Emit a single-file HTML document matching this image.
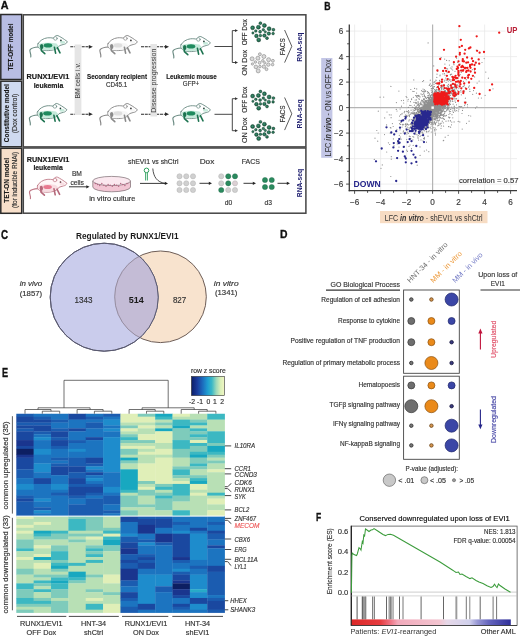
<!DOCTYPE html>
<html><head><meta charset="utf-8"><style>
html,body{margin:0;padding:0;background:#fff;}
body{width:520px;height:637px;overflow:hidden;}
svg{display:block;font-family:"Liberation Sans", sans-serif;filter:blur(0.35px);}
</style></head><body>
<svg width="520" height="637" viewBox="0 0 520 637">
<rect width="520" height="637" fill="#fff"/>
<text x="0.8" y="9.4" font-size="11.4" font-weight="bold" fill="#111" textLength="7.8" lengthAdjust="spacingAndGlyphs" stroke="#111" stroke-width="0.35">A</text>
<rect x="0.8" y="14.5" width="20.9" height="65" fill="#b8bde3" stroke="#2a2a2a" stroke-width="1.5"/>
<rect x="0.8" y="81.2" width="20.9" height="65.6" fill="#cfdaf0" stroke="#2a2a2a" stroke-width="1.5"/>
<rect x="0.8" y="148.3" width="20.9" height="65" fill="#f8e0cb" stroke="#2a2a2a" stroke-width="1.5"/>
<rect x="23.3" y="14.8" width="282.6" height="132.1" fill="#fff" stroke="#444" stroke-width="1.5"/>
<rect x="23.3" y="148" width="282.6" height="65.2" fill="#fff" stroke="#444" stroke-width="1.5"/>
<text x="13.4" y="47.1" font-size="7" font-weight="bold" fill="#1a1a1a" text-anchor="middle" textLength="47" lengthAdjust="spacingAndGlyphs" transform="rotate(-90 13.4 47.1)" stroke="#1a1a1a" stroke-width="0.12">TET-OFF model</text>
<text x="9.2" y="113.2" font-size="7" font-weight="bold" fill="#1a1a1a" text-anchor="middle" textLength="58" lengthAdjust="spacingAndGlyphs" transform="rotate(-90 9.2 113.2)" stroke="#1a1a1a" stroke-width="0.12">Constitutive model</text>
<text x="16.8" y="113.5" font-size="7" fill="#333" text-anchor="middle" textLength="39.5" lengthAdjust="spacingAndGlyphs" transform="rotate(-90 16.8 113.5)" stroke="#333" stroke-width="0.16">(Dox control)</text>
<text x="9.2" y="180.4" font-size="7" font-weight="bold" fill="#1a1a1a" text-anchor="middle" textLength="44.8" lengthAdjust="spacingAndGlyphs" transform="rotate(-90 9.2 180.4)" stroke="#1a1a1a" stroke-width="0.12">TET-ON model</text>
<text x="16.8" y="179.9" font-size="7" fill="#333" text-anchor="middle" textLength="56" lengthAdjust="spacingAndGlyphs" transform="rotate(-90 16.8 179.9)" stroke="#333" stroke-width="0.16">(for inducible RNAi)</text>
<g transform="translate(25 30)" stroke-linecap="round" stroke-linejoin="round">
<path d="M13.6,17 C10,17.2 6.4,18 5,19.8 C4.2,21.6 6.4,23.8 5.8,27" fill="none" stroke="#6a8a82" stroke-width="1.15"/>
<path d="M13,13.8 C14.5,10.8 18.5,8.2 22.5,7.8 C25,7.6 27,7.8 28.5,8.2 C30,6.2 31.3,5 32.9,5.6 C35.2,6.7 38.5,8.6 42.4,11.7 C41.6,13.4 40.2,14.1 38.9,14.3 L34.6,15.6 C32.5,18.3 30.5,19.6 28.5,19.9 C25,20.6 21.6,20.8 19,20.4 C16.5,20.1 14.2,18.8 13.2,17.2 C12.6,16.1 12.6,14.9 13,13.8 Z" fill="#ffffff" stroke="#6a8a82" stroke-width="0.9"/>
<path d="M13.8,14.2 C18,12.4 26,12.3 31.5,13.6 L33.6,16 C31.5,18.6 28.6,19.8 25,20.1 C21,20.5 17,20.2 15,18.9 C13.8,17.9 13.5,15.6 13.8,14.2 Z" fill="#c6eadb"/>
<ellipse cx="37.6" cy="12.4" rx="2.6" ry="1.4" fill="#c6eadb"/>
<circle cx="30.4" cy="8.4" r="1.8" fill="#ffffff" stroke="#6a8a82" stroke-width="0.7"/>
<ellipse cx="23" cy="15.4" rx="4.3" ry="2.1" fill="#1f8a5e"/>
<ellipse cx="16.8" cy="16.6" rx="1.6" ry="2.5" fill="#1d7350"/>
<circle cx="35.9" cy="10.4" r="0.85" fill="#1f3f35"/>
<path d="M16.1,15.4 L16.4,20.6 L19.8,23.6 M29.4,17.2 L30.6,23.2 M32.4,17.6 L35,22.8" fill="none" stroke="#1d7350" stroke-width="1.6"/>
</g>
<g transform="translate(95 30)" stroke-linecap="round" stroke-linejoin="round">
<path d="M13.6,17 C10,17.2 6.4,18 5,19.8 C4.2,21.6 6.4,23.8 5.8,27" fill="none" stroke="#858585" stroke-width="1.15"/>
<path d="M13,13.8 C14.5,10.8 18.5,8.2 22.5,7.8 C25,7.6 27,7.8 28.5,8.2 C30,6.2 31.3,5 32.9,5.6 C35.2,6.7 38.5,8.6 42.4,11.7 C41.6,13.4 40.2,14.1 38.9,14.3 L34.6,15.6 C32.5,18.3 30.5,19.6 28.5,19.9 C25,20.6 21.6,20.8 19,20.4 C16.5,20.1 14.2,18.8 13.2,17.2 C12.6,16.1 12.6,14.9 13,13.8 Z" fill="#ffffff" stroke="#858585" stroke-width="0.9"/>
<path d="M13.8,14.2 C18,12.4 26,12.3 31.5,13.6 L33.6,16 C31.5,18.6 28.6,19.8 25,20.1 C21,20.5 17,20.2 15,18.9 C13.8,17.9 13.5,15.6 13.8,14.2 Z" fill="#f6f6f6"/>
<ellipse cx="37.6" cy="12.4" rx="2.6" ry="1.4" fill="#f6f6f6"/>
<circle cx="30.4" cy="8.4" r="1.8" fill="#ffffff" stroke="#858585" stroke-width="0.7"/>
<ellipse cx="23" cy="15.4" rx="4.3" ry="2.1" fill="#dedede"/>
<ellipse cx="16.8" cy="16.6" rx="1.6" ry="2.5" fill="#8a8a8a"/>
<circle cx="35.9" cy="10.4" r="0.85" fill="#333"/>
<path d="M16.1,15.4 L16.4,20.6 L19.8,23.6 M29.4,17.2 L30.6,23.2 M32.4,17.6 L35,22.8" fill="none" stroke="#8a8a8a" stroke-width="1.6"/>
</g>
<g transform="translate(24.5 98)" stroke-linecap="round" stroke-linejoin="round">
<path d="M13.6,17 C10,17.2 6.4,18 5,19.8 C4.2,21.6 6.4,23.8 5.8,27" fill="none" stroke="#6a8a82" stroke-width="1.15"/>
<path d="M13,13.8 C14.5,10.8 18.5,8.2 22.5,7.8 C25,7.6 27,7.8 28.5,8.2 C30,6.2 31.3,5 32.9,5.6 C35.2,6.7 38.5,8.6 42.4,11.7 C41.6,13.4 40.2,14.1 38.9,14.3 L34.6,15.6 C32.5,18.3 30.5,19.6 28.5,19.9 C25,20.6 21.6,20.8 19,20.4 C16.5,20.1 14.2,18.8 13.2,17.2 C12.6,16.1 12.6,14.9 13,13.8 Z" fill="#ffffff" stroke="#6a8a82" stroke-width="0.9"/>
<path d="M13.8,14.2 C18,12.4 26,12.3 31.5,13.6 L33.6,16 C31.5,18.6 28.6,19.8 25,20.1 C21,20.5 17,20.2 15,18.9 C13.8,17.9 13.5,15.6 13.8,14.2 Z" fill="#c6eadb"/>
<ellipse cx="37.6" cy="12.4" rx="2.6" ry="1.4" fill="#c6eadb"/>
<circle cx="30.4" cy="8.4" r="1.8" fill="#ffffff" stroke="#6a8a82" stroke-width="0.7"/>
<ellipse cx="23" cy="15.4" rx="4.3" ry="2.1" fill="#1f8a5e"/>
<ellipse cx="16.8" cy="16.6" rx="1.6" ry="2.5" fill="#1d7350"/>
<circle cx="35.9" cy="10.4" r="0.85" fill="#1f3f35"/>
<path d="M16.1,15.4 L16.4,20.6 L19.8,23.6 M29.4,17.2 L30.6,23.2 M32.4,17.6 L35,22.8" fill="none" stroke="#1d7350" stroke-width="1.6"/>
</g>
<g transform="translate(95 98)" stroke-linecap="round" stroke-linejoin="round">
<path d="M13.6,17 C10,17.2 6.4,18 5,19.8 C4.2,21.6 6.4,23.8 5.8,27" fill="none" stroke="#858585" stroke-width="1.15"/>
<path d="M13,13.8 C14.5,10.8 18.5,8.2 22.5,7.8 C25,7.6 27,7.8 28.5,8.2 C30,6.2 31.3,5 32.9,5.6 C35.2,6.7 38.5,8.6 42.4,11.7 C41.6,13.4 40.2,14.1 38.9,14.3 L34.6,15.6 C32.5,18.3 30.5,19.6 28.5,19.9 C25,20.6 21.6,20.8 19,20.4 C16.5,20.1 14.2,18.8 13.2,17.2 C12.6,16.1 12.6,14.9 13,13.8 Z" fill="#ffffff" stroke="#858585" stroke-width="0.9"/>
<path d="M13.8,14.2 C18,12.4 26,12.3 31.5,13.6 L33.6,16 C31.5,18.6 28.6,19.8 25,20.1 C21,20.5 17,20.2 15,18.9 C13.8,17.9 13.5,15.6 13.8,14.2 Z" fill="#f6f6f6"/>
<ellipse cx="37.6" cy="12.4" rx="2.6" ry="1.4" fill="#f6f6f6"/>
<circle cx="30.4" cy="8.4" r="1.8" fill="#ffffff" stroke="#858585" stroke-width="0.7"/>
<ellipse cx="23" cy="15.4" rx="4.3" ry="2.1" fill="#dedede"/>
<ellipse cx="16.8" cy="16.6" rx="1.6" ry="2.5" fill="#8a8a8a"/>
<circle cx="35.9" cy="10.4" r="0.85" fill="#333"/>
<path d="M16.1,15.4 L16.4,20.6 L19.8,23.6 M29.4,17.2 L30.6,23.2 M32.4,17.6 L35,22.8" fill="none" stroke="#8a8a8a" stroke-width="1.6"/>
</g>
<g transform="translate(168 31)" stroke-linecap="round" stroke-linejoin="round">
<path d="M13.6,17 C10,17.2 6.4,18 5,19.8 C4.2,21.6 6.4,23.8 5.8,27" fill="none" stroke="#6a8a82" stroke-width="1.15"/>
<path d="M13,13.8 C14.5,10.8 18.5,8.2 22.5,7.8 C25,7.6 27,7.8 28.5,8.2 C30,6.2 31.3,5 32.9,5.6 C35.2,6.7 38.5,8.6 42.4,11.7 C41.6,13.4 40.2,14.1 38.9,14.3 L34.6,15.6 C32.5,18.3 30.5,19.6 28.5,19.9 C25,20.6 21.6,20.8 19,20.4 C16.5,20.1 14.2,18.8 13.2,17.2 C12.6,16.1 12.6,14.9 13,13.8 Z" fill="#ffffff" stroke="#6a8a82" stroke-width="0.9"/>
<path d="M13.8,14.2 C18,12.4 26,12.3 31.5,13.6 L33.6,16 C31.5,18.6 28.6,19.8 25,20.1 C21,20.5 17,20.2 15,18.9 C13.8,17.9 13.5,15.6 13.8,14.2 Z" fill="#c6eadb"/>
<ellipse cx="37.6" cy="12.4" rx="2.6" ry="1.4" fill="#c6eadb"/>
<circle cx="30.4" cy="8.4" r="1.8" fill="#ffffff" stroke="#6a8a82" stroke-width="0.7"/>
<ellipse cx="23" cy="15.4" rx="4.3" ry="2.1" fill="#1f8a5e"/>
<ellipse cx="16.8" cy="16.6" rx="1.6" ry="2.5" fill="#1d7350"/>
<circle cx="35.9" cy="10.4" r="0.85" fill="#1f3f35"/>
<path d="M16.1,15.4 L16.4,20.6 L19.8,23.6 M29.4,17.2 L30.6,23.2 M32.4,17.6 L35,22.8" fill="none" stroke="#1d7350" stroke-width="1.6"/>
</g>
<g transform="translate(168 98)" stroke-linecap="round" stroke-linejoin="round">
<path d="M13.6,17 C10,17.2 6.4,18 5,19.8 C4.2,21.6 6.4,23.8 5.8,27" fill="none" stroke="#6a8a82" stroke-width="1.15"/>
<path d="M13,13.8 C14.5,10.8 18.5,8.2 22.5,7.8 C25,7.6 27,7.8 28.5,8.2 C30,6.2 31.3,5 32.9,5.6 C35.2,6.7 38.5,8.6 42.4,11.7 C41.6,13.4 40.2,14.1 38.9,14.3 L34.6,15.6 C32.5,18.3 30.5,19.6 28.5,19.9 C25,20.6 21.6,20.8 19,20.4 C16.5,20.1 14.2,18.8 13.2,17.2 C12.6,16.1 12.6,14.9 13,13.8 Z" fill="#ffffff" stroke="#6a8a82" stroke-width="0.9"/>
<path d="M13.8,14.2 C18,12.4 26,12.3 31.5,13.6 L33.6,16 C31.5,18.6 28.6,19.8 25,20.1 C21,20.5 17,20.2 15,18.9 C13.8,17.9 13.5,15.6 13.8,14.2 Z" fill="#c6eadb"/>
<ellipse cx="37.6" cy="12.4" rx="2.6" ry="1.4" fill="#c6eadb"/>
<circle cx="30.4" cy="8.4" r="1.8" fill="#ffffff" stroke="#6a8a82" stroke-width="0.7"/>
<ellipse cx="23" cy="15.4" rx="4.3" ry="2.1" fill="#1f8a5e"/>
<ellipse cx="16.8" cy="16.6" rx="1.6" ry="2.5" fill="#1d7350"/>
<circle cx="35.9" cy="10.4" r="0.85" fill="#1f3f35"/>
<path d="M16.1,15.4 L16.4,20.6 L19.8,23.6 M29.4,17.2 L30.6,23.2 M32.4,17.6 L35,22.8" fill="none" stroke="#1d7350" stroke-width="1.6"/>
</g>
<g transform="translate(24.6 171.6)" stroke-linecap="round" stroke-linejoin="round">
<path d="M13.6,17 C10,17.2 6.4,18 5,19.8 C4.2,21.6 6.4,23.8 5.8,27" fill="none" stroke="#c07a88" stroke-width="1.15"/>
<path d="M13,13.8 C14.5,10.8 18.5,8.2 22.5,7.8 C25,7.6 27,7.8 28.5,8.2 C30,6.2 31.3,5 32.9,5.6 C35.2,6.7 38.5,8.6 42.4,11.7 C41.6,13.4 40.2,14.1 38.9,14.3 L34.6,15.6 C32.5,18.3 30.5,19.6 28.5,19.9 C25,20.6 21.6,20.8 19,20.4 C16.5,20.1 14.2,18.8 13.2,17.2 C12.6,16.1 12.6,14.9 13,13.8 Z" fill="#fff6f7" stroke="#c07a88" stroke-width="0.9"/>
<path d="M13.8,14.2 C18,12.4 26,12.3 31.5,13.6 L33.6,16 C31.5,18.6 28.6,19.8 25,20.1 C21,20.5 17,20.2 15,18.9 C13.8,17.9 13.5,15.6 13.8,14.2 Z" fill="#f8dde2"/>
<ellipse cx="37.6" cy="12.4" rx="2.6" ry="1.4" fill="#f8dde2"/>
<circle cx="30.4" cy="8.4" r="1.8" fill="#fff6f7" stroke="#c07a88" stroke-width="0.7"/>
<ellipse cx="23" cy="15.4" rx="4.3" ry="2.1" fill="#e8798f"/>
<ellipse cx="16.8" cy="16.6" rx="1.6" ry="2.5" fill="#b5687a"/>
<circle cx="35.9" cy="10.4" r="0.85" fill="#5a2a33"/>
<path d="M16.1,15.4 L16.4,20.6 L19.8,23.6 M29.4,17.2 L30.6,23.2 M32.4,17.6 L35,22.8" fill="none" stroke="#b5687a" stroke-width="1.6"/>
</g>
<line x1="70.3" y1="46.8" x2="89.3" y2="46.8" stroke="#2a2a2a" stroke-width="1.1" stroke-dasharray="3 0.8"/>
<path d="M92.8,46.8 L88.8,44.9 L88.8,48.699999999999996 Z" fill="#2a2a2a"/>
<line x1="70.3" y1="114.2" x2="89.3" y2="114.2" stroke="#2a2a2a" stroke-width="1.1" stroke-dasharray="3 0.8"/>
<path d="M92.8,114.2 L88.8,112.3 L88.8,116.10000000000001 Z" fill="#2a2a2a"/>
<line x1="141" y1="46.8" x2="165.5" y2="46.8" stroke="#2a2a2a" stroke-width="1.1" stroke-dasharray="3 0.8"/>
<path d="M169,46.8 L165,44.9 L165,48.699999999999996 Z" fill="#2a2a2a"/>
<line x1="141" y1="114.2" x2="165.5" y2="114.2" stroke="#2a2a2a" stroke-width="1.1" stroke-dasharray="3 0.8"/>
<path d="M169,114.2 L165,112.3 L165,116.10000000000001 Z" fill="#2a2a2a"/>
<rect x="74.6" y="44.5" width="6.8" height="70.5" fill="#e5e5e5"/>
<rect x="150.4" y="44" width="6.6" height="72.5" fill="#e5e5e5"/>
<text x="79.9" y="80.6" font-size="7.3" fill="#3a3a3a" text-anchor="middle" textLength="35.9" lengthAdjust="spacingAndGlyphs" transform="rotate(-90 79.9 80.6)" stroke="none">BM cells i.v.</text>
<text x="156.1" y="80.7" font-size="7.3" fill="#3a3a3a" text-anchor="middle" textLength="64" lengthAdjust="spacingAndGlyphs" transform="rotate(-90 156.1 80.7)" stroke="none">Disease progression</text>
<text x="26.6" y="79.4" font-size="8.1" font-weight="bold" fill="#1a1a1a" textLength="42.6" lengthAdjust="spacingAndGlyphs" stroke="#1a1a1a" stroke-width="0.2">RUNX1/EVI1</text>
<text x="33.7" y="87.9" font-size="8" font-weight="bold" fill="#1a1a1a" textLength="29.6" lengthAdjust="spacingAndGlyphs" stroke="#1a1a1a" stroke-width="0.2">leukemia</text>
<text x="87" y="79.3" font-size="7.8" font-weight="bold" fill="#1a1a1a" textLength="60" lengthAdjust="spacingAndGlyphs" stroke="#1a1a1a" stroke-width="0.15">Secondary recipient</text>
<text x="106" y="87.3" font-size="7.2" fill="#333" textLength="21.3" lengthAdjust="spacingAndGlyphs" stroke="#333" stroke-width="0.16">CD45.1</text>
<text x="166.2" y="79.3" font-size="7.8" font-weight="bold" fill="#1a1a1a" textLength="50.5" lengthAdjust="spacingAndGlyphs" stroke="#1a1a1a" stroke-width="0.15">Leukemic mouse</text>
<text x="182.8" y="86.4" font-size="6.9" fill="#333" textLength="16.4" lengthAdjust="spacingAndGlyphs" stroke="#333" stroke-width="0.16">GFP+</text>
<line x1="214.5" y1="46.5" x2="232.3" y2="46.5" stroke="#333" stroke-width="0.9"/>
<line x1="232.3" y1="30.6" x2="232.3" y2="62.5" stroke="#333" stroke-width="0.9"/>
<line x1="232.3" y1="30.6" x2="235.5" y2="30.6" stroke="#333" stroke-width="0.9"/>
<path d="M238,30.6 L235,29.200000000000003 L235,32.0 Z" fill="#333"/>
<line x1="232.3" y1="62.5" x2="235.5" y2="62.5" stroke="#333" stroke-width="0.9"/>
<path d="M238,62.5 L235,61.1 L235,63.9 Z" fill="#333"/>
<line x1="214.5" y1="114.3" x2="232.3" y2="114.3" stroke="#333" stroke-width="0.9"/>
<line x1="232.3" y1="98.7" x2="232.3" y2="130.7" stroke="#333" stroke-width="0.9"/>
<line x1="232.3" y1="98.7" x2="235.5" y2="98.7" stroke="#333" stroke-width="0.9"/>
<path d="M238,98.7 L235,97.3 L235,100.10000000000001 Z" fill="#333"/>
<line x1="232.3" y1="130.7" x2="235.5" y2="130.7" stroke="#333" stroke-width="0.9"/>
<path d="M238,130.7 L235,129.29999999999998 L235,132.1 Z" fill="#333"/>
<radialGradient id="cg" cx="0.45" cy="0.45" r="0.6"><stop offset="0" stop-color="#3e9474"/><stop offset="0.55" stop-color="#236b4f"/><stop offset="1" stop-color="#173f30"/></radialGradient>
<circle cx="260.4" cy="23.2" r="1.45" fill="url(#cg)" stroke="#1a4d38" stroke-width="0.45"/>
<circle cx="252.6" cy="27.8" r="2.0" fill="url(#cg)" stroke="#1a4d38" stroke-width="0.45"/>
<circle cx="258.4" cy="27.2" r="2.0" fill="url(#cg)" stroke="#1a4d38" stroke-width="0.45"/>
<circle cx="264.4" cy="25.5" r="2.0" fill="url(#cg)" stroke="#1a4d38" stroke-width="0.45"/>
<circle cx="269.1" cy="28.7" r="2.0" fill="url(#cg)" stroke="#1a4d38" stroke-width="0.45"/>
<circle cx="273.4" cy="29.8" r="1.45" fill="url(#cg)" stroke="#1a4d38" stroke-width="0.45"/>
<circle cx="255.8" cy="31.0" r="1.3" fill="url(#cg)" stroke="#1a4d38" stroke-width="0.45"/>
<circle cx="260.1" cy="31.8" r="1.45" fill="url(#cg)" stroke="#1a4d38" stroke-width="0.45"/>
<circle cx="263.3" cy="29.8" r="1.3" fill="url(#cg)" stroke="#1a4d38" stroke-width="0.45"/>
<circle cx="252.9" cy="33.0" r="1.15" fill="url(#cg)" stroke="#1a4d38" stroke-width="0.45"/>
<circle cx="268.8" cy="33.6" r="1.75" fill="url(#cg)" stroke="#1a4d38" stroke-width="0.45"/>
<circle cx="273.1" cy="33.6" r="1.3" fill="url(#cg)" stroke="#1a4d38" stroke-width="0.45"/>
<circle cx="256.4" cy="35.9" r="1.85" fill="url(#cg)" stroke="#1a4d38" stroke-width="0.45"/>
<circle cx="260.4" cy="35.6" r="1.3" fill="url(#cg)" stroke="#1a4d38" stroke-width="0.45"/>
<circle cx="264.4" cy="35.6" r="1.75" fill="url(#cg)" stroke="#1a4d38" stroke-width="0.45"/>
<circle cx="267.0" cy="38.2" r="1.45" fill="url(#cg)" stroke="#1a4d38" stroke-width="0.45"/>
<circle cx="258.7" cy="39.9" r="2.0" fill="url(#cg)" stroke="#1a4d38" stroke-width="0.45"/>
<circle cx="265.3" cy="31.8" r="1.15" fill="url(#cg)" stroke="#1a4d38" stroke-width="0.45"/>
<circle cx="259.9" cy="54.2" r="1.45" fill="#dadada" stroke="#858585" stroke-width="0.6"/>
<circle cx="252.1" cy="58.8" r="2.0" fill="#dadada" stroke="#858585" stroke-width="0.6"/>
<circle cx="257.9" cy="58.2" r="2.0" fill="#dadada" stroke="#858585" stroke-width="0.6"/>
<circle cx="263.9" cy="56.5" r="2.0" fill="#dadada" stroke="#858585" stroke-width="0.6"/>
<circle cx="268.6" cy="59.7" r="2.0" fill="#dadada" stroke="#858585" stroke-width="0.6"/>
<circle cx="272.9" cy="60.8" r="1.45" fill="#dadada" stroke="#858585" stroke-width="0.6"/>
<circle cx="255.3" cy="62.0" r="1.3" fill="#dadada" stroke="#858585" stroke-width="0.6"/>
<circle cx="259.6" cy="62.8" r="1.45" fill="#dadada" stroke="#858585" stroke-width="0.6"/>
<circle cx="262.8" cy="60.8" r="1.3" fill="#dadada" stroke="#858585" stroke-width="0.6"/>
<circle cx="252.4" cy="64.0" r="1.15" fill="#dadada" stroke="#858585" stroke-width="0.6"/>
<circle cx="268.3" cy="64.6" r="1.75" fill="#dadada" stroke="#858585" stroke-width="0.6"/>
<circle cx="272.6" cy="64.6" r="1.3" fill="#dadada" stroke="#858585" stroke-width="0.6"/>
<circle cx="255.9" cy="66.9" r="1.85" fill="#dadada" stroke="#858585" stroke-width="0.6"/>
<circle cx="259.9" cy="66.6" r="1.3" fill="#dadada" stroke="#858585" stroke-width="0.6"/>
<circle cx="263.9" cy="66.6" r="1.75" fill="#dadada" stroke="#858585" stroke-width="0.6"/>
<circle cx="266.5" cy="69.2" r="1.45" fill="#dadada" stroke="#858585" stroke-width="0.6"/>
<circle cx="258.2" cy="70.9" r="2.0" fill="#dadada" stroke="#858585" stroke-width="0.6"/>
<circle cx="264.8" cy="62.8" r="1.15" fill="#dadada" stroke="#858585" stroke-width="0.6"/>
<circle cx="260.4" cy="91.5" r="1.45" fill="url(#cg)" stroke="#1a4d38" stroke-width="0.45"/>
<circle cx="252.6" cy="96.1" r="2.0" fill="url(#cg)" stroke="#1a4d38" stroke-width="0.45"/>
<circle cx="258.4" cy="95.5" r="2.0" fill="url(#cg)" stroke="#1a4d38" stroke-width="0.45"/>
<circle cx="264.4" cy="93.8" r="2.0" fill="url(#cg)" stroke="#1a4d38" stroke-width="0.45"/>
<circle cx="269.1" cy="97.0" r="2.0" fill="url(#cg)" stroke="#1a4d38" stroke-width="0.45"/>
<circle cx="273.4" cy="98.1" r="1.45" fill="url(#cg)" stroke="#1a4d38" stroke-width="0.45"/>
<circle cx="255.8" cy="99.3" r="1.3" fill="url(#cg)" stroke="#1a4d38" stroke-width="0.45"/>
<circle cx="260.1" cy="100.1" r="1.45" fill="url(#cg)" stroke="#1a4d38" stroke-width="0.45"/>
<circle cx="263.3" cy="98.1" r="1.3" fill="url(#cg)" stroke="#1a4d38" stroke-width="0.45"/>
<circle cx="252.9" cy="101.3" r="1.15" fill="url(#cg)" stroke="#1a4d38" stroke-width="0.45"/>
<circle cx="268.8" cy="101.9" r="1.75" fill="url(#cg)" stroke="#1a4d38" stroke-width="0.45"/>
<circle cx="273.1" cy="101.9" r="1.3" fill="url(#cg)" stroke="#1a4d38" stroke-width="0.45"/>
<circle cx="256.4" cy="104.2" r="1.85" fill="url(#cg)" stroke="#1a4d38" stroke-width="0.45"/>
<circle cx="260.4" cy="103.9" r="1.3" fill="url(#cg)" stroke="#1a4d38" stroke-width="0.45"/>
<circle cx="264.4" cy="103.9" r="1.75" fill="url(#cg)" stroke="#1a4d38" stroke-width="0.45"/>
<circle cx="267.0" cy="106.5" r="1.45" fill="url(#cg)" stroke="#1a4d38" stroke-width="0.45"/>
<circle cx="258.7" cy="108.2" r="2.0" fill="url(#cg)" stroke="#1a4d38" stroke-width="0.45"/>
<circle cx="265.3" cy="100.1" r="1.15" fill="url(#cg)" stroke="#1a4d38" stroke-width="0.45"/>
<circle cx="260.4" cy="121.9" r="1.45" fill="url(#cg)" stroke="#1a4d38" stroke-width="0.45"/>
<circle cx="252.6" cy="126.5" r="2.0" fill="url(#cg)" stroke="#1a4d38" stroke-width="0.45"/>
<circle cx="258.4" cy="125.9" r="2.0" fill="url(#cg)" stroke="#1a4d38" stroke-width="0.45"/>
<circle cx="264.4" cy="124.2" r="2.0" fill="url(#cg)" stroke="#1a4d38" stroke-width="0.45"/>
<circle cx="269.1" cy="127.4" r="2.0" fill="url(#cg)" stroke="#1a4d38" stroke-width="0.45"/>
<circle cx="273.4" cy="128.5" r="1.45" fill="url(#cg)" stroke="#1a4d38" stroke-width="0.45"/>
<circle cx="255.8" cy="129.7" r="1.3" fill="url(#cg)" stroke="#1a4d38" stroke-width="0.45"/>
<circle cx="260.1" cy="130.5" r="1.45" fill="url(#cg)" stroke="#1a4d38" stroke-width="0.45"/>
<circle cx="263.3" cy="128.5" r="1.3" fill="url(#cg)" stroke="#1a4d38" stroke-width="0.45"/>
<circle cx="252.9" cy="131.7" r="1.15" fill="url(#cg)" stroke="#1a4d38" stroke-width="0.45"/>
<circle cx="268.8" cy="132.3" r="1.75" fill="url(#cg)" stroke="#1a4d38" stroke-width="0.45"/>
<circle cx="273.1" cy="132.3" r="1.3" fill="url(#cg)" stroke="#1a4d38" stroke-width="0.45"/>
<circle cx="256.4" cy="134.6" r="1.85" fill="url(#cg)" stroke="#1a4d38" stroke-width="0.45"/>
<circle cx="260.4" cy="134.3" r="1.3" fill="url(#cg)" stroke="#1a4d38" stroke-width="0.45"/>
<circle cx="264.4" cy="134.3" r="1.75" fill="url(#cg)" stroke="#1a4d38" stroke-width="0.45"/>
<circle cx="267.0" cy="136.9" r="1.45" fill="url(#cg)" stroke="#1a4d38" stroke-width="0.45"/>
<circle cx="258.7" cy="138.6" r="2.0" fill="url(#cg)" stroke="#1a4d38" stroke-width="0.45"/>
<circle cx="265.3" cy="130.5" r="1.15" fill="url(#cg)" stroke="#1a4d38" stroke-width="0.45"/>
<text x="247.2" y="32.3" font-size="7" fill="#333" text-anchor="middle" textLength="26" lengthAdjust="spacingAndGlyphs" transform="rotate(-90 247.2 32.3)" stroke="#333" stroke-width="0.16">OFF Dox</text>
<text x="247.2" y="62.7" font-size="7" fill="#333" text-anchor="middle" textLength="25.4" lengthAdjust="spacingAndGlyphs" transform="rotate(-90 247.2 62.7)" stroke="#333" stroke-width="0.16">ON Dox</text>
<text x="284.6" y="46.7" font-size="7" fill="#333" text-anchor="middle" textLength="17" lengthAdjust="spacingAndGlyphs" transform="rotate(-90 284.6 46.7)" stroke="#333" stroke-width="0.16">FACS</text>
<path d="M284.6,30 L291.8,46.3 L284.6,62.6" fill="none" stroke="#333" stroke-width="0.8"/>
<text x="301.8" y="47.1" font-size="7.2" font-weight="bold" fill="#1c1c6e" text-anchor="middle" textLength="29.2" lengthAdjust="spacingAndGlyphs" transform="rotate(-90 301.8 47.1)">RNA-seq</text>
<text x="247.2" y="99.7" font-size="7" fill="#333" text-anchor="middle" textLength="26" lengthAdjust="spacingAndGlyphs" transform="rotate(-90 247.2 99.7)" stroke="#333" stroke-width="0.16">OFF Dox</text>
<text x="247.2" y="130.4" font-size="7" fill="#333" text-anchor="middle" textLength="25.4" lengthAdjust="spacingAndGlyphs" transform="rotate(-90 247.2 130.4)" stroke="#333" stroke-width="0.16">ON Dox</text>
<text x="284.6" y="113.9" font-size="7" fill="#333" text-anchor="middle" textLength="17" lengthAdjust="spacingAndGlyphs" transform="rotate(-90 284.6 113.9)" stroke="#333" stroke-width="0.16">FACS</text>
<path d="M284.6,97.5 L291.8,113.8 L284.6,130.1" fill="none" stroke="#333" stroke-width="0.8"/>
<text x="301.8" y="113.9" font-size="7.2" font-weight="bold" fill="#1c1c6e" text-anchor="middle" textLength="29.2" lengthAdjust="spacingAndGlyphs" transform="rotate(-90 301.8 113.9)">RNA-seq</text>
<text x="26.8" y="161.8" font-size="8.1" font-weight="bold" fill="#1a1a1a" textLength="42.4" lengthAdjust="spacingAndGlyphs" stroke="#1a1a1a" stroke-width="0.2">RUNX1/EVI1</text>
<text x="33.4" y="170.3" font-size="8" font-weight="bold" fill="#1a1a1a" textLength="29.3" lengthAdjust="spacingAndGlyphs" stroke="#1a1a1a" stroke-width="0.2">leukemia</text>
<text x="71.9" y="176.4" font-size="7.2" fill="#333" textLength="10" lengthAdjust="spacingAndGlyphs" stroke="#333" stroke-width="0.16">BM</text>
<text x="70.5" y="184.5" font-size="7.2" fill="#333" textLength="13.5" lengthAdjust="spacingAndGlyphs" stroke="#333" stroke-width="0.16">cells</text>
<line x1="69" y1="186.8" x2="86.8" y2="186.8" stroke="#222" stroke-width="0.9"/>
<path d="M89.5,186.8 L86.3,185.20000000000002 L86.3,188.4 Z" fill="#222"/>
<path d="M92.8,181 L92.8,187 A18.85,4.8 0 0 0 130.5,187 L130.5,181 Z" fill="#f2c6d4" stroke="#7a6a70" stroke-width="0.7"/>
<ellipse cx="111.65" cy="181" rx="18.85" ry="4.6" fill="#fbe8ef" stroke="#7a6a70" stroke-width="0.7"/>
<circle cx="95.5" cy="183.6" r="0.75" fill="#b86884"/>
<circle cx="97.6" cy="184.5" r="0.75" fill="#b86884"/>
<circle cx="99.7" cy="185.4" r="0.75" fill="#b86884"/>
<circle cx="101.8" cy="183.6" r="0.75" fill="#b86884"/>
<circle cx="103.9" cy="185.3" r="0.75" fill="#b86884"/>
<circle cx="106.0" cy="186.2" r="0.75" fill="#b86884"/>
<circle cx="108.1" cy="184.4" r="0.75" fill="#b86884"/>
<circle cx="110.2" cy="185.3" r="0.75" fill="#b86884"/>
<circle cx="112.3" cy="186.2" r="0.75" fill="#b86884"/>
<circle cx="114.4" cy="184.4" r="0.75" fill="#b86884"/>
<circle cx="116.5" cy="185.3" r="0.75" fill="#b86884"/>
<circle cx="118.6" cy="186.2" r="0.75" fill="#b86884"/>
<circle cx="120.7" cy="183.6" r="0.75" fill="#b86884"/>
<circle cx="122.8" cy="184.5" r="0.75" fill="#b86884"/>
<circle cx="124.9" cy="185.4" r="0.75" fill="#b86884"/>
<circle cx="127.0" cy="183.6" r="0.75" fill="#b86884"/>
<text x="89.2" y="200.6" font-size="7.2" fill="#333" textLength="46.2" lengthAdjust="spacingAndGlyphs" stroke="#333" stroke-width="0.16">in vitro culture</text>
<text x="128" y="163.9" font-size="7.2" fill="#333" textLength="50.5" lengthAdjust="spacingAndGlyphs" stroke="#333" stroke-width="0.16">shEVI1 vs shCtrl</text>
<path d="M145.6,180.5 L145.6,172.6 M147.4,180.5 L147.4,172.6" stroke="#2ca05c" stroke-width="0.9"/>
<circle cx="146.5" cy="170.4" r="2.3" fill="none" stroke="#2ca05c" stroke-width="1"/>
<path d="M152.8,168.5 C153.5,177 157,182 165,183.4" fill="none" stroke="#222" stroke-width="0.8"/>
<line x1="140" y1="183.4" x2="165.3" y2="183.4" stroke="#222" stroke-width="0.9"/>
<path d="M168,183.4 L164.8,181.8 L164.8,185.0 Z" fill="#222"/>
<text x="199.7" y="163.9" font-size="7.2" fill="#333" textLength="14.6" lengthAdjust="spacingAndGlyphs" stroke="#333" stroke-width="0.16">Dox</text>
<text x="241.7" y="163.9" font-size="7.2" fill="#333" textLength="18.3" lengthAdjust="spacingAndGlyphs" stroke="#333" stroke-width="0.16">FACS</text>
<line x1="199.5" y1="183.3" x2="209.3" y2="183.3" stroke="#222" stroke-width="0.9"/>
<path d="M212,183.3 L208.8,181.70000000000002 L208.8,184.9 Z" fill="#222"/>
<line x1="243.5" y1="183.3" x2="253.3" y2="183.3" stroke="#222" stroke-width="0.9"/>
<path d="M256,183.3 L252.8,181.70000000000002 L252.8,184.9 Z" fill="#222"/>
<line x1="277.5" y1="183.3" x2="287.3" y2="183.3" stroke="#222" stroke-width="0.9"/>
<path d="M290,183.3 L286.8,181.70000000000002 L286.8,184.9 Z" fill="#222"/>
<circle cx="179.5" cy="176.3" r="2.6" fill="#d0d0d0" stroke="#aaa" stroke-width="0.4"/>
<circle cx="186.25" cy="176.3" r="2.6" fill="#d0d0d0" stroke="#aaa" stroke-width="0.4"/>
<circle cx="193" cy="176.3" r="2.6" fill="#d0d0d0" stroke="#aaa" stroke-width="0.4"/>
<circle cx="179.5" cy="183.3" r="2.6" fill="#d0d0d0" stroke="#aaa" stroke-width="0.4"/>
<circle cx="186.25" cy="183.3" r="2.6" fill="#d0d0d0" stroke="#aaa" stroke-width="0.4"/>
<circle cx="193" cy="183.3" r="2.6" fill="#d0d0d0" stroke="#aaa" stroke-width="0.4"/>
<circle cx="179.5" cy="190" r="2.6" fill="#d0d0d0" stroke="#aaa" stroke-width="0.4"/>
<circle cx="186.25" cy="190" r="2.6" fill="#d0d0d0" stroke="#aaa" stroke-width="0.4"/>
<circle cx="193" cy="190" r="2.6" fill="#d0d0d0" stroke="#aaa" stroke-width="0.4"/>
<circle cx="221.25" cy="176.3" r="2.6" fill="#d0d0d0" stroke="#aaa" stroke-width="0.4"/>
<circle cx="228.25" cy="176.3" r="2.6" fill="#2a8a5e" stroke="#1d6444" stroke-width="0.4"/>
<circle cx="235" cy="176.3" r="2.6" fill="#2a8a5e" stroke="#1d6444" stroke-width="0.4"/>
<circle cx="221.25" cy="183.3" r="2.6" fill="#d0d0d0" stroke="#aaa" stroke-width="0.4"/>
<circle cx="228.25" cy="183.3" r="2.6" fill="#2a8a5e" stroke="#1d6444" stroke-width="0.4"/>
<circle cx="235" cy="183.3" r="2.6" fill="#dcd0d4" stroke="#aaa" stroke-width="0.4"/>
<circle cx="221.25" cy="190" r="2.6" fill="#2a8a5e" stroke="#1d6444" stroke-width="0.4"/>
<circle cx="228.25" cy="190" r="2.6" fill="#d0d0d0" stroke="#aaa" stroke-width="0.4"/>
<circle cx="235" cy="190" r="2.6" fill="#d0d0d0" stroke="#aaa" stroke-width="0.4"/>
<circle cx="265" cy="180" r="2.6" fill="#2a8a5e" stroke="#1d6444" stroke-width="0.4"/>
<circle cx="271.75" cy="180" r="2.6" fill="#2a8a5e" stroke="#1d6444" stroke-width="0.4"/>
<circle cx="265" cy="187" r="2.6" fill="#2a8a5e" stroke="#1d6444" stroke-width="0.4"/>
<circle cx="271.75" cy="187" r="2.6" fill="#2a8a5e" stroke="#1d6444" stroke-width="0.4"/>
<text x="228.5" y="205" font-size="7.2" fill="#333" text-anchor="middle" textLength="7.5" lengthAdjust="spacingAndGlyphs" stroke="#333" stroke-width="0.16">d0</text>
<text x="268.2" y="205" font-size="7.2" fill="#333" text-anchor="middle" textLength="7.5" lengthAdjust="spacingAndGlyphs" stroke="#333" stroke-width="0.16">d3</text>
<text x="301.8" y="183" font-size="7.2" font-weight="bold" fill="#1c1c6e" text-anchor="middle" textLength="28.3" lengthAdjust="spacingAndGlyphs" transform="rotate(-90 301.8 183)">RNA-seq</text>
<text x="324.2" y="9.6" font-size="11.6" font-weight="bold" fill="#111" textLength="6.3" lengthAdjust="spacingAndGlyphs" stroke="#111" stroke-width="0.35">B</text>
<line x1="354.6" y1="24.5" x2="354.6" y2="190" stroke="#e8e8e8" stroke-width="0.7"/>
<line x1="350" y1="184.1" x2="517" y2="184.1" stroke="#e8e8e8" stroke-width="0.7"/>
<line x1="380.6" y1="24.5" x2="380.6" y2="190" stroke="#e8e8e8" stroke-width="0.7"/>
<line x1="350" y1="158.6" x2="517" y2="158.6" stroke="#e8e8e8" stroke-width="0.7"/>
<line x1="406.6" y1="24.5" x2="406.6" y2="190" stroke="#e8e8e8" stroke-width="0.7"/>
<line x1="350" y1="133.1" x2="517" y2="133.1" stroke="#e8e8e8" stroke-width="0.7"/>
<line x1="458.6" y1="24.5" x2="458.6" y2="190" stroke="#e8e8e8" stroke-width="0.7"/>
<line x1="350" y1="82.1" x2="517" y2="82.1" stroke="#e8e8e8" stroke-width="0.7"/>
<line x1="484.6" y1="24.5" x2="484.6" y2="190" stroke="#e8e8e8" stroke-width="0.7"/>
<line x1="350" y1="56.6" x2="517" y2="56.6" stroke="#e8e8e8" stroke-width="0.7"/>
<line x1="510.6" y1="24.5" x2="510.6" y2="190" stroke="#e8e8e8" stroke-width="0.7"/>
<line x1="350" y1="31.1" x2="517" y2="31.1" stroke="#e8e8e8" stroke-width="0.7"/>
<line x1="432.6" y1="24.5" x2="432.6" y2="190" stroke="#b4b4b4" stroke-width="1.2"/>
<line x1="350" y1="107.6" x2="517" y2="107.6" stroke="#b4b4b4" stroke-width="1.2"/>
<path d="M411.9 113.6h0M419.7 112.2h0M437.9 94.9h0M433.4 109.5h0M449.5 89.6h0M427.5 116.4h0M440.5 102.7h0M434.4 103.0h0M414.9 113.8h0M416.9 117.6h0M428.8 114.6h0M488.4 78.2h0M431.1 112.8h0M431.6 104.8h0M422.4 107.1h0M444.8 103.7h0M438.7 85.2h0M439.1 104.8h0M424.8 118.5h0M451.6 88.0h0M432.8 110.2h0M435.7 104.0h0M436.3 99.5h0M436.4 97.5h0M430.6 110.7h0M437.1 89.6h0M437.3 116.1h0M436.7 92.0h0M425.5 118.6h0M434.6 99.8h0M430.0 105.1h0M439.9 99.9h0M424.0 117.4h0M444.9 103.6h0M435.4 108.6h0M442.7 107.5h0M447.6 68.9h0M446.2 68.4h0M427.2 113.9h0M448.8 95.6h0M428.9 119.8h0M428.1 112.5h0M432.1 109.8h0M412.5 124.9h0M429.9 97.5h0M437.7 104.4h0M436.4 104.4h0M429.5 110.5h0M456.6 110.6h0M429.5 115.8h0M435.7 105.3h0M427.5 123.3h0M424.3 119.9h0M422.1 94.8h0M406.1 128.3h0M431.2 122.3h0M441.5 107.1h0M443.3 108.1h0M438.2 122.0h0M424.9 118.0h0M429.1 111.8h0M455.3 96.1h0M418.8 105.6h0M421.0 110.1h0M432.6 109.8h0M424.7 111.1h0M409.3 119.9h0M432.6 106.8h0M430.7 111.8h0M440.5 107.7h0M440.2 108.5h0M438.3 90.7h0M444.1 107.0h0M427.7 112.6h0M400.4 124.4h0M428.8 122.2h0M436.1 100.7h0M435.2 97.2h0M417.9 115.1h0M439.7 104.4h0M445.5 98.5h0M430.4 115.4h0M432.9 108.4h0M429.0 108.7h0M432.9 104.5h0M424.3 119.2h0M407.4 151.4h0M429.7 114.7h0M433.3 106.0h0M431.7 111.3h0M422.9 101.3h0M424.4 117.9h0M436.3 116.7h0M442.1 106.0h0M409.9 114.3h0M416.9 103.6h0M440.3 124.1h0M428.3 114.9h0M439.2 115.8h0M444.7 59.1h0M446.2 101.9h0M416.7 88.9h0M431.0 106.7h0M414.6 122.1h0M444.2 99.6h0M433.8 110.0h0M433.4 110.0h0M405.6 124.4h0M422.7 133.1h0M435.2 106.9h0M423.6 113.7h0M419.4 127.5h0M427.4 112.1h0M440.5 112.7h0M449.8 117.4h0M426.0 113.8h0M423.7 112.5h0M440.3 104.7h0M437.1 116.2h0M431.1 111.5h0M396.3 109.4h0M431.7 102.1h0M404.2 112.7h0M427.0 110.0h0M421.7 121.6h0M432.9 108.6h0M434.0 98.9h0M427.0 104.8h0M431.9 112.5h0M432.6 101.6h0M426.8 108.8h0M428.8 110.2h0M421.9 122.8h0M446.4 115.4h0M435.6 83.5h0M437.2 107.7h0M447.9 105.9h0M435.3 108.0h0M431.9 112.1h0M438.3 112.7h0M440.5 96.8h0M440.0 103.0h0M447.1 107.1h0M414.0 118.2h0M430.9 111.6h0M435.0 104.8h0M424.2 112.8h0M437.2 96.6h0M447.4 100.3h0M457.8 85.6h0M433.5 115.1h0M420.9 114.8h0M458.8 91.7h0M437.7 95.9h0M429.1 107.6h0M429.6 109.4h0M441.0 123.4h0M424.9 118.4h0M384.5 134.6h0M431.3 88.5h0M434.7 116.0h0M450.7 109.0h0M433.8 115.9h0M432.2 109.8h0M431.7 108.0h0M426.7 116.4h0M441.7 105.4h0M424.9 121.6h0M396.4 102.6h0M420.0 146.9h0M447.7 97.7h0M432.3 102.4h0M434.7 101.6h0M432.5 88.1h0M403.8 124.3h0M456.7 95.2h0M445.8 94.9h0M447.0 96.4h0M426.0 110.2h0M426.0 115.6h0M420.7 108.7h0M426.6 105.3h0M424.2 114.8h0M432.3 106.9h0M438.8 102.9h0M414.4 105.2h0M445.2 95.7h0M415.3 114.9h0M406.9 124.6h0M386.6 124.9h0M428.3 112.6h0M428.4 108.9h0M429.3 109.9h0M429.1 114.6h0M422.6 117.6h0M432.1 111.7h0M447.7 109.3h0M427.0 105.1h0M419.0 119.7h0M432.7 111.0h0M469.9 91.4h0M434.8 105.9h0M424.5 108.6h0M430.2 109.4h0M426.4 121.1h0M427.4 106.1h0M417.1 97.1h0M440.2 100.4h0M424.7 118.2h0M421.0 109.0h0M408.2 99.3h0M426.2 100.9h0M438.6 107.0h0M443.5 95.6h0M444.9 95.2h0M428.9 116.5h0M439.4 101.1h0M440.8 99.4h0M430.8 112.6h0M426.0 104.5h0M445.5 91.2h0M467.5 104.7h0M421.8 109.8h0M422.3 94.6h0M436.5 108.0h0M428.5 106.1h0M427.1 106.7h0M438.7 120.7h0M426.2 113.2h0M436.5 108.4h0M418.8 116.1h0M456.6 98.8h0M445.4 96.3h0M436.5 103.6h0M436.3 107.8h0M443.9 89.8h0M432.8 101.1h0M421.6 114.7h0M417.4 95.7h0M418.9 114.6h0M428.8 121.0h0M444.1 119.5h0M443.6 126.1h0M447.8 102.7h0M429.7 118.4h0M427.1 108.1h0M438.9 104.5h0M434.5 101.2h0M434.8 106.7h0M444.6 92.5h0M434.3 103.8h0M420.3 120.1h0M435.8 103.7h0M434.2 92.5h0M433.3 103.9h0M437.7 97.0h0M413.2 123.0h0M430.3 80.2h0M415.6 95.6h0M428.0 109.7h0M443.7 104.7h0M424.9 112.9h0M442.1 103.0h0M439.9 103.2h0M437.7 118.5h0M434.7 103.9h0M431.3 90.2h0M419.2 127.5h0M426.4 112.0h0M464.0 90.5h0M433.8 108.9h0M431.6 112.1h0M405.6 117.8h0M438.5 110.4h0M420.0 108.5h0M436.1 111.2h0M422.8 114.2h0M430.5 104.5h0M428.3 100.4h0M426.3 104.8h0M411.0 105.5h0M437.1 111.9h0M425.3 105.7h0M426.0 113.5h0M444.2 101.8h0M428.6 112.7h0M427.3 111.6h0M425.1 106.7h0M435.9 97.7h0M446.0 104.3h0M426.6 102.2h0M435.7 102.8h0M431.5 111.4h0M437.1 111.2h0M433.2 104.2h0M427.1 107.6h0M420.7 109.2h0M433.9 116.7h0M429.3 104.6h0M401.5 106.2h0M436.6 118.2h0M438.4 103.9h0M430.8 110.6h0M402.9 125.1h0M427.6 113.7h0M439.3 107.8h0M426.5 110.9h0M445.9 101.3h0M441.0 114.5h0M429.6 111.7h0M433.1 95.6h0M425.5 100.8h0M420.2 111.9h0M448.4 84.4h0M424.9 114.3h0M476.9 106.8h0M425.7 115.5h0M429.3 98.4h0M421.6 118.0h0M430.1 109.6h0M427.4 116.9h0M431.8 116.8h0M433.0 108.3h0M429.1 108.9h0M426.4 113.3h0M431.9 101.2h0M430.7 110.6h0M449.8 80.4h0M421.4 111.9h0M425.7 125.4h0M378.2 133.0h0M436.7 109.7h0M410.6 127.3h0M414.8 119.5h0M431.0 105.7h0M447.1 108.3h0M432.7 115.2h0M435.6 104.8h0M426.1 111.2h0M429.9 115.1h0M430.3 103.8h0M482.0 62.5h0M426.0 120.3h0M435.3 112.2h0M419.8 119.2h0M434.1 111.3h0M432.8 107.5h0M430.8 104.1h0M442.0 108.5h0M427.2 105.0h0M446.2 98.0h0M375.0 138.2h0M428.2 109.3h0M444.8 106.3h0M438.0 111.8h0M456.6 58.2h0M435.3 99.0h0M434.1 107.9h0M430.4 120.6h0M439.6 109.9h0M427.5 122.1h0M436.7 103.6h0M431.5 111.6h0M434.1 93.6h0M415.3 102.4h0M428.6 111.8h0M441.2 106.4h0M425.8 118.0h0M420.0 110.4h0M441.0 101.0h0M432.5 98.1h0M430.2 100.2h0M431.1 101.8h0M448.0 108.8h0M422.1 111.2h0M439.5 106.6h0M423.8 115.0h0M422.1 126.5h0M411.3 119.7h0M416.7 117.8h0M433.8 112.2h0M433.7 97.4h0M435.2 115.3h0M424.8 111.4h0M429.6 109.2h0M427.8 127.7h0M434.2 104.0h0M425.7 111.2h0M431.7 98.7h0M444.6 107.6h0M433.8 110.7h0M431.9 106.5h0M426.9 115.2h0M426.4 114.1h0M435.0 102.8h0M425.0 127.5h0M438.8 102.2h0M436.2 91.9h0M390.9 127.9h0M440.1 95.7h0M444.8 98.6h0M436.7 101.3h0M430.3 107.9h0M451.4 97.9h0M433.7 100.2h0M434.0 84.5h0M417.9 101.8h0M431.2 109.3h0M431.3 109.8h0M425.1 128.6h0M438.1 108.5h0M438.6 111.7h0M433.9 102.1h0M428.9 110.6h0M434.2 100.9h0M399.5 116.1h0M435.5 108.8h0M441.5 99.2h0M432.4 106.7h0M431.3 94.6h0M431.5 112.3h0M441.3 92.7h0M435.3 128.1h0M438.3 103.9h0M444.3 95.8h0M433.6 113.4h0M428.8 107.2h0M437.7 99.1h0M428.2 101.3h0M439.3 97.7h0M431.1 116.1h0M435.1 99.2h0M418.8 107.4h0M433.4 102.8h0M433.0 105.9h0M417.7 128.6h0M441.8 103.8h0M439.3 107.0h0M411.5 148.6h0M433.5 99.7h0M426.8 108.4h0M425.3 106.2h0M431.9 104.9h0M426.0 110.3h0M432.8 105.2h0M427.0 108.2h0M428.4 120.8h0M439.0 103.4h0M438.7 102.2h0M417.9 115.2h0M430.3 105.2h0M419.3 99.3h0M431.9 100.2h0M399.1 120.3h0M411.6 98.9h0M434.7 119.0h0M426.9 107.8h0M439.0 113.7h0M434.1 107.6h0M427.0 110.8h0M436.3 106.1h0M433.9 99.0h0M440.7 103.2h0M433.5 96.7h0M417.8 119.3h0M441.0 115.3h0M424.9 102.7h0M429.0 123.1h0M444.4 103.4h0M423.3 119.8h0M426.4 105.5h0M427.9 110.9h0M429.5 104.3h0M434.3 105.3h0M440.7 98.3h0M414.5 112.7h0M450.3 74.5h0M440.6 101.0h0M435.8 114.5h0M432.5 99.3h0M418.3 95.3h0M436.6 111.5h0M426.3 129.5h0M433.7 109.6h0M430.3 112.2h0M465.3 87.7h0M438.4 105.4h0M424.6 108.3h0M450.4 104.4h0M431.9 110.6h0M423.6 80.7h0M436.8 102.1h0M425.4 113.1h0M421.6 90.5h0M430.3 100.1h0M434.4 121.5h0M425.3 127.8h0M435.0 103.7h0M440.3 106.2h0M436.8 102.1h0M427.0 112.7h0M431.4 101.9h0M429.2 106.3h0M445.2 96.4h0M438.8 101.6h0M444.0 101.6h0M415.2 115.6h0M429.6 107.3h0M427.6 116.5h0M478.4 98.0h0M413.0 112.2h0M433.3 106.1h0M434.5 105.2h0M432.8 115.2h0M449.5 97.6h0M453.2 95.3h0M435.4 114.4h0M439.4 119.9h0M443.9 102.3h0M424.3 107.3h0M434.6 107.6h0M433.5 101.9h0M426.1 119.2h0M428.7 113.5h0M437.3 107.7h0M427.2 103.0h0M432.0 119.2h0M434.0 104.6h0M428.5 105.3h0M426.0 111.2h0M417.0 119.0h0M439.7 109.2h0M447.6 89.7h0M437.1 106.1h0M431.5 111.4h0M425.6 122.9h0M442.0 85.2h0M438.1 98.6h0M427.9 115.0h0M449.2 110.2h0M424.2 112.3h0M441.4 114.6h0M429.2 114.2h0M434.5 94.5h0M429.8 109.3h0M418.6 111.2h0M438.4 106.6h0M443.2 102.3h0M431.0 124.4h0M441.3 110.7h0M420.3 113.7h0M409.0 146.4h0M441.3 125.9h0M453.1 89.3h0M432.5 91.3h0M419.9 116.8h0M430.9 101.1h0M414.3 122.8h0M434.2 82.1h0M435.4 123.3h0M433.7 109.9h0M434.0 106.0h0M440.7 110.7h0M439.6 91.4h0M422.2 120.8h0M440.1 104.0h0M440.1 109.5h0M429.2 114.3h0M427.5 103.7h0M429.9 97.0h0M435.0 102.0h0M429.3 108.8h0M440.9 105.7h0M444.5 73.6h0M432.1 112.9h0M427.4 107.7h0M421.9 108.9h0M404.3 116.4h0M426.8 103.9h0M420.4 119.5h0M427.7 93.1h0M418.1 112.0h0M432.2 115.0h0M438.8 102.1h0M417.5 110.9h0M429.3 116.8h0M425.0 107.9h0M432.5 102.1h0M441.8 118.5h0M425.2 113.4h0M437.9 102.1h0M431.0 116.2h0M445.3 108.5h0M427.7 114.7h0M423.2 111.0h0M381.0 168.3h0M449.5 99.1h0M410.0 145.0h0M439.2 101.6h0M423.0 124.5h0M434.2 101.8h0M424.2 106.8h0M440.6 92.0h0M432.0 118.5h0M431.3 117.4h0M429.6 108.7h0M445.6 104.4h0M424.5 103.0h0M441.4 96.9h0M426.9 110.9h0M435.9 103.0h0M429.5 100.4h0M430.7 107.7h0M419.1 111.4h0M437.3 110.3h0M449.1 79.0h0M413.2 107.5h0M439.1 105.3h0M444.2 87.7h0M431.1 113.5h0M435.7 105.5h0M456.3 99.0h0M439.1 102.5h0M432.0 101.2h0M426.5 101.7h0M452.8 110.9h0M418.5 115.3h0M429.3 101.1h0M424.7 104.8h0M425.2 104.2h0M444.4 98.2h0M424.5 113.1h0M433.1 104.9h0M429.7 103.6h0M432.6 113.7h0M418.5 107.6h0M418.8 122.5h0M427.5 113.3h0M425.9 115.7h0M419.3 114.6h0M435.3 105.4h0M431.1 99.0h0M436.8 109.5h0M428.1 117.7h0M435.4 110.2h0M440.8 117.5h0M442.9 98.9h0M417.4 128.1h0M429.2 112.7h0M432.7 114.5h0M431.7 117.4h0M447.0 101.0h0M434.9 115.8h0M427.5 106.3h0M439.8 98.4h0M440.2 100.6h0M428.5 115.6h0M448.3 87.4h0M418.9 119.4h0M414.6 108.6h0M448.7 86.1h0M439.4 102.8h0M421.0 132.2h0M428.5 118.1h0M441.0 97.7h0M428.9 111.4h0M437.9 97.6h0M421.7 114.6h0M438.3 111.6h0M414.5 115.6h0M431.1 112.1h0M431.6 115.0h0M443.8 97.7h0M430.1 118.3h0M389.7 144.5h0M425.4 109.8h0M432.7 110.0h0M434.3 108.7h0M425.1 114.4h0M448.3 81.1h0M434.3 110.5h0M434.0 100.9h0M428.3 112.8h0M401.1 139.2h0M423.9 130.1h0M429.9 120.3h0M431.9 112.1h0M440.6 102.4h0M431.3 104.4h0M427.4 110.0h0M429.1 93.3h0M450.5 74.9h0M421.9 120.5h0M408.4 125.0h0M433.4 111.2h0M442.3 105.7h0M433.3 101.4h0M429.2 130.8h0M427.1 112.5h0M444.0 104.5h0M429.0 114.0h0M439.3 99.9h0M447.1 100.6h0M441.5 99.8h0M464.2 85.7h0M424.0 128.5h0M428.2 110.4h0M435.8 100.0h0M425.3 111.5h0M426.1 108.1h0M401.2 122.5h0M429.4 110.4h0M412.9 91.4h0M473.5 90.6h0M442.2 112.0h0M417.9 114.8h0M406.7 139.6h0M458.2 81.2h0M440.7 101.9h0M434.0 107.2h0M440.7 115.3h0M407.7 132.2h0M436.7 105.4h0M444.8 102.6h0M429.5 105.1h0M433.7 114.0h0M422.7 114.2h0M420.7 111.2h0M434.3 104.0h0M421.3 112.5h0M433.3 99.5h0M419.8 116.0h0M434.5 103.1h0M424.1 99.5h0M434.6 112.9h0M433.0 111.3h0M415.7 108.5h0M398.9 91.1h0M428.1 106.9h0M434.6 114.5h0M426.0 106.1h0M431.6 123.8h0M440.2 103.0h0M445.8 95.8h0M446.6 60.4h0M453.1 104.2h0M457.2 69.6h0M434.7 101.9h0M462.0 113.5h0M426.6 109.4h0M430.4 96.4h0M435.0 101.8h0M431.2 105.2h0M419.0 116.8h0M434.9 130.9h0M436.6 103.6h0M422.2 91.6h0M428.8 109.7h0M424.2 115.3h0M444.7 102.8h0M436.7 110.2h0M449.5 103.5h0M433.1 112.7h0M436.1 101.0h0M432.9 106.4h0M436.6 115.5h0M428.6 109.0h0M432.0 106.5h0M424.8 117.7h0M428.6 113.0h0M439.0 108.8h0M425.6 112.8h0M448.0 106.8h0M440.7 112.0h0M413.9 118.6h0M437.6 97.5h0M420.1 120.3h0M431.5 104.2h0M424.5 102.5h0M439.5 106.8h0M440.2 103.4h0M418.6 120.8h0M443.5 96.0h0M421.7 124.3h0M428.3 108.6h0M434.6 89.7h0M431.9 88.6h0M404.5 111.3h0M425.2 111.2h0M436.8 110.6h0M436.5 96.5h0M448.1 135.3h0M424.8 126.6h0M436.9 114.1h0M434.8 110.6h0M434.7 107.4h0M421.8 100.2h0M454.4 106.9h0M441.5 99.7h0M445.7 101.7h0M439.3 91.3h0M441.6 103.4h0M431.7 112.8h0M436.1 129.7h0M408.6 129.6h0M426.2 110.8h0M439.1 103.3h0M434.7 93.5h0M429.9 115.0h0M431.6 102.4h0M426.6 122.5h0M445.4 105.8h0M465.4 98.2h0M433.5 111.8h0M425.2 112.5h0M441.5 111.3h0M432.4 111.7h0M428.4 111.8h0M434.5 105.8h0M406.0 125.6h0M426.9 107.9h0M416.4 114.2h0M417.3 110.3h0M399.3 135.3h0M439.5 107.8h0M440.6 103.4h0M432.8 109.3h0M424.2 114.4h0M431.2 116.2h0M422.2 124.5h0M427.8 108.4h0M445.7 103.7h0M440.5 100.3h0M429.5 108.2h0M423.0 116.7h0M422.7 123.9h0M442.4 99.9h0M439.5 101.8h0M442.5 98.3h0M465.6 68.8h0M424.0 111.7h0M435.9 106.1h0M436.6 87.7h0M418.2 108.0h0M431.7 92.2h0M426.7 109.2h0M423.4 110.3h0M424.6 107.8h0M414.2 113.2h0M416.8 112.3h0M443.9 102.9h0M427.5 118.0h0M428.2 131.7h0M426.8 119.1h0M435.4 90.8h0M442.6 103.2h0M444.0 100.5h0M432.1 100.6h0M416.0 106.5h0M435.9 107.5h0M438.0 113.8h0M417.9 123.2h0M432.4 114.7h0M428.7 120.8h0M438.6 104.8h0M414.6 88.4h0M430.4 97.3h0M425.9 111.0h0M440.1 108.4h0M434.9 111.5h0M422.9 119.0h0M464.6 91.8h0M426.0 104.0h0M427.3 97.3h0M435.6 110.5h0M427.5 105.2h0M425.9 105.7h0M413.8 79.9h0M432.6 104.3h0M449.5 90.3h0M431.4 97.8h0M463.4 86.5h0M436.7 91.8h0M425.7 102.1h0M427.0 109.9h0M438.1 115.4h0M437.2 105.4h0M422.3 121.0h0M428.8 104.9h0M444.1 119.0h0M437.5 97.5h0M440.0 75.8h0M433.5 102.1h0M431.9 110.7h0M452.2 90.4h0M430.1 110.1h0M413.3 97.3h0M434.1 108.2h0M442.6 101.2h0M430.3 95.6h0M429.4 104.0h0M427.0 112.5h0M432.6 103.2h0M442.1 101.7h0M431.6 101.4h0M425.0 110.5h0M446.6 109.8h0M423.5 124.2h0M423.2 108.0h0M419.3 112.6h0M435.9 116.7h0M438.0 104.0h0M435.2 113.3h0M444.9 75.1h0M425.7 123.9h0M421.9 110.8h0M470.7 116.0h0M433.9 108.7h0M446.2 102.3h0M424.5 95.3h0M442.4 102.8h0M436.3 105.4h0M429.2 112.8h0M443.6 105.3h0M425.4 115.3h0M409.5 115.7h0M435.1 96.7h0M425.1 101.6h0M440.3 102.7h0M433.6 103.7h0M418.6 95.6h0M440.0 99.1h0M439.6 117.1h0M435.3 105.3h0M435.4 103.4h0M447.1 80.3h0M426.9 101.1h0M438.9 92.5h0M435.6 107.0h0M423.6 105.8h0M431.1 114.1h0M437.3 105.8h0M441.1 107.0h0M434.5 103.0h0M454.1 121.9h0M428.2 116.5h0M431.1 114.5h0M421.7 113.0h0M438.2 103.1h0M428.6 106.3h0M420.5 120.5h0M419.6 114.6h0M428.2 111.5h0M431.5 113.7h0M439.6 102.6h0M441.2 113.4h0M433.3 115.7h0M434.3 109.4h0M436.5 104.7h0M430.6 107.2h0M445.7 115.9h0M435.7 105.3h0M433.7 104.6h0M430.1 111.4h0M426.4 112.1h0M425.6 114.0h0M429.5 108.9h0M434.6 102.0h0M439.2 108.6h0M417.7 118.9h0M425.0 106.1h0M428.8 120.8h0M430.6 101.4h0M438.2 125.4h0M439.2 91.4h0M433.8 116.8h0M431.8 118.6h0M399.0 147.1h0M386.7 152.0h0M451.8 122.1h0M439.6 96.7h0M440.3 96.7h0M429.0 112.7h0M429.3 111.5h0M444.5 113.3h0M426.0 105.1h0M436.9 110.1h0M432.4 107.5h0M438.4 104.4h0M441.8 103.0h0M430.9 114.9h0M424.3 151.1h0M427.6 108.1h0M425.6 97.7h0M430.1 113.7h0M439.9 104.9h0M433.5 105.9h0M439.9 90.4h0M424.8 124.2h0M435.0 104.9h0M440.2 115.7h0M436.5 109.5h0M431.7 109.0h0M436.4 105.0h0M426.9 111.6h0M435.3 110.5h0M419.6 134.1h0M411.6 125.0h0M424.8 124.7h0M435.0 118.9h0M440.0 103.2h0M422.0 119.7h0M438.1 102.9h0M418.6 140.1h0M429.6 99.6h0M438.2 117.6h0M421.5 112.7h0M416.5 99.9h0M429.0 107.4h0M434.8 104.0h0M423.8 117.7h0M428.1 97.4h0M433.2 105.3h0M429.2 109.2h0M440.9 108.7h0M430.6 112.0h0M426.3 115.0h0M429.5 105.0h0M435.0 104.8h0M409.3 116.6h0M433.5 104.5h0M418.5 113.0h0M435.0 99.0h0M456.5 104.8h0M421.0 93.9h0M433.5 109.6h0M452.4 77.4h0M438.1 109.7h0M429.8 104.1h0M432.9 112.2h0M426.7 124.5h0M434.7 104.8h0M438.6 113.7h0M428.5 106.0h0M441.4 104.0h0M428.2 121.6h0M435.5 124.7h0M443.7 103.4h0M427.9 106.3h0M429.0 113.5h0M443.9 114.7h0M438.7 111.7h0M432.6 103.0h0M437.0 116.6h0M430.3 107.0h0M423.7 120.9h0M432.3 98.8h0M440.0 109.4h0M434.2 102.5h0M430.7 100.2h0M425.1 119.0h0M433.8 104.5h0M434.9 113.3h0M424.2 110.1h0M439.2 102.8h0M448.3 101.4h0M438.3 109.6h0M434.3 110.3h0M434.9 105.0h0M451.7 74.1h0M454.7 109.2h0M425.0 119.8h0M429.5 113.9h0M421.2 108.1h0M427.2 121.3h0M433.9 109.0h0M446.6 96.6h0M428.3 100.9h0M424.4 114.9h0M416.6 93.1h0M440.8 103.1h0M434.4 107.9h0M434.3 118.6h0M425.9 107.9h0M424.3 110.4h0M435.4 104.3h0M424.2 113.6h0M444.9 101.8h0M457.6 62.5h0M445.0 80.1h0M436.7 106.8h0M438.9 95.6h0M438.8 107.5h0M427.7 104.9h0M430.5 117.7h0M425.6 109.8h0M416.5 112.5h0M428.7 103.6h0M438.8 102.8h0M435.2 105.8h0M444.2 104.9h0M430.1 104.3h0M447.3 85.7h0M429.6 107.0h0M443.6 100.8h0M430.7 117.8h0M436.2 98.4h0M431.8 115.6h0M424.9 103.7h0M430.3 83.8h0M382.3 164.9h0M442.1 88.1h0M433.7 109.5h0M412.9 112.1h0M442.9 73.9h0M430.5 108.8h0M425.8 91.1h0M422.7 118.5h0M432.9 98.9h0M432.9 105.5h0M425.6 107.9h0M427.7 112.0h0M428.0 117.3h0M428.9 106.7h0M431.0 104.2h0M439.9 102.5h0M437.1 108.6h0M431.2 108.6h0M435.7 117.1h0M422.4 100.6h0M441.0 128.3h0M430.1 122.3h0M418.4 117.7h0M438.0 114.2h0M432.8 119.9h0M435.6 107.6h0M421.4 104.6h0M426.9 112.6h0M422.0 112.7h0M433.2 107.7h0M430.2 127.3h0M431.9 104.3h0M431.6 115.2h0M429.8 109.5h0M428.4 104.4h0M435.7 107.0h0M431.2 100.5h0M426.9 102.7h0M402.1 113.3h0M466.1 102.1h0M433.7 100.3h0M427.1 116.2h0M438.2 104.8h0M439.0 100.8h0M433.6 108.3h0M434.0 82.7h0M431.6 98.8h0M449.9 100.8h0M432.2 123.2h0M430.8 97.7h0M428.4 103.1h0M437.0 105.9h0M472.7 94.3h0M450.4 120.5h0M428.6 111.2h0M439.0 112.8h0M449.2 93.2h0M448.2 109.2h0M425.2 123.5h0M426.3 105.4h0M454.5 108.7h0M425.3 110.1h0M429.1 115.5h0M439.1 103.9h0M433.3 103.5h0M424.4 130.8h0M454.6 93.4h0M431.6 115.4h0M430.3 105.9h0M456.7 87.7h0M421.2 130.1h0M476.4 93.2h0M430.8 108.2h0M418.4 129.0h0M431.5 107.2h0M409.9 138.3h0M458.2 121.4h0M419.1 112.2h0M438.4 104.2h0M439.1 104.3h0M431.5 110.4h0M428.1 107.2h0M422.2 108.8h0M439.8 104.6h0M432.8 106.6h0M439.9 108.2h0M424.0 113.3h0M438.1 102.7h0M440.2 117.7h0M414.3 127.6h0M438.1 103.0h0M450.4 120.9h0M440.4 93.6h0M422.1 119.9h0M413.1 119.2h0M429.4 107.0h0M432.3 104.0h0M425.0 116.6h0M475.5 108.1h0M444.0 106.4h0M439.9 100.0h0M445.5 93.1h0M431.0 114.8h0M434.2 111.4h0M435.8 111.5h0M442.5 100.8h0M407.8 124.3h0M445.7 90.9h0M423.5 98.9h0M425.8 107.9h0M429.4 98.5h0M433.4 112.2h0M461.0 92.1h0M441.2 103.8h0M434.4 104.2h0M420.9 123.1h0M433.1 103.6h0M440.1 102.5h0M421.8 103.8h0M436.3 111.4h0M455.4 91.8h0M442.2 99.9h0M424.6 127.6h0M433.1 95.6h0M454.2 106.2h0M448.0 95.1h0M437.6 103.1h0M437.0 108.6h0M429.9 106.3h0M425.5 116.6h0M430.4 109.1h0M437.3 115.1h0M433.0 98.4h0M446.6 99.8h0M426.7 132.1h0M433.8 101.0h0M431.0 101.9h0M430.3 114.0h0M461.3 70.0h0M450.6 111.5h0M451.7 68.9h0M432.8 107.0h0M449.9 90.2h0M427.2 109.9h0M436.5 101.9h0M413.8 137.1h0M436.2 102.2h0M428.6 109.6h0M424.2 127.0h0M459.9 106.6h0M434.2 110.2h0M450.2 92.8h0M438.0 105.1h0M452.0 114.7h0M443.5 109.8h0M429.6 111.4h0M440.0 105.5h0M428.9 111.0h0M448.0 92.4h0M431.2 126.0h0M429.1 108.4h0M426.6 113.2h0M430.3 108.3h0M438.6 101.7h0M443.4 118.5h0M429.0 110.6h0M440.4 113.5h0M431.2 109.6h0M389.3 114.8h0M428.4 112.1h0M409.0 127.8h0M433.8 103.5h0M462.8 86.8h0M433.7 105.7h0M433.1 88.3h0M432.4 115.0h0M429.9 100.4h0M450.0 113.4h0M417.1 97.6h0M432.2 100.2h0M435.0 104.6h0M432.9 103.3h0M439.4 97.0h0M406.9 97.3h0M448.3 120.9h0M446.8 104.9h0M427.8 102.3h0M433.0 87.6h0M431.7 111.8h0M420.5 103.2h0M419.8 117.7h0M416.9 120.5h0M428.1 111.3h0M384.7 117.9h0M428.7 98.4h0M426.0 109.6h0M436.6 103.5h0M433.8 103.6h0M425.9 112.0h0M420.1 121.8h0M425.6 116.3h0M429.7 115.0h0M406.9 134.0h0M422.0 116.0h0M424.4 105.1h0M429.6 121.9h0M461.3 94.8h0M428.0 113.7h0M447.3 98.4h0M424.1 118.3h0M431.8 120.2h0M417.0 120.0h0M446.6 92.8h0M406.3 111.4h0M436.5 100.0h0M439.5 94.3h0M431.0 113.8h0M439.9 103.8h0M479.1 81.1h0M417.7 111.6h0M435.7 101.7h0M436.3 108.8h0M418.8 113.0h0M414.9 127.5h0M425.5 115.6h0M434.9 108.4h0M427.3 110.1h0M433.4 101.5h0M425.5 115.7h0M402.9 119.5h0M435.0 81.7h0M428.3 104.0h0M423.5 109.4h0M441.1 111.3h0M422.2 109.8h0M418.8 116.7h0M442.8 104.8h0M433.7 107.1h0M434.8 110.3h0M441.5 88.4h0M436.5 105.1h0M441.7 100.1h0M456.6 98.6h0M412.2 129.3h0M433.3 98.6h0M451.9 84.2h0M438.6 89.1h0M431.3 101.3h0M433.0 101.6h0M429.6 115.2h0M397.3 143.9h0M414.1 91.5h0M428.5 110.0h0M430.7 110.6h0M439.6 100.5h0M431.7 99.1h0M455.0 71.3h0M424.0 119.0h0M426.4 127.3h0M432.7 98.3h0M438.0 100.2h0M413.9 123.9h0M391.1 114.9h0M414.5 112.8h0M428.0 107.3h0M441.3 106.7h0M426.6 111.6h0M432.8 108.5h0M426.4 111.3h0M432.5 102.3h0M423.0 118.3h0M415.4 109.8h0M438.6 100.6h0M424.6 91.0h0M432.1 113.1h0M436.0 103.2h0M485.8 72.1h0M431.4 107.2h0M430.8 110.9h0M439.9 100.9h0M433.5 113.7h0M437.3 116.7h0M433.6 105.3h0M417.9 117.4h0M423.3 121.4h0M414.6 108.1h0M468.7 115.6h0M434.9 120.0h0M432.7 103.4h0M432.8 95.1h0M427.2 114.0h0M424.0 92.2h0M430.2 104.7h0M418.5 109.7h0M434.8 122.7h0M439.6 104.9h0M424.1 121.9h0M420.3 108.5h0M432.0 107.4h0M416.8 114.2h0M456.9 108.3h0M432.0 105.3h0M451.5 90.4h0M418.1 138.2h0M436.0 100.1h0M418.3 104.2h0M430.2 101.3h0M432.4 104.6h0M423.8 116.7h0M448.9 104.4h0M435.5 108.4h0M400.9 133.3h0M429.3 115.0h0M425.3 110.3h0M417.6 128.4h0M432.2 97.7h0M427.5 104.8h0M432.5 105.0h0M422.1 114.6h0M445.0 108.0h0M429.5 98.3h0M443.0 114.4h0M429.8 114.3h0M436.2 101.3h0M429.5 105.0h0M428.6 107.4h0M426.4 104.3h0M455.0 98.4h0M462.2 129.1h0M425.2 107.9h0M426.1 105.1h0M443.5 101.3h0M415.4 109.5h0M428.4 113.6h0M433.4 99.8h0M439.4 105.5h0M426.6 98.5h0M433.2 96.1h0M435.1 107.1h0M430.4 119.1h0M431.3 110.4h0M435.0 102.2h0M431.9 105.5h0M421.8 114.8h0M441.3 98.1h0M437.4 100.3h0M435.5 116.5h0M429.8 106.8h0M423.2 106.3h0M425.2 108.9h0M484.2 58.6h0M446.5 100.1h0M426.6 114.4h0M425.1 119.2h0M437.8 103.6h0M433.2 113.3h0M434.1 113.1h0M432.3 107.6h0M474.6 76.9h0M407.3 127.1h0M431.3 110.5h0M423.9 118.2h0M427.4 104.0h0M420.9 113.3h0M440.3 101.1h0M446.7 80.2h0M418.7 124.4h0M438.9 105.2h0M432.7 109.6h0M430.7 97.3h0M441.0 111.2h0M454.4 86.2h0M423.0 119.7h0M429.1 107.7h0M434.8 112.6h0M417.0 127.2h0M439.4 92.1h0M425.4 111.8h0M432.2 104.5h0M448.0 96.0h0M432.4 94.7h0M408.2 115.2h0M414.7 114.1h0M431.1 105.2h0M432.5 114.8h0M432.4 113.3h0M425.9 116.4h0M425.6 104.9h0M449.5 95.0h0M429.4 112.1h0M443.6 116.4h0M435.5 97.5h0M442.8 86.5h0M439.0 103.0h0M433.0 111.6h0M459.8 121.9h0M428.3 111.4h0M420.3 127.9h0M402.3 124.4h0M417.8 111.3h0M419.4 121.3h0M443.2 108.5h0M447.3 97.5h0M446.3 103.1h0M433.0 112.8h0M428.4 108.5h0M420.9 102.8h0M431.0 105.7h0M433.1 124.4h0M440.9 100.3h0M429.1 100.1h0M439.7 103.2h0M447.4 97.4h0M428.5 110.7h0M427.1 111.2h0M436.8 100.3h0M424.2 116.2h0M425.9 115.5h0M436.8 93.7h0M439.0 120.3h0M444.1 102.2h0M431.7 100.7h0M434.8 102.8h0M403.7 103.0h0M426.8 111.7h0M440.4 101.3h0M431.7 105.6h0M418.7 104.5h0M437.0 105.9h0M430.3 111.3h0M427.4 103.6h0M436.7 103.6h0M455.6 102.3h0M448.7 90.5h0M435.8 118.4h0M434.3 104.1h0M414.0 110.8h0M443.1 99.3h0M444.3 94.0h0M425.5 115.4h0M429.0 105.5h0M416.7 102.7h0M438.7 101.8h0M440.8 106.2h0M430.8 108.2h0M438.1 102.6h0M425.2 113.1h0M428.8 102.0h0M436.5 110.4h0M430.3 101.7h0M436.5 107.4h0M457.1 84.6h0M435.3 101.0h0M430.3 111.1h0M428.8 112.0h0M421.0 139.9h0M435.4 109.0h0M420.2 121.6h0M428.1 111.3h0M435.9 104.3h0M475.9 63.0h0M450.0 79.6h0M439.0 104.0h0M431.7 106.2h0M444.6 100.1h0M437.0 74.2h0M420.9 113.9h0M432.8 116.7h0M432.2 112.7h0M427.9 108.0h0M432.4 91.6h0M412.9 129.6h0M426.2 124.9h0M445.6 106.5h0M403.6 130.9h0M430.4 103.2h0M426.0 98.0h0M440.2 103.4h0M419.3 106.5h0M461.5 72.2h0M445.4 93.9h0M422.6 119.9h0M445.8 101.2h0M442.3 121.2h0M435.1 106.3h0M436.1 80.5h0M435.5 90.4h0M428.7 127.7h0M442.2 106.5h0M428.7 97.7h0M428.7 98.4h0M437.2 119.1h0M404.2 146.4h0M431.8 112.3h0M436.6 99.3h0M431.0 105.8h0M427.9 119.1h0M414.5 118.7h0M421.0 115.9h0M445.9 111.5h0M416.7 96.6h0M436.8 103.9h0M436.1 106.6h0M413.7 113.8h0M431.5 109.7h0M423.6 116.8h0M437.4 102.6h0M430.6 105.9h0M415.9 134.3h0M437.6 107.2h0M418.5 102.1h0M391.3 159.2h0M437.1 100.8h0M425.3 113.9h0M431.3 106.9h0M438.7 99.2h0M450.4 92.6h0M439.3 99.0h0M429.8 109.6h0M419.4 111.2h0M437.9 106.9h0M435.3 97.8h0M433.6 103.7h0M442.0 115.2h0M424.2 110.9h0M423.8 107.8h0M427.8 109.0h0M428.7 104.6h0M437.2 104.1h0M441.4 87.4h0M435.2 108.0h0M424.8 96.7h0M439.1 113.1h0M438.4 103.7h0M438.6 104.2h0M435.7 108.5h0M438.3 95.4h0M428.3 108.5h0M450.1 98.7h0M390.9 86.4h0M429.5 112.1h0M413.9 122.1h0M444.6 101.2h0M441.5 103.5h0M439.9 81.7h0M432.0 115.7h0M441.2 105.9h0M420.2 116.8h0M443.4 106.7h0M435.0 108.9h0M431.7 106.6h0M477.1 83.1h0M430.3 108.6h0M433.4 111.6h0M424.9 108.7h0M422.5 105.0h0M415.9 107.6h0M432.6 113.2h0M422.6 115.4h0M439.2 108.9h0M442.6 104.3h0M431.0 115.2h0M424.8 96.6h0M436.5 106.6h0M431.3 111.8h0M447.7 109.2h0M423.6 99.6h0M447.3 91.7h0M406.0 116.8h0M435.8 108.2h0M429.2 99.2h0M469.7 89.2h0M450.4 100.3h0M442.1 97.5h0M443.6 94.6h0M432.8 103.8h0M418.7 96.4h0M429.2 108.1h0M426.8 122.2h0M415.2 117.5h0M440.1 101.3h0M430.3 104.5h0M429.5 100.7h0M422.9 115.7h0M431.3 116.7h0M440.3 98.7h0M427.1 114.4h0M420.0 117.0h0M434.9 99.2h0M436.1 103.6h0M446.6 110.5h0M441.5 110.1h0M383.7 97.1h0M426.8 116.5h0M437.5 102.4h0M421.7 123.2h0M432.8 107.6h0M445.7 92.7h0M421.2 111.8h0M425.5 103.9h0M430.8 120.7h0M455.6 91.8h0M418.5 103.8h0M418.2 122.8h0M428.0 113.8h0M430.6 102.5h0M437.3 102.7h0M451.8 98.2h0M432.2 113.9h0M440.4 102.7h0M435.1 104.5h0M428.1 109.5h0M476.3 50.0h0M435.6 107.5h0M433.4 107.8h0M406.7 150.2h0M438.0 111.2h0M481.4 98.0h0M434.1 122.6h0M413.1 109.8h0M431.3 108.8h0M444.6 111.4h0M442.6 105.8h0M428.7 119.9h0M449.2 104.3h0M438.3 104.2h0M435.9 92.9h0M424.2 121.5h0M430.0 100.1h0M428.8 151.7h0M405.4 126.6h0M407.3 123.9h0M434.5 109.3h0M429.4 118.7h0M439.1 111.3h0M441.7 91.8h0M440.2 93.7h0M440.4 114.4h0M426.1 127.7h0M426.3 109.1h0M441.1 113.0h0M445.9 98.0h0M430.0 121.8h0M427.0 113.6h0M443.1 115.6h0M436.4 104.9h0M433.2 108.3h0M420.6 104.6h0M437.8 110.0h0M420.8 102.0h0M439.2 101.5h0M419.0 112.1h0M415.9 107.0h0M430.8 111.7h0M430.4 95.9h0M453.4 112.4h0M420.2 103.4h0M445.1 104.0h0M428.9 116.4h0M422.0 117.3h0M433.3 110.8h0M431.5 85.3h0M405.4 115.1h0M437.5 109.8h0M430.7 107.0h0M405.7 115.1h0M428.8 110.3h0M429.3 115.2h0M421.3 113.3h0M429.7 110.7h0M432.6 95.7h0M434.6 129.7h0M426.9 114.9h0M432.1 111.4h0M421.1 119.2h0M415.9 120.7h0M423.1 111.0h0M412.9 139.8h0M422.7 109.8h0M420.0 118.0h0M433.3 103.7h0M460.7 106.9h0M426.6 114.9h0M441.9 89.8h0M403.2 131.9h0M424.2 114.0h0M442.9 107.6h0M440.6 107.9h0M432.2 117.2h0M408.8 121.0h0M438.3 108.3h0M430.5 116.4h0M423.7 112.8h0M435.3 102.3h0M428.5 92.4h0M422.5 123.1h0M423.6 106.5h0M440.2 81.3h0M437.1 108.6h0M433.6 102.4h0M428.6 105.1h0M419.3 117.3h0M418.4 125.7h0M426.9 126.9h0M430.6 110.7h0M423.2 110.3h0M441.4 104.7h0M415.7 114.0h0M432.5 100.1h0M427.6 104.2h0M424.6 109.4h0M437.4 106.7h0M439.9 101.0h0M449.9 102.8h0M450.4 95.3h0M431.4 107.2h0M427.4 105.5h0M428.4 100.3h0M438.1 94.7h0M416.4 122.9h0M436.2 93.3h0M430.4 103.6h0M435.7 95.7h0M424.1 114.3h0M427.2 108.5h0M426.6 150.0h0M441.9 96.1h0M413.9 102.3h0M434.3 108.2h0M425.6 127.5h0M439.5 110.8h0M430.6 114.9h0M458.9 109.1h0M433.7 97.9h0M423.2 112.7h0M426.5 106.4h0M433.1 115.0h0M434.1 103.1h0M420.9 109.0h0M437.6 105.3h0M431.3 108.4h0M447.0 97.0h0M417.9 104.7h0M435.7 105.7h0M431.8 116.7h0M435.5 108.2h0M420.3 119.0h0M424.0 94.2h0M429.4 115.7h0M418.3 120.2h0M429.9 105.1h0M433.9 114.5h0M428.8 120.1h0M455.4 93.1h0M425.3 113.5h0M410.3 127.7h0M432.1 123.3h0M433.5 113.4h0M423.0 89.0h0M439.7 101.0h0M421.4 120.2h0M420.5 113.1h0M443.2 109.2h0M408.4 112.1h0M422.3 115.0h0M431.7 102.4h0M438.1 102.3h0M428.7 115.0h0M429.0 103.0h0M429.9 100.9h0M434.3 107.4h0M439.9 109.1h0M426.1 117.8h0M430.5 97.7h0M437.4 110.7h0M412.1 126.2h0M442.3 111.4h0M408.4 107.4h0M413.8 120.7h0M423.1 113.6h0M431.5 107.3h0M450.6 127.2h0M432.7 110.1h0M439.7 106.9h0M433.7 109.9h0M431.5 115.8h0M421.9 115.0h0M431.6 108.4h0M469.3 85.9h0M432.3 109.1h0M431.2 95.4h0M429.6 110.2h0M432.2 110.5h0M438.7 106.6h0M426.6 117.6h0M411.6 99.6h0M436.2 99.7h0M442.9 93.9h0M425.9 115.8h0M442.4 103.3h0M426.1 119.7h0M434.5 98.8h0M418.1 124.5h0M425.9 107.3h0M426.0 119.1h0M430.9 103.5h0M437.0 104.3h0M417.9 109.4h0M450.8 93.7h0M435.6 110.4h0M427.9 113.3h0M444.0 91.6h0M441.0 103.3h0M428.3 104.6h0M420.4 108.0h0M411.1 110.2h0M435.7 112.0h0M430.8 116.1h0M440.0 103.7h0M429.4 123.2h0M432.6 110.3h0M440.1 110.4h0M428.2 120.0h0M427.0 110.2h0M432.7 112.9h0M434.0 108.8h0M426.4 104.1h0M427.8 112.1h0M387.0 112.0h0M429.2 123.0h0M435.9 107.4h0M433.8 108.4h0M412.3 107.0h0M433.2 104.0h0M420.9 117.2h0M447.4 94.7h0M431.6 104.8h0M444.7 105.1h0M424.8 100.2h0M467.6 107.1h0M427.4 119.5h0M437.9 97.2h0M441.9 100.8h0M437.9 108.4h0M430.7 108.0h0M425.6 96.9h0M436.2 106.9h0M428.6 106.4h0M432.6 108.5h0M436.4 102.2h0M407.2 116.3h0M414.8 110.3h0M438.5 92.6h0M430.5 119.3h0M419.2 95.8h0M439.2 120.3h0M416.9 113.6h0M441.8 105.0h0M412.8 124.7h0M436.6 110.1h0M426.1 112.0h0M460.5 107.1h0M430.2 109.9h0M431.3 106.3h0M428.1 106.0h0M450.9 81.4h0M433.4 101.4h0M425.7 110.8h0M464.3 102.1h0M438.0 114.9h0M430.3 113.5h0M413.2 113.2h0M444.4 98.8h0M428.6 110.2h0M434.4 94.3h0M438.4 108.7h0M435.3 105.6h0M435.0 102.3h0M438.8 111.1h0M434.1 112.3h0M451.4 93.4h0M424.0 115.3h0M419.6 114.7h0M420.1 155.4h0M452.2 101.0h0M433.9 110.2h0M436.4 110.3h0M432.5 110.5h0M442.2 106.6h0M431.4 98.9h0M417.1 121.2h0M435.2 98.6h0M433.0 98.2h0M427.9 107.8h0M443.2 84.9h0M425.4 109.4h0M432.2 103.6h0M434.9 103.6h0M432.0 115.6h0M429.1 102.8h0M429.5 110.5h0M426.3 116.2h0M433.9 104.7h0M437.6 110.0h0M426.9 104.8h0M433.1 108.1h0M418.4 121.2h0M427.0 112.0h0M457.8 90.3h0M431.7 109.0h0M438.7 113.3h0M443.3 106.0h0M433.4 107.7h0M434.5 100.6h0M448.8 95.0h0M426.1 122.8h0M420.6 118.0h0M426.0 113.4h0M437.4 117.1h0M444.9 101.7h0M438.0 97.4h0M428.1 42.9h0M426.3 117.7h0M435.6 123.6h0M423.9 115.4h0M439.3 102.4h0M424.2 120.0h0M435.9 101.0h0M431.9 97.6h0M438.0 101.3h0M425.8 112.0h0M374.3 159.4h0M429.3 112.2h0M431.9 103.7h0M429.2 116.7h0M436.8 77.4h0M426.6 125.1h0M431.1 114.6h0M431.3 107.9h0M433.2 109.8h0M423.3 101.0h0M425.7 108.1h0M430.3 109.6h0M422.8 96.6h0M430.8 104.0h0M437.7 98.2h0M429.8 106.1h0M433.9 111.2h0M449.4 117.9h0M451.7 90.1h0M446.4 98.9h0M417.4 113.9h0M434.2 101.2h0M442.8 102.8h0M440.2 102.7h0M437.9 105.9h0M430.7 111.6h0M428.4 101.8h0M423.8 114.3h0M425.7 116.8h0M435.0 119.2h0M453.1 99.0h0M430.1 106.5h0M435.6 104.9h0M439.6 104.1h0M436.4 105.2h0M424.8 102.9h0M450.6 97.9h0M430.4 113.9h0M423.0 112.8h0M436.4 89.7h0M430.8 110.1h0M438.3 117.1h0M418.3 135.3h0M435.5 103.3h0M429.0 117.5h0M437.3 98.6h0M402.0 114.0h0M436.7 96.8h0M437.0 97.9h0M440.0 112.9h0M423.0 140.8h0M416.4 115.9h0M431.1 96.8h0M415.1 107.7h0M447.1 72.7h0M421.2 107.0h0M431.4 113.4h0M436.6 98.8h0M433.4 109.8h0M450.8 74.4h0M430.8 106.7h0M444.9 64.1h0M434.0 106.6h0M412.0 113.8h0M439.5 113.1h0M425.5 109.9h0M432.9 104.1h0M427.8 111.3h0M437.5 101.6h0M426.0 109.0h0M434.4 106.8h0M441.4 100.9h0M416.0 112.7h0M431.9 109.9h0M431.5 102.2h0M435.3 104.4h0M466.2 79.7h0M426.5 114.2h0M418.8 114.7h0M432.1 103.3h0M433.8 86.6h0M431.6 114.2h0M427.9 105.2h0M431.1 108.5h0M442.0 95.7h0M461.7 106.7h0M419.3 110.9h0M437.3 101.6h0M443.3 122.8h0M440.8 87.4h0M415.0 121.2h0M392.4 123.6h0M427.2 105.7h0M443.0 108.0h0M426.1 105.3h0M424.8 122.6h0M432.0 108.8h0M423.1 133.6h0M441.2 57.5h0M423.8 119.1h0M435.5 100.2h0M450.6 109.5h0M433.6 108.5h0M445.6 100.7h0M436.2 109.1h0M442.7 111.3h0M430.6 111.3h0M409.3 136.2h0M428.2 105.6h0M441.6 111.1h0M433.3 104.3h0M423.3 91.2h0M431.5 101.8h0M437.0 106.7h0M430.6 107.7h0M428.0 111.4h0M436.9 115.0h0M417.1 134.8h0M437.9 105.6h0M435.8 105.4h0M435.2 104.0h0M440.0 118.2h0M415.2 121.6h0M439.0 101.4h0M415.0 114.4h0M426.2 100.4h0M428.8 101.2h0M437.5 106.8h0M419.0 119.0h0M431.8 109.0h0M426.7 117.2h0M446.7 101.2h0M415.3 123.0h0M431.6 107.4h0M428.8 107.8h0M456.2 85.4h0M429.4 98.3h0M417.2 105.4h0M449.3 105.8h0M452.7 70.0h0M433.4 108.7h0M457.6 93.9h0M426.3 123.3h0M430.9 119.8h0M439.5 95.4h0M452.3 89.6h0M447.9 91.7h0M454.7 110.6h0M426.6 114.3h0M424.6 116.8h0M421.3 116.5h0M424.4 137.3h0M431.4 112.1h0M436.0 103.2h0M443.7 96.9h0M420.3 110.3h0M427.5 109.9h0M429.6 110.5h0M422.6 81.5h0M436.4 91.0h0M394.0 145.8h0M422.6 125.8h0M434.1 107.8h0M427.8 115.4h0M429.0 100.9h0M444.3 95.6h0M437.2 97.8h0M427.0 114.1h0M442.2 104.7h0M452.2 108.7h0M433.1 110.5h0M453.7 63.8h0M399.8 138.5h0M425.7 112.1h0M435.9 106.1h0M433.5 108.1h0M427.9 110.8h0M442.1 101.2h0M431.3 104.2h0M434.3 100.1h0M418.4 120.3h0M437.5 94.1h0M444.5 97.3h0M430.9 103.2h0M433.5 107.0h0M426.5 106.1h0M419.5 108.4h0M426.4 131.2h0M429.8 115.5h0M436.6 111.0h0M431.3 132.0h0M416.1 108.8h0M442.6 106.1h0M407.6 111.7h0M416.0 112.9h0M428.3 111.1h0M432.0 92.7h0M434.8 97.3h0M430.0 113.0h0M424.1 125.4h0M430.7 115.6h0M436.3 115.9h0M380.1 97.2h0M437.7 114.1h0M441.2 109.9h0M459.0 106.6h0M434.9 107.8h0M434.0 109.9h0M435.6 115.7h0M400.1 109.0h0M428.4 113.4h0M438.4 93.0h0M435.7 91.3h0M425.5 114.3h0M446.3 99.2h0M455.2 111.1h0M439.5 95.0h0M447.8 102.3h0M435.9 104.9h0M423.5 112.1h0M430.2 110.2h0M432.1 111.7h0M390.8 176.5h0M440.2 109.2h0M440.7 93.3h0M434.0 108.7h0M442.4 98.4h0M390.3 127.6h0M435.9 114.7h0M423.7 121.0h0M426.8 114.0h0M435.5 134.9h0M443.1 106.2h0M419.6 114.8h0M436.2 107.5h0M444.7 111.6h0M427.4 113.5h0M415.7 132.7h0M424.1 104.3h0M452.9 98.1h0M435.2 106.6h0M442.5 95.4h0M445.4 95.1h0M427.9 104.7h0M443.5 89.1h0M418.8 128.0h0M438.3 112.2h0M427.0 111.8h0M435.0 107.3h0M441.3 112.4h0M436.3 105.2h0M412.9 136.6h0M439.3 115.7h0M439.6 102.1h0M449.1 96.7h0M454.9 99.0h0M432.4 110.0h0M435.1 99.3h0M434.2 102.0h0M430.2 104.8h0M438.0 101.6h0M437.2 106.7h0M443.5 97.9h0M447.0 93.7h0M443.4 106.8h0M454.0 87.4h0M432.9 97.3h0M423.6 111.7h0M432.6 101.0h0M438.0 104.3h0M420.1 110.9h0M432.5 104.3h0M432.8 122.1h0M417.8 125.2h0M425.1 119.0h0M417.3 122.6h0M433.2 114.4h0M429.4 103.6h0M421.5 107.3h0M437.8 94.4h0M426.1 123.7h0M427.5 113.5h0M432.4 106.8h0M444.8 102.6h0M430.4 110.5h0M442.0 103.1h0M463.0 108.0h0M441.1 112.7h0M418.0 117.7h0M446.2 88.8h0M424.3 109.4h0M428.2 112.9h0M459.7 75.8h0M435.1 114.8h0M429.0 110.9h0M433.7 110.6h0M446.4 92.9h0M454.2 89.0h0M438.8 93.9h0M437.2 104.7h0M437.2 95.3h0M443.0 97.2h0M433.0 107.0h0M420.0 111.9h0M433.7 106.5h0M408.5 110.6h0M423.7 117.2h0M439.6 80.4h0M440.5 104.5h0M431.1 103.6h0M443.5 102.0h0M443.4 96.5h0M434.9 109.8h0M454.9 90.7h0M426.2 104.9h0M437.8 71.2h0M434.6 108.6h0M437.4 120.5h0M445.6 92.2h0M421.5 112.7h0M415.6 103.1h0M446.1 101.0h0M420.7 108.8h0M453.3 87.3h0M407.9 101.0h0M377.7 141.2h0M465.6 88.2h0M430.3 104.2h0M443.1 109.8h0M413.3 129.0h0M425.9 113.0h0M448.2 101.7h0M440.4 99.3h0M428.2 109.3h0M433.4 103.4h0M438.7 99.6h0M442.7 96.0h0M435.2 97.3h0M432.4 107.5h0M439.6 106.2h0M430.2 110.1h0M438.5 110.1h0M436.1 109.0h0M435.4 116.2h0M437.0 105.6h0M418.5 116.3h0M421.5 111.7h0M409.3 112.0h0M432.3 99.3h0M429.3 85.4h0M435.9 80.0h0M426.6 110.5h0M420.7 117.2h0M432.2 97.9h0M415.2 122.9h0M430.3 102.0h0M417.9 136.9h0M433.1 110.0h0M420.8 131.0h0M430.5 108.1h0M440.3 101.5h0M446.4 97.5h0M421.6 100.9h0M435.9 92.6h0M437.7 113.3h0M436.3 106.5h0M408.3 133.4h0M432.2 102.9h0M444.3 85.2h0M435.7 100.4h0M418.4 115.5h0M433.9 127.7h0M436.3 107.3h0M420.3 112.6h0M430.3 113.6h0M435.6 110.9h0M432.5 100.4h0M434.9 99.0h0M432.2 114.4h0M427.3 104.8h0M420.6 111.6h0M432.0 105.0h0M429.4 115.5h0M438.7 99.1h0M455.8 56.9h0M433.2 106.4h0M448.4 95.5h0M425.3 107.9h0M432.6 117.7h0M430.1 99.0h0M460.0 64.1h0M436.9 105.6h0M435.9 105.7h0M443.2 104.1h0M426.1 107.1h0M436.6 104.2h0M421.0 112.2h0M441.4 115.1h0M441.2 104.9h0M452.8 101.4h0M422.9 112.9h0M425.1 106.9h0M443.5 103.4h0M434.3 114.3h0M431.4 117.3h0M428.0 104.1h0M418.5 113.2h0M435.4 103.2h0M415.9 118.2h0M435.9 96.4h0M432.1 105.8h0M426.2 129.0h0M437.9 98.4h0M429.9 105.3h0M421.8 113.7h0M441.6 103.5h0M429.1 106.3h0M419.1 112.9h0M436.3 104.0h0M415.2 100.0h0M431.3 102.8h0M430.1 103.0h0M426.5 113.7h0M446.2 70.8h0M430.5 104.4h0M418.9 98.7h0M443.0 101.1h0M425.0 116.9h0M423.9 108.9h0M439.6 83.1h0M441.6 89.5h0M424.3 102.4h0M402.1 127.0h0M440.6 109.7h0M415.3 115.7h0M430.4 117.5h0M421.3 126.8h0M436.2 99.7h0M441.8 104.0h0M424.9 116.4h0M443.7 140.3h0M425.2 121.0h0M435.2 103.3h0M444.7 102.7h0M429.6 111.7h0M436.4 117.4h0M435.8 119.8h0M438.8 97.6h0M434.5 101.3h0M435.0 102.7h0M433.3 104.8h0M430.7 106.1h0M430.6 107.5h0M442.8 99.7h0M426.7 109.8h0M442.6 103.6h0M436.0 98.0h0M448.8 91.2h0M436.0 110.6h0M423.0 102.3h0M427.6 124.5h0M428.4 112.3h0M434.2 95.0h0M423.1 107.2h0M440.3 98.7h0M431.6 103.6h0M438.6 104.4h0M422.6 132.0h0M421.1 116.7h0M429.3 104.5h0M445.2 137.2h0M426.7 114.5h0M444.0 86.2h0M422.0 104.8h0M428.5 108.4h0M425.2 108.4h0M434.4 101.0h0M432.6 99.5h0M440.5 106.4h0M451.5 124.8h0M452.3 94.4h0M428.4 124.0h0M439.4 83.9h0M433.1 100.8h0M433.4 99.8h0M447.9 98.7h0M433.9 107.6h0M459.9 72.0h0M439.8 95.4h0M423.4 119.7h0M433.2 105.5h0M423.2 113.1h0M432.1 106.5h0M427.1 118.1h0M464.6 105.6h0M434.0 110.9h0M435.1 99.1h0M426.6 109.6h0M423.8 116.9h0M443.1 92.9h0M388.4 142.8h0M435.3 133.2h0M425.4 114.0h0M429.9 104.5h0M432.0 104.6h0M415.6 121.8h0M426.5 142.2h0M451.7 84.5h0M435.7 104.5h0M450.4 68.0h0M433.0 107.0h0M439.1 110.1h0M425.3 104.3h0M434.8 107.1h0M428.2 125.4h0M432.3 106.5h0M410.8 126.4h0M423.7 117.5h0M444.9 102.9h0M419.9 116.5h0M448.3 92.6h0M426.8 113.0h0M419.8 103.8h0M421.0 122.7h0M427.5 91.6h0M423.6 138.6h0M441.8 101.6h0M420.1 136.3h0M434.9 101.6h0M440.7 115.6h0M415.4 121.3h0M444.3 81.1h0M424.2 111.9h0M433.0 104.4h0M434.6 110.3h0M424.4 109.0h0M432.7 103.4h0M439.1 110.6h0M434.9 104.1h0M430.4 111.4h0M434.7 108.8h0M437.1 112.0h0M431.0 128.7h0M416.1 129.4h0M448.7 101.1h0M438.0 100.4h0M429.4 114.8h0M438.3 90.3h0M433.1 110.8h0M435.6 103.8h0M430.1 96.0h0M425.2 112.1h0M442.8 95.8h0M429.4 106.1h0M447.4 93.8h0M430.1 96.1h0M466.9 77.0h0M437.0 116.7h0M445.0 90.3h0M430.3 112.7h0M437.0 114.6h0M440.6 110.1h0M405.8 132.4h0M436.9 100.6h0M429.5 105.7h0M411.2 112.7h0M434.9 97.9h0M439.3 103.1h0M426.0 105.0h0M455.1 87.8h0M427.1 116.2h0M439.7 95.9h0M425.2 110.2h0M437.2 106.4h0M437.9 116.8h0M412.5 113.2h0M435.9 103.3h0M438.7 104.2h0M438.7 112.9h0M423.7 102.2h0M423.0 109.3h0M413.3 130.5h0M434.7 100.4h0M442.4 107.4h0M423.2 123.1h0M437.8 99.2h0M427.1 108.3h0M426.0 107.7h0M428.3 110.5h0M439.9 102.3h0M437.8 125.8h0M420.8 111.2h0M441.8 98.7h0M435.9 100.6h0M438.2 99.2h0M438.3 99.9h0M423.8 115.6h0M432.2 108.0h0M433.1 115.5h0M448.9 114.5h0M426.0 108.5h0M430.2 102.1h0M436.0 118.2h0M424.2 108.9h0M453.1 95.1h0M418.6 115.0h0M432.5 104.5h0M431.4 105.8h0M443.4 104.4h0M433.3 101.0h0M426.0 116.1h0M433.2 111.6h0M412.5 125.8h0M437.3 114.3h0M434.6 113.3h0M428.6 106.8h0M434.3 114.0h0M430.9 107.6h0M432.7 113.6h0M441.6 100.4h0M440.1 75.1h0M433.3 113.0h0M427.4 107.4h0M414.0 119.6h0M433.0 103.3h0M431.1 114.5h0M438.7 105.1h0M433.5 102.9h0M421.1 114.5h0M437.9 111.9h0M405.8 123.6h0M438.2 106.7h0M435.8 96.5h0M429.4 99.4h0M430.7 113.7h0M444.7 104.5h0M438.2 99.6h0M438.1 106.2h0M444.6 97.6h0M444.6 91.1h0M448.9 126.7h0M423.1 109.6h0M426.6 107.6h0M435.7 102.6h0M448.3 107.0h0M433.4 105.0h0M435.2 110.6h0M436.0 98.0h0M436.1 106.6h0M422.5 107.8h0M434.5 86.6h0M411.1 124.3h0M434.3 108.9h0M434.4 100.5h0M436.2 107.9h0M424.6 107.5h0M421.0 113.4h0M439.0 112.8h0M446.3 104.9h0M420.1 117.7h0M442.3 111.0h0M403.5 100.3h0M431.3 107.3h0M419.7 119.3h0M425.6 108.2h0M431.6 114.6h0M437.5 106.6h0M429.6 123.4h0M420.1 109.2h0M435.3 108.4h0M426.3 110.4h0M429.3 105.2h0M431.7 103.1h0M434.8 99.3h0M442.0 95.1h0M452.8 94.4h0M432.7 105.7h0M434.9 108.2h0M424.4 116.0h0M420.8 110.9h0M439.6 99.6h0M424.9 108.1h0M444.1 103.3h0M444.4 100.2h0M428.4 95.8h0M441.5 94.9h0M393.2 126.5h0M434.2 110.5h0M393.4 138.9h0M443.7 114.4h0M424.4 139.1h0M434.8 103.1h0M446.9 102.5h0M425.3 90.8h0M447.0 100.6h0M438.8 95.3h0M448.0 86.6h0M421.9 111.2h0M427.6 120.1h0M424.9 111.0h0M441.3 102.1h0M442.9 114.9h0M425.3 114.6h0M428.3 115.9h0M441.4 99.5h0M436.1 91.9h0M432.9 106.4h0M439.5 105.6h0M424.6 117.0h0M426.8 107.1h0M450.0 99.3h0M434.6 117.1h0M427.4 106.7h0M445.6 94.7h0M414.8 117.5h0M408.4 113.1h0M435.8 97.4h0M429.6 115.6h0M433.2 94.3h0M426.1 115.9h0M424.3 89.6h0M437.3 108.7h0M435.2 114.7h0M435.1 124.1h0M431.6 109.1h0M435.5 103.8h0M439.6 101.5h0M449.4 65.1h0M426.5 116.3h0M420.4 109.1h0M429.1 106.8h0M438.8 97.3h0M442.3 103.1h0M425.3 104.7h0M440.9 103.8h0M431.7 106.6h0M440.6 96.7h0M445.7 97.1h0M426.1 117.6h0M449.2 107.8h0M438.0 104.5h0M436.4 108.4h0M435.3 97.9h0M422.0 111.4h0M433.8 100.7h0M430.9 118.1h0M438.6 102.8h0M448.6 117.1h0M424.0 113.2h0M410.0 124.6h0M431.6 105.3h0M441.7 100.3h0M452.8 117.8h0M443.3 140.7h0M429.3 104.4h0M431.4 122.3h0M425.2 119.3h0M439.7 113.0h0M439.7 112.9h0M438.7 112.9h0M435.4 99.8h0M401.4 100.6h0M436.1 101.1h0M429.6 110.3h0M435.5 100.7h0M434.9 110.0h0M485.1 95.3h0M440.7 113.8h0M424.4 138.2h0M415.3 126.8h0M465.1 104.1h0M436.6 97.9h0M446.4 99.9h0M445.3 102.4h0M456.0 78.9h0M423.7 93.6h0M421.3 111.0h0M435.2 101.9h0M444.2 97.3h0M432.5 113.0h0M423.6 113.1h0M436.4 109.5h0M442.7 117.8h0M425.0 101.3h0M443.0 102.6h0M454.0 64.7h0M451.7 86.2h0M413.2 145.4h0M435.8 100.7h0M433.7 65.9h0M424.2 106.2h0M427.0 111.0h0M436.9 100.9h0M441.5 103.8h0M435.6 90.4h0M430.9 109.2h0M420.4 112.1h0M440.3 101.4h0M437.7 103.8h0M424.8 108.7h0M441.4 100.6h0M433.2 93.5h0M406.6 115.6h0M435.5 83.3h0M435.3 110.1h0M437.5 107.0h0M422.9 108.5h0M441.1 123.0h0M439.0 108.9h0M426.9 120.2h0M442.5 108.3h0M446.4 96.6h0M434.8 107.4h0M433.2 114.5h0M439.0 105.1h0M438.9 99.9h0M443.1 99.1h0M435.1 113.1h0M438.9 123.7h0M438.4 101.3h0M424.1 109.9h0M444.9 111.9h0M439.6 101.7h0M430.5 119.6h0M436.4 109.2h0M410.2 136.6h0M436.7 114.9h0M438.6 108.4h0M420.3 128.6h0M427.7 113.9h0M418.2 123.8h0M440.8 101.5h0M435.8 102.0h0M435.9 102.5h0M441.4 107.2h0M423.4 106.5h0M429.9 117.2h0M438.2 104.2h0M431.3 110.1h0M432.0 110.4h0M428.5 106.3h0M416.4 95.8h0M409.4 129.0h0M438.3 100.8h0M433.1 118.5h0M419.0 109.1h0M438.9 102.4h0M421.6 120.2h0M425.6 112.9h0M435.1 100.8h0M426.1 121.3h0M432.8 103.9h0M428.0 136.2h0M423.4 113.3h0M424.5 113.4h0M426.0 108.4h0M416.3 117.5h0M438.0 102.4h0M434.9 100.4h0M422.6 122.0h0M427.6 104.0h0M425.2 126.0h0M427.7 118.8h0M445.2 97.5h0M424.2 117.9h0M436.2 113.5h0M434.7 91.4h0M442.2 110.2h0M421.8 113.1h0M429.1 119.9h0M435.8 109.3h0M440.5 105.4h0M429.4 94.2h0M434.9 104.1h0M391.1 117.7h0M428.1 111.3h0M435.1 107.0h0M431.6 100.5h0M439.4 102.3h0M421.6 108.7h0M423.9 122.1h0M428.2 109.8h0M432.0 99.0h0M437.0 105.6h0M430.4 110.8h0M420.0 96.9h0M424.9 115.7h0M438.8 104.8h0M458.9 88.1h0M441.9 105.5h0M429.4 106.8h0M433.0 109.6h0M436.0 93.6h0M434.1 119.4h0M438.0 104.3h0M427.5 119.8h0M437.4 103.5h0M423.9 121.8h0M417.9 123.8h0M429.0 99.5h0M427.8 106.2h0M445.2 103.3h0M436.0 101.1h0M435.0 101.7h0M426.5 117.0h0M433.5 108.2h0M432.1 111.8h0M435.0 106.7h0M441.5 104.3h0M432.9 108.2h0M426.8 102.1h0M431.4 110.0h0M376.8 130.5h0M437.0 112.6h0M422.9 118.0h0M442.0 103.7h0M412.9 123.6h0M427.8 102.0h0M422.4 119.5h0M433.0 105.1h0M422.3 114.8h0M410.8 89.5h0M435.8 95.8h0M451.3 92.4h0M438.9 106.6h0M424.8 106.7h0M428.3 115.4h0M442.8 101.5h0M419.6 105.5h0M472.3 69.6h0M420.3 118.7h0M425.2 119.3h0M427.8 105.3h0M460.2 74.5h0M434.8 110.6h0M453.1 97.8h0M437.7 102.5h0M426.2 105.3h0M429.5 115.1h0M436.0 102.9h0M417.4 119.0h0M435.4 100.0h0M440.3 103.2h0M428.1 115.2h0M429.9 108.2h0M466.5 123.3h0M431.0 120.8h0M418.0 117.3h0M418.6 112.5h0M432.6 94.8h0M428.0 109.7h0M426.4 116.4h0M422.5 110.9h0M447.9 107.6h0M442.4 98.9h0M446.5 104.7h0M422.0 115.9h0M425.7 105.9h0M431.6 104.7h0M432.5 105.6h0M397.0 111.0h0M412.3 130.1h0M450.4 101.5h0M426.1 108.4h0M432.4 111.7h0M429.7 108.3h0M441.7 102.7h0M432.8 108.6h0M431.5 107.6h0M422.3 100.9h0M430.2 114.8h0M460.8 90.7h0M474.5 70.9h0M429.9 103.4h0M433.5 105.5h0M432.6 105.6h0M433.5 105.4h0M436.2 110.4h0M435.3 108.6h0M444.5 98.4h0M414.9 125.1h0M448.8 108.2h0M428.7 118.8h0M431.1 108.5h0M437.7 106.3h0M444.2 102.2h0M429.3 106.2h0M444.3 105.6h0M423.0 119.6h0M435.7 107.4h0M431.1 116.2h0M424.8 111.3h0M427.3 112.0h0M410.7 123.4h0M420.3 112.1h0M434.0 101.9h0M449.3 89.9h0M426.5 118.1h0M437.8 107.1h0M429.6 105.6h0M421.1 135.3h0M417.2 127.0h0M436.1 104.1h0M439.3 99.6h0M432.1 117.7h0M426.4 117.2h0M423.8 104.1h0M440.6 95.7h0M434.0 123.3h0M430.0 121.4h0M435.4 101.8h0M430.1 108.6h0M433.4 107.2h0M416.8 107.2h0M429.5 99.2h0M439.7 109.5h0M444.2 108.0h0M448.5 126.6h0M441.2 106.2h0M436.3 122.3h0M439.7 108.9h0M438.9 106.0h0M441.7 107.2h0M447.2 110.0h0M429.1 103.9h0M434.6 110.8h0M433.4 111.5h0M416.9 120.6h0M433.5 88.3h0M430.7 106.7h0M437.9 103.8h0M434.7 106.1h0M433.2 105.0h0M437.7 101.6h0M425.6 105.7h0M429.5 112.8h0M432.4 98.9h0M432.6 107.0h0M435.4 105.2h0M434.5 101.7h0M428.5 101.2h0M453.9 108.7h0M423.5 109.1h0M437.1 105.2h0M436.3 111.6h0M447.6 99.6h0M427.1 109.8h0M428.5 98.4h0M444.3 108.1h0M426.4 119.4h0M391.3 156.7h0M434.9 108.0h0M435.8 102.2h0M440.9 110.4h0M446.0 121.2h0M437.6 104.0h0M416.4 124.2h0M435.8 102.9h0M432.5 114.3h0M432.9 112.7h0M458.9 82.9h0M417.2 165.2h0M438.5 104.2h0M426.6 111.4h0M429.6 84.8h0M416.6 109.2h0M436.1 114.5h0M433.0 96.8h0M431.0 97.0h0M433.3 102.0h0M436.4 102.2h0M426.0 115.1h0M431.9 117.2h0M438.3 108.6h0M427.7 103.4h0M432.9 104.0h0M426.8 102.8h0M433.6 102.6h0M396.9 129.3h0M431.2 109.0h0M440.7 94.2h0M440.5 105.6h0M441.9 98.0h0M427.3 100.1h0M430.5 110.0h0M420.8 129.4h0M429.8 112.6h0M446.0 105.2h0M430.8 86.4h0M427.6 115.3h0M428.0 107.2h0M445.6 102.1h0M441.9 106.5h0M431.6 111.2h0M422.7 120.0h0M433.8 114.5h0M431.1 112.6h0M428.2 109.0h0M458.3 111.0h0M442.8 99.7h0M446.1 82.5h0M430.5 108.1h0M444.6 113.3h0M454.8 94.0h0M440.0 102.0h0M454.6 96.8h0M423.8 108.3h0M438.2 101.7h0M441.9 87.2h0M430.9 115.6h0M431.3 102.6h0M429.5 102.5h0M444.8 90.5h0M423.9 125.9h0M439.8 109.3h0M419.4 111.5h0M433.8 115.7h0M442.0 110.1h0M425.8 110.0h0M431.3 95.1h0M430.2 101.0h0M422.5 119.3h0M432.3 104.5h0M409.8 105.4h0M435.9 97.9h0M429.4 108.5h0M439.5 117.0h0M435.0 108.0h0M431.0 110.9h0M429.0 108.1h0M432.0 101.3h0M423.6 115.8h0M449.4 111.7h0M425.7 110.0h0M434.0 103.5h0M439.0 100.6h0M439.4 102.1h0M428.7 119.4h0M422.3 116.4h0M440.6 104.6h0M447.0 98.8h0M423.1 108.9h0M432.6 101.9h0M439.4 116.7h0M432.8 102.8h0M440.8 110.0h0M443.6 107.2h0M425.3 118.0h0M424.0 103.3h0M431.8 111.8h0M420.8 132.8h0M493.0 88.8h0M441.3 109.1h0M436.3 115.3h0M443.4 94.5h0M438.4 103.0h0M430.3 103.4h0M434.2 108.7h0M443.6 105.3h0M428.7 111.2h0M469.1 121.2h0M433.8 106.9h0M426.9 106.0h0M414.1 114.3h0M421.2 111.8h0M435.2 107.8h0M441.2 104.2h0M417.9 125.4h0M451.2 87.9h0M438.1 103.8h0M415.6 126.6h0M446.5 93.4h0M433.7 109.4h0M423.9 124.2h0M435.5 105.1h0M428.9 108.6h0M414.2 113.1h0M427.7 107.4h0M428.8 117.8h0M438.5 100.2h0M468.6 87.2h0M429.9 108.1h0M429.1 105.4h0M434.0 105.4h0M435.3 103.4h0M436.4 101.6h0M424.4 114.9h0M421.3 115.6h0M427.1 112.7h0M446.5 96.7h0M426.6 106.9h0M400.7 114.7h0M441.8 96.3h0M426.7 114.4h0M449.2 60.7h0M415.3 108.2h0M410.5 101.7h0M424.9 101.8h0M437.4 86.5h0M434.1 100.4h0M434.1 116.3h0M445.9 107.8h0M410.5 114.0h0M433.4 107.1h0M422.3 115.2h0M433.0 107.2h0M436.8 93.1h0M432.2 104.5h0M432.9 101.2h0M417.3 108.9h0M436.3 104.8h0M400.0 129.8h0M431.4 105.1h0M455.0 100.9h0M432.2 115.5h0M436.2 93.8h0M420.7 117.9h0M439.1 125.0h0M427.3 111.8h0M428.6 126.1h0M426.0 128.3h0M390.2 133.1h0M473.7 60.9h0M428.4 106.2h0M429.4 114.3h0M436.4 95.9h0M435.7 107.2h0M432.4 105.9h0M433.5 106.4h0M424.3 95.9h0M419.7 115.3h0M435.2 109.5h0M434.2 98.1h0M443.4 102.7h0M428.9 95.3h0M447.0 102.0h0M434.8 107.8h0M431.0 104.8h0M434.4 100.8h0M414.5 119.8h0M435.7 104.1h0M452.3 100.9h0M434.6 106.6h0M445.8 78.1h0M425.2 102.1h0M416.8 124.9h0M427.2 112.4h0M378.3 111.2h0M440.1 109.5h0M400.8 122.5h0M423.4 122.3h0M428.3 115.0h0M442.9 104.8h0M437.8 106.1h0M435.7 105.7h0M428.8 109.4h0M400.4 137.0h0M425.1 91.6h0M442.2 107.7h0M433.6 107.7h0M430.8 109.0h0M438.6 105.1h0M439.5 110.3h0M423.1 105.3h0M434.5 93.1h0M445.4 96.6h0M432.1 104.0h0M441.2 101.7h0M444.4 115.8h0M420.3 122.1h0M440.1 106.1h0M452.0 66.9h0M438.7 103.6h0M434.6 109.0h0M425.6 115.4h0M397.4 142.2h0M427.9 95.7h0M424.4 98.8h0M456.1 88.9h0M420.8 113.2h0M435.1 113.1h0M423.5 110.2h0M444.8 108.8h0M418.8 106.2h0M433.9 115.7h0M419.0 130.6h0M434.6 104.9h0M435.6 105.5h0M426.8 114.1h0M434.5 105.0h0M430.8 102.1h0M437.4 109.4h0M436.0 115.8h0M434.8 107.4h0M429.5 105.7h0M406.1 96.6h0M440.8 111.5h0M463.4 81.4h0M439.6 102.6h0M436.9 120.9h0M433.2 108.9h0M436.0 109.5h0M439.4 113.7h0M423.9 115.1h0M399.6 123.7h0M435.5 99.2h0M440.2 98.2h0M462.5 110.4h0M429.1 109.0h0M445.8 99.8h0M448.5 96.1h0M438.1 105.3h0M443.9 106.0h0M448.8 105.4h0M430.1 112.3h0M417.1 107.3h0M425.4 119.5h0M431.7 106.3h0M432.5 109.0h0M455.9 95.8h0M431.6 111.6h0M435.9 113.5h0M415.5 117.9h0M444.4 119.4h0M410.8 138.7h0M425.9 114.6h0M454.4 89.3h0M429.7 107.1h0M422.9 106.3h0M435.5 103.2h0M452.8 88.9h0M440.0 107.9h0M451.7 107.0h0M433.6 105.4h0M446.1 98.3h0M443.5 111.0h0M456.4 92.9h0M455.0 91.3h0M448.0 94.4h0M437.6 104.9h0M425.4 110.4h0M428.5 119.3h0M426.4 106.7h0M425.5 105.3h0M438.5 96.7h0M423.6 106.9h0M436.8 101.0h0M431.5 108.4h0M436.1 112.1h0M435.2 107.9h0M431.6 99.4h0" stroke="#8f8f8f" stroke-width="1.2" stroke-linecap="round" fill="none"/>
<path d="M443.2 99.3h0M441.6 99.3h0M437.0 95.9h0M435.2 99.6h0M440.9 101.9h0M441.5 98.0h0M437.8 97.6h0M440.2 97.6h0M436.8 102.0h0M438.1 101.6h0M438.4 98.0h0M441.2 102.5h0M439.1 98.2h0M436.9 101.1h0M438.1 103.2h0M435.9 102.5h0M442.4 101.2h0M441.3 101.8h0M434.2 101.7h0M443.1 99.5h0M437.8 98.8h0M439.8 101.7h0M437.5 98.9h0M441.0 104.2h0M438.7 96.4h0M441.0 101.0h0M439.0 100.4h0M434.5 95.3h0M436.5 98.7h0M439.8 94.0h0M446.1 98.2h0M438.8 95.9h0M440.0 102.1h0M444.8 94.4h0M436.8 101.1h0M436.6 97.9h0M440.8 102.7h0M441.4 95.9h0M445.6 97.9h0M437.5 96.9h0M441.9 101.6h0M445.6 94.9h0M448.4 99.4h0M438.6 100.5h0M440.3 102.7h0M434.6 93.7h0M442.8 98.3h0M443.8 101.7h0M438.7 100.4h0M445.3 100.2h0M441.0 101.3h0M441.6 97.7h0M440.0 101.1h0M447.2 103.0h0M437.2 97.3h0M436.1 103.2h0M441.6 96.6h0M448.6 93.1h0M441.7 93.1h0M435.3 100.3h0M434.2 94.9h0M437.7 99.1h0M438.5 99.0h0M438.7 97.4h0M443.9 101.0h0M439.8 100.7h0M436.9 94.2h0M442.2 96.1h0M435.5 100.3h0M447.8 104.4h0M438.7 96.8h0M443.1 100.4h0M441.2 100.1h0M438.3 95.1h0M440.3 100.5h0M440.0 99.2h0M441.7 96.0h0M439.9 98.2h0M438.8 101.7h0M447.3 101.2h0M446.6 103.7h0M439.7 99.5h0M440.0 99.8h0M437.2 96.9h0M438.8 103.4h0M443.2 98.1h0M437.4 104.3h0M443.8 99.4h0M439.3 102.1h0M435.6 95.0h0M441.5 102.4h0M442.3 98.8h0M441.9 97.4h0M435.8 98.0h0M439.1 99.1h0M436.0 97.1h0M440.0 100.1h0M441.1 103.4h0M441.7 93.8h0M442.4 99.9h0M436.5 99.1h0M439.8 100.8h0M438.0 100.1h0M442.4 99.5h0M441.3 98.9h0M442.7 100.3h0M440.0 96.4h0M442.1 94.4h0M434.4 99.3h0M437.3 98.9h0M441.2 98.3h0M436.3 97.3h0M443.7 99.2h0M440.4 94.5h0M443.6 101.4h0M444.4 98.1h0M436.4 102.0h0M440.0 96.6h0M439.7 101.3h0M438.8 102.0h0M438.3 93.6h0M440.3 103.6h0M439.6 102.2h0M435.8 102.8h0M446.8 102.9h0M436.9 100.3h0M444.1 92.2h0M442.2 98.2h0M438.6 100.4h0M445.2 102.2h0M442.4 103.0h0M439.5 100.4h0M440.4 97.0h0M434.4 96.3h0M442.2 100.5h0M445.2 101.7h0M444.1 95.1h0M439.5 99.0h0M438.2 99.0h0M441.8 101.4h0M439.8 98.5h0M435.1 99.5h0M440.5 94.4h0M441.8 100.9h0M439.6 97.6h0M436.1 98.1h0M436.8 96.3h0M444.0 102.5h0M443.0 97.0h0M435.3 100.9h0M439.6 96.5h0M437.4 95.7h0M444.0 100.2h0M438.9 98.9h0M441.6 97.9h0M434.5 101.7h0M434.2 95.6h0M443.4 100.3h0M442.5 103.5h0M440.0 98.0h0M435.5 96.4h0M439.5 101.0h0M435.9 96.2h0M440.4 101.7h0M437.8 102.5h0M444.4 101.3h0M446.6 101.0h0M436.4 100.6h0M439.4 97.2h0M449.2 93.3h0M442.4 104.6h0M445.8 93.3h0M434.4 100.5h0M441.5 92.2h0M443.7 99.1h0M435.2 101.7h0M434.5 97.8h0M447.5 98.9h0M443.4 102.1h0M435.2 98.6h0M440.3 103.2h0M441.8 91.8h0M443.2 94.9h0M436.8 100.5h0M439.8 98.0h0M435.5 102.2h0M443.9 97.5h0M446.8 94.0h0M441.5 102.0h0M437.4 103.0h0M443.3 96.2h0M445.6 101.5h0M444.8 101.6h0M440.1 101.7h0M441.7 99.1h0M441.6 96.4h0M443.6 104.1h0M440.0 101.1h0M435.8 102.3h0M435.5 102.4h0M446.5 95.3h0M440.5 96.6h0M445.6 101.8h0M438.3 96.5h0M441.2 93.6h0M435.2 104.3h0M439.1 99.6h0M437.9 97.6h0M437.2 97.9h0M435.4 94.1h0M443.2 99.2h0M436.7 101.0h0M436.0 95.6h0M438.5 96.3h0M440.4 101.5h0M435.3 101.1h0M440.0 102.5h0M437.1 103.7h0M441.7 104.0h0M438.3 93.4h0M436.9 98.3h0M435.5 93.5h0M444.8 94.5h0M444.3 99.0h0M438.9 102.8h0M441.4 100.9h0M437.7 99.0h0M443.9 93.6h0M438.2 96.6h0M439.7 94.0h0M442.7 103.7h0M449.4 98.6h0M443.8 103.7h0M439.2 99.2h0M440.4 98.1h0M437.8 92.8h0M437.3 104.1h0M435.4 101.7h0M444.7 95.1h0M441.7 101.5h0M446.6 97.5h0M444.8 99.5h0M442.2 97.1h0M439.8 103.5h0M443.4 103.8h0M441.6 104.6h0M447.5 99.1h0M434.9 100.0h0M435.2 98.7h0M436.3 101.3h0M445.4 95.5h0M440.3 98.4h0M446.0 98.6h0M434.7 102.8h0M439.8 100.2h0M439.3 97.2h0M438.7 99.1h0M442.5 101.7h0M438.6 101.0h0M435.1 102.9h0M441.4 99.6h0M442.5 96.6h0M444.5 99.5h0M442.0 100.6h0M435.6 100.3h0M441.4 99.0h0M437.1 102.5h0M437.2 101.4h0M438.4 98.1h0M442.5 101.6h0M447.3 93.4h0M443.6 100.7h0M445.4 101.6h0M443.6 98.6h0M447.1 99.2h0M439.8 101.7h0M436.9 96.4h0M444.4 98.9h0M448.7 98.5h0M443.0 102.6h0M442.4 100.2h0M445.4 100.1h0M444.2 104.2h0M439.6 98.5h0M442.9 103.3h0M436.5 101.7h0M437.8 102.1h0M441.3 103.4h0M437.6 102.3h0M442.8 99.3h0M437.6 98.6h0M435.7 99.1h0M440.4 99.8h0M434.6 98.7h0M441.9 98.6h0M437.9 96.3h0M446.8 95.6h0M440.8 93.9h0M436.3 102.3h0M437.3 100.4h0M459.4 26.2h0M499.2 32.7h0M476.7 36.3h0M460.8 39.8h0M444.0 49.8h0M465.2 49.8h0M470.4 47.5h0M477.1 50.8h0M479.6 52.7h0M459.8 54.6h0M464.6 53.7h0M440.2 59.0h0M467.1 57.5h0M471.9 58.5h0M478.7 59.4h0M458.5 61.3h0M462.7 61.0h0M468.1 62.3h0M475.8 62.7h0M445.0 68.1h0M461.3 67.1h0M470.0 66.2h0M474.8 69.0h0M443.1 71.0h0M448.8 71.9h0M458.5 71.0h0M466.2 71.9h0M469.0 74.8h0M472.9 75.8h0M446.9 75.8h0M453.7 77.7h0M462.3 77.7h0M468.1 77.7h0M442.1 79.6h0M458.5 81.5h0M464.2 83.5h0M469.0 82.5h0M492.1 84.4h0M439.2 83.5h0M444.0 85.4h0M450.8 85.4h0M456.5 87.3h0M461.3 88.3h0M466.2 88.8h0M489.8 90.2h0M452.7 91.2h0M458.5 92.1h0M463.3 93.1h0M479.6 94.0h0M454.6 96.0h0M465.2 102.7h0M473.0 61.2h0M453.4 93.4h0M451.4 87.3h0M472.0 64.5h0M458.3 71.1h0M470.5 67.8h0M453.4 95.6h0M446.8 88.6h0M460.0 82.3h0M438.0 100.5h0M452.7 80.1h0M466.7 70.8h0M447.7 79.1h0M448.6 96.7h0M442.6 92.4h0M458.4 74.7h0M438.1 99.9h0M453.3 78.6h0M463.4 91.3h0M449.6 88.8h0M460.8 81.0h0M457.5 66.6h0M442.0 79.8h0M437.2 83.4h0M445.4 103.2h0M463.0 70.8h0M466.3 62.7h0M450.2 91.8h0M467.4 67.9h0M459.5 47.1h0M439.1 89.0h0M458.4 73.0h0M479.2 63.7h0M453.6 91.1h0M470.1 65.0h0M461.1 70.6h0M448.2 89.0h0M449.0 91.6h0M438.8 83.6h0M455.0 84.3h0M455.7 86.4h0M458.0 68.0h0M454.0 80.0h0M459.7 86.3h0M456.0 81.8h0M459.3 64.9h0M452.4 76.8h0M453.0 83.9h0M461.9 45.9h0M462.1 66.5h0M465.5 67.8h0M463.9 61.4h0M453.9 62.2h0M446.5 88.3h0M444.6 88.1h0M458.7 75.5h0M457.5 78.1h0M455.3 94.9h0M474.2 87.9h0M484.0 52.0h0M464.8 68.2h0M456.1 56.6h0M455.4 85.4h0M458.3 93.8h0M441.9 103.1h0M470.6 71.5h0M454.0 77.5h0M460.4 84.2h0M457.5 81.6h0M446.2 70.9h0M441.4 85.8h0M441.7 98.5h0M438.0 87.1h0M448.0 89.9h0M456.0 78.0h0M437.4 70.5h0M447.1 98.3h0M445.7 100.3h0M435.7 93.8h0M441.9 82.0h0M456.0 94.5h0M462.8 59.2h0M452.0 88.0h0M468.4 70.5h0M455.6 75.8h0M439.1 83.2h0M474.5 65.0h0M468.2 75.5h0M452.2 98.8h0M456.8 68.9h0M458.1 100.8h0M454.9 92.8h0M462.4 65.9h0M446.2 100.0h0M475.0 72.7h0M468.9 48.4h0M471.3 78.8h0M465.0 78.1h0M459.9 52.9h0M463.2 66.9h0M463.2 70.2h0" stroke="#ee1a1a" stroke-width="2.3" stroke-linecap="round" fill="none"/>
<path d="M425.7 122.1h0M423.8 124.1h0M430.4 114.7h0M424.1 111.9h0M421.6 122.1h0M415.1 122.5h0M420.0 122.8h0M420.9 122.6h0M423.2 116.6h0M426.0 114.9h0M428.5 120.2h0M426.0 125.4h0M425.4 116.0h0M419.8 127.9h0M419.9 116.1h0M419.7 122.4h0M412.1 122.6h0M416.5 124.9h0M424.1 122.4h0M421.3 110.9h0M425.5 115.4h0M427.4 116.4h0M424.1 124.3h0M421.8 123.1h0M425.0 120.8h0M427.6 127.4h0M425.3 111.2h0M423.7 117.6h0M421.6 128.8h0M422.5 123.2h0M425.3 119.5h0M412.7 131.0h0M419.4 122.5h0M420.1 120.1h0M426.0 118.0h0M423.1 119.0h0M426.0 122.5h0M420.3 123.7h0M426.8 125.5h0M425.0 116.6h0M423.9 123.4h0M419.9 124.2h0M423.9 111.7h0M422.2 120.2h0M421.1 118.1h0M423.7 113.8h0M419.7 118.9h0M418.9 131.8h0M421.8 116.9h0M417.4 122.7h0M422.1 121.9h0M423.4 121.6h0M427.0 116.1h0M418.1 122.6h0M418.8 126.1h0M420.1 124.6h0M418.5 128.8h0M416.3 128.3h0M425.6 121.4h0M419.9 129.0h0M415.7 122.4h0M426.8 118.1h0M424.2 116.2h0M422.7 129.2h0M423.5 126.3h0M421.4 125.3h0M428.3 122.0h0M430.2 111.8h0M421.2 126.9h0M416.2 123.6h0M425.9 129.1h0M418.4 123.6h0M418.8 126.4h0M424.6 112.6h0M416.5 125.0h0M423.4 121.2h0M430.9 112.0h0M425.8 117.9h0M423.7 126.5h0M423.4 117.7h0M430.3 113.7h0M428.0 115.0h0M417.5 126.5h0M426.1 116.7h0M422.0 111.7h0M427.0 112.5h0M415.3 121.8h0M424.5 119.7h0M417.3 125.3h0M418.9 124.7h0M420.0 121.6h0M424.4 119.7h0M424.3 119.6h0M415.6 122.9h0M422.5 122.7h0M424.0 113.8h0M427.7 116.6h0M419.6 120.8h0M423.1 125.5h0M420.9 126.4h0M419.3 128.7h0M418.5 121.6h0M419.5 126.1h0M423.1 124.3h0M419.0 126.3h0M424.5 117.4h0M415.0 125.5h0M422.9 120.4h0M418.7 128.4h0M427.8 111.1h0M416.9 117.5h0M427.2 115.1h0M421.9 126.7h0M423.6 122.4h0M426.6 118.9h0M429.0 117.7h0M414.0 126.6h0M418.6 125.0h0M424.0 117.4h0M424.6 113.5h0M422.6 120.4h0M426.9 113.9h0M423.6 114.7h0M419.0 122.6h0M430.7 119.5h0M422.7 122.5h0M423.7 117.7h0M421.3 129.0h0M423.9 122.1h0M421.3 121.4h0M418.7 118.2h0M422.6 118.3h0M416.3 122.1h0M425.8 114.6h0M420.8 120.6h0M423.6 113.2h0M418.1 122.1h0M424.3 121.6h0M419.4 120.7h0M429.4 112.0h0M420.5 122.8h0M424.5 124.7h0M429.1 116.0h0M421.2 122.0h0M419.8 120.3h0M422.3 128.0h0M423.6 119.3h0M416.8 124.9h0M427.5 122.0h0M421.9 118.4h0M426.7 118.2h0M422.1 121.6h0M426.1 119.2h0M423.0 121.6h0M424.1 122.5h0M421.2 117.1h0M427.2 114.0h0M423.6 118.6h0M426.5 120.4h0M413.1 126.4h0M424.7 115.5h0M429.6 115.8h0M417.8 116.1h0M423.4 120.7h0M418.6 123.3h0M425.5 123.2h0M418.6 121.3h0M411.7 128.0h0M422.6 115.5h0M414.6 128.9h0M423.6 127.2h0M419.1 123.7h0M415.6 116.1h0M422.5 112.3h0M424.2 116.5h0M416.1 115.6h0M424.4 123.9h0M424.2 118.1h0M426.0 122.3h0M420.3 124.5h0M420.4 121.8h0M426.2 112.7h0M424.9 118.8h0M417.1 126.6h0M424.3 121.5h0M418.0 122.9h0M424.7 117.6h0M429.1 119.0h0M418.6 118.5h0M420.7 121.6h0M420.8 121.0h0M423.0 127.7h0M424.2 115.2h0M428.1 117.2h0M423.7 119.5h0M419.1 133.1h0M419.8 115.2h0M416.5 120.1h0M417.4 124.5h0M424.4 123.9h0M427.0 117.3h0M421.7 116.6h0M422.0 124.9h0M422.3 121.1h0M420.0 123.3h0M422.1 121.6h0M424.2 114.8h0M419.4 120.6h0M424.3 114.6h0M416.7 120.7h0M429.6 114.5h0M423.4 114.8h0M422.3 116.6h0M422.4 121.8h0M412.2 123.4h0M424.8 116.5h0M422.0 113.5h0M421.7 118.9h0M429.5 115.0h0M416.4 126.6h0M428.5 113.4h0M425.0 119.0h0M422.7 120.6h0M423.9 125.6h0M418.2 115.2h0M423.1 135.2h0M424.8 117.5h0M422.0 120.7h0M423.3 121.0h0M420.9 122.2h0M421.7 123.8h0M422.9 115.9h0M422.8 113.6h0M418.7 115.6h0M423.6 117.4h0M412.6 128.8h0M424.3 118.4h0M418.0 128.6h0M419.5 125.5h0M423.7 119.1h0M422.4 121.4h0M426.7 118.9h0M418.5 120.0h0M419.3 125.4h0M414.9 123.5h0M421.7 117.4h0M419.4 119.0h0M416.8 125.7h0M412.1 128.9h0M421.7 124.1h0M427.0 113.8h0M425.7 118.4h0M418.5 120.8h0M421.7 124.5h0M425.2 118.0h0M418.0 128.1h0M429.8 113.5h0M415.2 126.3h0M422.3 123.7h0M417.3 124.8h0M414.0 117.7h0M424.6 119.0h0M421.2 122.9h0M418.2 122.6h0M421.0 119.5h0M419.7 118.6h0M425.4 115.3h0M417.8 121.7h0M421.9 124.7h0M421.2 121.1h0M421.4 123.5h0M420.3 117.4h0M422.5 125.3h0M418.7 127.4h0M421.5 118.5h0M424.3 124.6h0M415.8 124.9h0M422.6 115.8h0M425.4 115.6h0M423.6 124.6h0M423.4 120.6h0M420.4 126.9h0M416.8 125.9h0M419.4 117.5h0M423.4 120.4h0M424.1 116.2h0M415.6 130.8h0M421.4 129.4h0M415.9 123.7h0M429.2 112.6h0M422.2 116.3h0M418.5 115.6h0M423.4 122.1h0M420.3 128.5h0M427.4 124.0h0M430.4 118.1h0M419.5 128.1h0M422.0 123.4h0M416.8 119.1h0M419.2 121.4h0M386.5 127.3h0M391.3 132.5h0M394.2 134.4h0M396.2 131.2h0M400.0 127.7h0M401.5 121.0h0M405.8 117.1h0M406.7 129.6h0M404.8 133.5h0M409.6 139.2h0M393.8 143.1h0M398.1 141.2h0M403.8 146.9h0M407.7 142.1h0M411.5 141.2h0M416.3 146.0h0M424.0 142.1h0M381.7 148.5h0M398.1 150.8h0M402.9 151.7h0M411.5 150.8h0M413.5 154.6h0M404.8 156.5h0M397.1 158.1h0M405.8 158.5h0M415.4 157.5h0M411.5 163.3h0M405.8 162.3h0M416.3 161.9h0M376.0 161.3h0M396.2 181.0h0M414.4 133.6h0M414.8 124.2h0M398.9 143.2h0M403.2 120.3h0M393.4 147.4h0M399.6 142.7h0M419.8 131.3h0M399.2 139.1h0M405.4 118.6h0M409.9 131.2h0M413.1 120.6h0M411.6 131.0h0" stroke="#28288e" stroke-width="2.3" stroke-linecap="round" fill="none"/>
<rect x="431.2" y="106.2" width="2.8" height="2.8" fill="#fff" stroke="#999" stroke-width="0.3"/>
<line x1="349.3" y1="24.5" x2="349.3" y2="191.2" stroke="#3a3a3a" stroke-width="1.3"/>
<line x1="348.7" y1="190.6" x2="517" y2="190.6" stroke="#3a3a3a" stroke-width="1.3"/>
<line x1="346.1" y1="184.1" x2="349.3" y2="184.1" stroke="#3a3a3a" stroke-width="0.9"/>
<line x1="354.6" y1="190.6" x2="354.6" y2="193.79999999999998" stroke="#3a3a3a" stroke-width="0.9"/>
<line x1="347.1" y1="171.3" x2="349.3" y2="171.3" stroke="#3a3a3a" stroke-width="0.9"/>
<line x1="367.6" y1="190.6" x2="367.6" y2="192.79999999999998" stroke="#3a3a3a" stroke-width="0.9"/>
<line x1="346.1" y1="158.6" x2="349.3" y2="158.6" stroke="#3a3a3a" stroke-width="0.9"/>
<line x1="380.6" y1="190.6" x2="380.6" y2="193.79999999999998" stroke="#3a3a3a" stroke-width="0.9"/>
<line x1="347.1" y1="145.8" x2="349.3" y2="145.8" stroke="#3a3a3a" stroke-width="0.9"/>
<line x1="393.6" y1="190.6" x2="393.6" y2="192.79999999999998" stroke="#3a3a3a" stroke-width="0.9"/>
<line x1="346.1" y1="133.1" x2="349.3" y2="133.1" stroke="#3a3a3a" stroke-width="0.9"/>
<line x1="406.6" y1="190.6" x2="406.6" y2="193.79999999999998" stroke="#3a3a3a" stroke-width="0.9"/>
<line x1="347.1" y1="120.3" x2="349.3" y2="120.3" stroke="#3a3a3a" stroke-width="0.9"/>
<line x1="419.6" y1="190.6" x2="419.6" y2="192.79999999999998" stroke="#3a3a3a" stroke-width="0.9"/>
<line x1="346.1" y1="107.6" x2="349.3" y2="107.6" stroke="#3a3a3a" stroke-width="0.9"/>
<line x1="432.6" y1="190.6" x2="432.6" y2="193.79999999999998" stroke="#3a3a3a" stroke-width="0.9"/>
<line x1="347.1" y1="94.8" x2="349.3" y2="94.8" stroke="#3a3a3a" stroke-width="0.9"/>
<line x1="445.6" y1="190.6" x2="445.6" y2="192.79999999999998" stroke="#3a3a3a" stroke-width="0.9"/>
<line x1="346.1" y1="82.1" x2="349.3" y2="82.1" stroke="#3a3a3a" stroke-width="0.9"/>
<line x1="458.6" y1="190.6" x2="458.6" y2="193.79999999999998" stroke="#3a3a3a" stroke-width="0.9"/>
<line x1="347.1" y1="69.3" x2="349.3" y2="69.3" stroke="#3a3a3a" stroke-width="0.9"/>
<line x1="471.6" y1="190.6" x2="471.6" y2="192.79999999999998" stroke="#3a3a3a" stroke-width="0.9"/>
<line x1="346.1" y1="56.6" x2="349.3" y2="56.6" stroke="#3a3a3a" stroke-width="0.9"/>
<line x1="484.6" y1="190.6" x2="484.6" y2="193.79999999999998" stroke="#3a3a3a" stroke-width="0.9"/>
<line x1="347.1" y1="43.8" x2="349.3" y2="43.8" stroke="#3a3a3a" stroke-width="0.9"/>
<line x1="497.6" y1="190.6" x2="497.6" y2="192.79999999999998" stroke="#3a3a3a" stroke-width="0.9"/>
<line x1="346.1" y1="31.1" x2="349.3" y2="31.1" stroke="#3a3a3a" stroke-width="0.9"/>
<line x1="510.6" y1="190.6" x2="510.6" y2="193.79999999999998" stroke="#3a3a3a" stroke-width="0.9"/>
<text x="343.4" y="34.0" font-size="8.2" fill="#3a3a3a" text-anchor="end" stroke="#3a3a3a" stroke-width="0.16">6</text>
<text x="510.6" y="204.6" font-size="8.2" fill="#3a3a3a" text-anchor="middle" stroke="#3a3a3a" stroke-width="0.16">6</text>
<text x="343.4" y="59.5" font-size="8.2" fill="#3a3a3a" text-anchor="end" stroke="#3a3a3a" stroke-width="0.16">4</text>
<text x="484.6" y="204.6" font-size="8.2" fill="#3a3a3a" text-anchor="middle" stroke="#3a3a3a" stroke-width="0.16">4</text>
<text x="343.4" y="85.0" font-size="8.2" fill="#3a3a3a" text-anchor="end" stroke="#3a3a3a" stroke-width="0.16">2</text>
<text x="458.6" y="204.6" font-size="8.2" fill="#3a3a3a" text-anchor="middle" stroke="#3a3a3a" stroke-width="0.16">2</text>
<text x="343.4" y="110.5" font-size="8.2" fill="#3a3a3a" text-anchor="end" stroke="#3a3a3a" stroke-width="0.16">0</text>
<text x="432.6" y="204.6" font-size="8.2" fill="#3a3a3a" text-anchor="middle" stroke="#3a3a3a" stroke-width="0.16">0</text>
<text x="343.4" y="136.0" font-size="8.2" fill="#3a3a3a" text-anchor="end" stroke="#3a3a3a" stroke-width="0.16">&#8722;2</text>
<text x="406.6" y="204.6" font-size="8.2" fill="#3a3a3a" text-anchor="middle" stroke="#3a3a3a" stroke-width="0.16">&#8722;2</text>
<text x="343.4" y="161.5" font-size="8.2" fill="#3a3a3a" text-anchor="end" stroke="#3a3a3a" stroke-width="0.16">&#8722;4</text>
<text x="380.6" y="204.6" font-size="8.2" fill="#3a3a3a" text-anchor="middle" stroke="#3a3a3a" stroke-width="0.16">&#8722;4</text>
<text x="343.4" y="187.0" font-size="8.2" fill="#3a3a3a" text-anchor="end" stroke="#3a3a3a" stroke-width="0.16">&#8722;6</text>
<text x="354.6" y="204.6" font-size="8.2" fill="#3a3a3a" text-anchor="middle" stroke="#3a3a3a" stroke-width="0.16">&#8722;6</text>
<rect x="505.5" y="25.5" width="13" height="8.5" fill="#fff"/>
<text x="506.8" y="32.5" font-size="8.8" font-weight="bold" fill="#b81c34" textLength="10.7" lengthAdjust="spacingAndGlyphs">UP</text>
<text x="353.6" y="187.3" font-size="8.6" font-weight="bold" fill="#24248a" textLength="27.2" lengthAdjust="spacingAndGlyphs">DOWN</text>
<text x="459" y="182.7" font-size="7.7" fill="#333" textLength="59.5" lengthAdjust="spacingAndGlyphs" stroke="#333" stroke-width="0.16">correlation = 0.57</text>
<rect x="380" y="211" width="107.5" height="12.2" fill="#f7dcc3"/>
<text x="433.7" y="220.8" font-size="9.2" fill="#333" text-anchor="middle" textLength="98" lengthAdjust="spacingAndGlyphs">LFC <tspan font-weight="bold" font-style="italic">in vitro</tspan> - shEVI1 vs shCtrl</text>
<rect x="321.2" y="58" width="11.2" height="99.8" fill="#c3c6e6"/>
<text x="331" y="107.9" font-size="9.2" fill="#333" text-anchor="middle" textLength="97" lengthAdjust="spacingAndGlyphs" transform="rotate(-90 331 107.9)">LFC <tspan font-weight="bold" font-style="italic">in vivo</tspan> - ON vs OFF Dox</text>
<text x="1.1" y="238.5" font-size="12" font-weight="bold" fill="#111" textLength="7.1" lengthAdjust="spacingAndGlyphs" stroke="#111" stroke-width="0.35">C</text>
<text x="76" y="238.7" font-size="8.6" font-weight="bold" fill="#1a1a1a" textLength="102.5" lengthAdjust="spacingAndGlyphs">Regulated by RUNX1/EVI1</text>
<circle cx="160.5" cy="296.8" r="45.8" fill="#f8e3ce" stroke="#6e5e58" stroke-width="1"/>
<circle cx="104.2" cy="297.2" r="54" fill="#c6c8ea" fill-opacity="0.92" stroke="#5a5a70" stroke-width="1"/>
<clipPath id="cb"><circle cx="104.2" cy="297.2" r="54"/></clipPath>
<circle cx="160.5" cy="296.8" r="45.8" fill="#c4bcd6" clip-path="url(#cb)" stroke="#8a8090" stroke-width="0.8"/>
<circle cx="104.2" cy="297.2" r="54" fill="none" stroke="#5a5a70" stroke-width="1"/>
<text x="30.9" y="285.8" font-size="8" font-style="italic" fill="#333" text-anchor="middle" textLength="22.5" lengthAdjust="spacingAndGlyphs" stroke="#333" stroke-width="0.16">in vivo</text>
<text x="30.9" y="295.6" font-size="8" fill="#333" text-anchor="middle" textLength="22.5" lengthAdjust="spacingAndGlyphs" stroke="#333" stroke-width="0.16">(1857)</text>
<text x="83.5" y="303" font-size="8.6" fill="#333" text-anchor="middle" textLength="18" lengthAdjust="spacingAndGlyphs" stroke="#333" stroke-width="0.16">1343</text>
<text x="136.3" y="303" font-size="8.6" font-weight="bold" fill="#1a1a1a" text-anchor="middle" textLength="15" lengthAdjust="spacingAndGlyphs">514</text>
<text x="179.6" y="303" font-size="8.6" fill="#333" text-anchor="middle" textLength="13.3" lengthAdjust="spacingAndGlyphs" stroke="#333" stroke-width="0.16">827</text>
<text x="226.2" y="285.8" font-size="8" font-style="italic" fill="#333" text-anchor="middle" textLength="24.7" lengthAdjust="spacingAndGlyphs" stroke="#333" stroke-width="0.16">in vitro</text>
<text x="226.2" y="295.4" font-size="8" fill="#333" text-anchor="middle" textLength="22.5" lengthAdjust="spacingAndGlyphs" stroke="#333" stroke-width="0.16">(1341)</text>
<text x="280" y="237.7" font-size="11.2" font-weight="bold" fill="#111" textLength="7.5" lengthAdjust="spacingAndGlyphs" stroke="#111" stroke-width="0.35">D</text>
<text x="400" y="286.8" font-size="7.6" fill="#333" text-anchor="end" textLength="69.5" lengthAdjust="spacingAndGlyphs" stroke="#333" stroke-width="0.16">GO Biological Process</text>
<line x1="326" y1="290.2" x2="400" y2="290.2" stroke="#333" stroke-width="1.2"/>
<text x="400" y="302.3" font-size="6.9" fill="#333" text-anchor="end" textLength="78.7" lengthAdjust="spacingAndGlyphs" stroke="#333" stroke-width="0.16">Regulation of cell adhesion</text>
<text x="400" y="322.6" font-size="6.9" fill="#333" text-anchor="end" textLength="62" lengthAdjust="spacingAndGlyphs" stroke="#333" stroke-width="0.16">Response to cytokine</text>
<text x="400" y="342.8" font-size="6.9" fill="#333" text-anchor="end" textLength="109.5" lengthAdjust="spacingAndGlyphs" stroke="#333" stroke-width="0.16">Positive regulation of TNF production</text>
<text x="400" y="365.2" font-size="6.9" fill="#333" text-anchor="end" textLength="117.5" lengthAdjust="spacingAndGlyphs" stroke="#333" stroke-width="0.16">Regulation of primary metabolic process</text>
<text x="400" y="386.5" font-size="6.9" fill="#333" text-anchor="end" textLength="41.5" lengthAdjust="spacingAndGlyphs" stroke="#333" stroke-width="0.16">Hematopoesis</text>
<text x="400" y="406.6" font-size="6.9" fill="#333" text-anchor="end" textLength="70.5" lengthAdjust="spacingAndGlyphs" stroke="#333" stroke-width="0.16">TGF&#946; signaling pathway</text>
<text x="400" y="425.9" font-size="6.9" fill="#333" text-anchor="end" textLength="67" lengthAdjust="spacingAndGlyphs" stroke="#333" stroke-width="0.16">IFN&#947; signaling pathway</text>
<text x="400" y="445.9" font-size="6.9" fill="#333" text-anchor="end" textLength="60" lengthAdjust="spacingAndGlyphs" stroke="#333" stroke-width="0.16">NF-kappaB signaling</text>
<rect x="403.6" y="290" width="55.7" height="83.3" fill="none" stroke="#444" stroke-width="0.9"/>
<rect x="403.6" y="376.2" width="55.7" height="83.1" fill="none" stroke="#444" stroke-width="0.9"/>
<circle cx="411.3" cy="299.5" r="1.75" fill="#777" stroke="#2a2a2a" stroke-width="0.8"/>
<circle cx="431.4" cy="299.5" r="1.75" fill="#d49550" stroke="#6a4010" stroke-width="0.8"/>
<circle cx="451.6" cy="299.5" r="6.5" fill="#3b46a6" stroke="#20266a" stroke-width="0.7"/>
<circle cx="411.3" cy="321.0" r="3.5" fill="#6e6e6e" stroke="#3a3a3a" stroke-width="0.7"/>
<circle cx="431.4" cy="321.0" r="3.5" fill="#ea8a1a" stroke="#8a5010" stroke-width="0.7"/>
<circle cx="451.6" cy="321.0" r="3.5" fill="#3b46a6" stroke="#20266a" stroke-width="0.7"/>
<circle cx="411.3" cy="342.2" r="3.5" fill="#6e6e6e" stroke="#3a3a3a" stroke-width="0.7"/>
<circle cx="431.4" cy="342.2" r="3.5" fill="#ea8a1a" stroke="#8a5010" stroke-width="0.7"/>
<circle cx="451.6" cy="342.2" r="1.75" fill="#3a3a80" stroke="#14143a" stroke-width="0.8"/>
<circle cx="411.3" cy="363.0" r="1.75" fill="#777" stroke="#2a2a2a" stroke-width="0.8"/>
<circle cx="431.4" cy="363.0" r="6.5" fill="#ea8a1a" stroke="#8a5010" stroke-width="0.7"/>
<circle cx="451.6" cy="363.0" r="1.75" fill="#3a3a80" stroke="#14143a" stroke-width="0.8"/>
<circle cx="411.3" cy="385.4" r="3.5" fill="#6e6e6e" stroke="#3a3a3a" stroke-width="0.7"/>
<circle cx="431.4" cy="385.4" r="3.5" fill="#ea8a1a" stroke="#8a5010" stroke-width="0.7"/>
<circle cx="451.6" cy="385.4" r="3.5" fill="#3b46a6" stroke="#20266a" stroke-width="0.7"/>
<circle cx="411.3" cy="406.2" r="6.5" fill="#6e6e6e" stroke="#3a3a3a" stroke-width="0.7"/>
<circle cx="431.4" cy="406.2" r="6.5" fill="#ea8a1a" stroke="#8a5010" stroke-width="0.7"/>
<circle cx="451.6" cy="406.2" r="1.75" fill="#3a3a80" stroke="#14143a" stroke-width="0.8"/>
<circle cx="411.3" cy="425.7" r="1.75" fill="#777" stroke="#2a2a2a" stroke-width="0.8"/>
<circle cx="431.4" cy="425.7" r="1.75" fill="#d49550" stroke="#6a4010" stroke-width="0.8"/>
<circle cx="451.6" cy="425.7" r="6.5" fill="#3b46a6" stroke="#20266a" stroke-width="0.7"/>
<circle cx="411.3" cy="445.4" r="1.75" fill="#777" stroke="#2a2a2a" stroke-width="0.8"/>
<circle cx="431.4" cy="445.4" r="1.75" fill="#d49550" stroke="#6a4010" stroke-width="0.8"/>
<circle cx="451.6" cy="445.4" r="6.5" fill="#3b46a6" stroke="#20266a" stroke-width="0.7"/>
<text x="410" y="283.3" font-size="7.2" fill="#6a6a6a" textLength="54" lengthAdjust="spacingAndGlyphs" transform="rotate(-45 410 283.3)" stroke="none">HNT-34 - in vitro</text>
<text x="433.2" y="283.3" font-size="7.2" fill="#ec9838" textLength="41.5" lengthAdjust="spacingAndGlyphs" transform="rotate(-45 433.2 283.3)" stroke="none">MM - in vitro</text>
<text x="455.3" y="283.3" font-size="7.2" fill="#7078c4" textLength="39.5" lengthAdjust="spacingAndGlyphs" transform="rotate(-45 455.3 283.3)" stroke="none">MM - in vivo</text>
<text x="497.8" y="277" font-size="7.6" fill="#333" text-anchor="middle" textLength="39" lengthAdjust="spacingAndGlyphs" stroke="#333" stroke-width="0.16">Upon loss of</text>
<text x="497.8" y="285.6" font-size="7.6" fill="#333" text-anchor="middle" textLength="14" lengthAdjust="spacingAndGlyphs" stroke="#333" stroke-width="0.16">EVI1</text>
<line x1="480.5" y1="290" x2="520" y2="290" stroke="#333" stroke-width="1.2"/>
<line x1="480.4" y1="349.6" x2="480.4" y2="332" stroke="#c0143c" stroke-width="1.1"/>
<path d="M480.4,328.6 L478.3,333.4 L482.5,333.4 Z" fill="#c0143c"/>
<text x="496" y="339.4" font-size="7.2" fill="#e05068" text-anchor="middle" textLength="37.2" lengthAdjust="spacingAndGlyphs" transform="rotate(-90 496 339.4)" stroke="#e05068" stroke-width="0.16">Upregulated</text>
<line x1="480.4" y1="409.4" x2="480.4" y2="426" stroke="#26268a" stroke-width="1.1"/>
<path d="M480.4,429.2 L478.3,424.4 L482.5,424.4 Z" fill="#26268a"/>
<text x="496" y="419.5" font-size="7.2" fill="#4a4aa8" text-anchor="middle" textLength="47" lengthAdjust="spacingAndGlyphs" transform="rotate(-90 496 419.5)" stroke="#4a4aa8" stroke-width="0.16">Downregulated</text>
<text x="405.6" y="471" font-size="6.5" fill="#333" textLength="52.4" lengthAdjust="spacingAndGlyphs" stroke="#333" stroke-width="0.16">P-value (adjusted):</text>
<circle cx="389.4" cy="480.2" r="6.2" fill="#c8c8c8" stroke="#555" stroke-width="0.6"/>
<text x="398.3" y="482.6" font-size="6.5" fill="#333" textLength="16" lengthAdjust="spacingAndGlyphs" stroke="#333" stroke-width="0.16">&lt; .01</text>
<circle cx="424.4" cy="480.2" r="3.5" fill="#c8c8c8" stroke="#555" stroke-width="0.6"/>
<text x="430" y="482.6" font-size="6.5" fill="#333" textLength="16" lengthAdjust="spacingAndGlyphs" stroke="#333" stroke-width="0.16">&lt; .05</text>
<circle cx="454" cy="480.2" r="1.6" fill="#999" stroke="#555" stroke-width="0.5"/>
<text x="459.4" y="482.6" font-size="6.5" fill="#333" textLength="14.6" lengthAdjust="spacingAndGlyphs" stroke="#333" stroke-width="0.16">&gt; .05</text>
<text x="1.9" y="376.8" font-size="12" font-weight="bold" fill="#111" textLength="6.1" lengthAdjust="spacingAndGlyphs" stroke="#111" stroke-width="0.35">E</text>
<rect x="16.30" y="413.75" width="17.66" height="3.22" fill="#1b5cb0"/>
<rect x="16.30" y="416.67" width="17.66" height="6.15" fill="#1a48a0"/>
<rect x="16.30" y="422.52" width="17.66" height="3.22" fill="#1b5cb0"/>
<rect x="16.30" y="425.45" width="17.66" height="3.22" fill="#1a48a0"/>
<rect x="16.30" y="428.37" width="17.66" height="3.22" fill="#1b5cb0"/>
<rect x="16.30" y="431.30" width="17.66" height="9.07" fill="#1a48a0"/>
<rect x="16.30" y="440.07" width="17.66" height="6.15" fill="#1a358e"/>
<rect x="16.30" y="445.92" width="17.66" height="3.22" fill="#1a48a0"/>
<rect x="16.30" y="448.84" width="17.66" height="6.15" fill="#0d1f62"/>
<rect x="16.30" y="454.69" width="17.66" height="3.22" fill="#1a358e"/>
<rect x="16.30" y="457.61" width="17.66" height="12.00" fill="#1a48a0"/>
<rect x="16.30" y="469.31" width="17.66" height="9.07" fill="#1b5cb0"/>
<rect x="16.30" y="478.08" width="17.66" height="6.15" fill="#1c74c0"/>
<rect x="16.30" y="483.93" width="17.66" height="6.15" fill="#1e8ccc"/>
<rect x="16.30" y="489.78" width="17.66" height="6.15" fill="#1c74c0"/>
<rect x="16.30" y="495.63" width="17.66" height="3.22" fill="#1b5cb0"/>
<rect x="16.30" y="498.55" width="17.66" height="3.22" fill="#1a48a0"/>
<rect x="16.30" y="501.48" width="17.66" height="14.92" fill="#1b5cb0"/>
<rect x="16.30" y="516.10" width="17.66" height="3.22" fill="#e0efb8"/>
<rect x="16.30" y="519.02" width="17.66" height="6.15" fill="#b8e0b5"/>
<rect x="16.30" y="524.87" width="17.66" height="3.22" fill="#e0efb8"/>
<rect x="16.30" y="527.80" width="17.66" height="3.22" fill="#b8e0b5"/>
<rect x="16.30" y="530.72" width="17.66" height="3.22" fill="#e0efb8"/>
<rect x="16.30" y="533.64" width="17.66" height="6.15" fill="#b8e0b5"/>
<rect x="16.30" y="539.49" width="17.66" height="9.07" fill="#7ecbbb"/>
<rect x="16.30" y="548.27" width="17.66" height="3.22" fill="#3cb8c2"/>
<rect x="16.30" y="551.19" width="17.66" height="6.15" fill="#b8e0b5"/>
<rect x="16.30" y="557.04" width="17.66" height="3.22" fill="#e0efb8"/>
<rect x="16.30" y="559.96" width="17.66" height="9.07" fill="#b8e0b5"/>
<rect x="16.30" y="568.74" width="17.66" height="6.15" fill="#7ecbbb"/>
<rect x="16.30" y="574.58" width="17.66" height="9.07" fill="#b8e0b5"/>
<rect x="16.30" y="583.36" width="17.66" height="6.15" fill="#3cb8c2"/>
<rect x="16.30" y="589.21" width="17.66" height="9.07" fill="#7ecbbb"/>
<rect x="16.30" y="597.98" width="17.66" height="6.15" fill="#3cb8c2"/>
<rect x="16.30" y="603.83" width="17.66" height="3.22" fill="#7ecbbb"/>
<rect x="16.30" y="606.75" width="17.66" height="3.22" fill="#b8e0b5"/>
<rect x="16.30" y="609.68" width="17.66" height="3.22" fill="#7ecbbb"/>
<rect x="33.66" y="413.75" width="17.66" height="3.22" fill="#1c74c0"/>
<rect x="33.66" y="416.67" width="17.66" height="3.22" fill="#1b5cb0"/>
<rect x="33.66" y="419.60" width="17.66" height="3.22" fill="#1a48a0"/>
<rect x="33.66" y="422.52" width="17.66" height="3.22" fill="#1b5cb0"/>
<rect x="33.66" y="425.45" width="17.66" height="6.15" fill="#1a48a0"/>
<rect x="33.66" y="431.30" width="17.66" height="3.22" fill="#1b5cb0"/>
<rect x="33.66" y="434.22" width="17.66" height="3.22" fill="#1c74c0"/>
<rect x="33.66" y="437.14" width="17.66" height="3.22" fill="#1e8ccc"/>
<rect x="33.66" y="440.07" width="17.66" height="9.07" fill="#1c74c0"/>
<rect x="33.66" y="448.84" width="17.66" height="6.15" fill="#1e8ccc"/>
<rect x="33.66" y="454.69" width="17.66" height="9.07" fill="#1c74c0"/>
<rect x="33.66" y="463.46" width="17.66" height="9.07" fill="#1e8ccc"/>
<rect x="33.66" y="472.24" width="17.66" height="6.15" fill="#1c74c0"/>
<rect x="33.66" y="478.08" width="17.66" height="6.15" fill="#1a48a0"/>
<rect x="33.66" y="483.93" width="17.66" height="14.92" fill="#1c74c0"/>
<rect x="33.66" y="498.55" width="17.66" height="3.22" fill="#1e8ccc"/>
<rect x="33.66" y="501.48" width="17.66" height="6.15" fill="#1c74c0"/>
<rect x="33.66" y="507.33" width="17.66" height="3.22" fill="#1b5cb0"/>
<rect x="33.66" y="510.25" width="17.66" height="3.22" fill="#1e8ccc"/>
<rect x="33.66" y="513.17" width="17.66" height="3.22" fill="#1c74c0"/>
<rect x="33.66" y="516.10" width="17.66" height="6.15" fill="#b8e0b5"/>
<rect x="33.66" y="521.95" width="17.66" height="3.22" fill="#e0efb8"/>
<rect x="33.66" y="524.87" width="17.66" height="6.15" fill="#b8e0b5"/>
<rect x="33.66" y="530.72" width="17.66" height="3.22" fill="#18a8c0"/>
<rect x="33.66" y="533.64" width="17.66" height="3.22" fill="#3cb8c2"/>
<rect x="33.66" y="536.57" width="17.66" height="3.22" fill="#7ecbbb"/>
<rect x="33.66" y="539.49" width="17.66" height="6.15" fill="#b8e0b5"/>
<rect x="33.66" y="545.34" width="17.66" height="3.22" fill="#e0efb8"/>
<rect x="33.66" y="548.27" width="17.66" height="6.15" fill="#b8e0b5"/>
<rect x="33.66" y="554.11" width="17.66" height="3.22" fill="#e0efb8"/>
<rect x="33.66" y="557.04" width="17.66" height="3.22" fill="#18a8c0"/>
<rect x="33.66" y="559.96" width="17.66" height="3.22" fill="#b8e0b5"/>
<rect x="33.66" y="562.89" width="17.66" height="6.15" fill="#e0efb8"/>
<rect x="33.66" y="568.74" width="17.66" height="6.15" fill="#b8e0b5"/>
<rect x="33.66" y="574.58" width="17.66" height="3.22" fill="#7ecbbb"/>
<rect x="33.66" y="577.51" width="17.66" height="3.22" fill="#b8e0b5"/>
<rect x="33.66" y="580.43" width="17.66" height="3.22" fill="#3cb8c2"/>
<rect x="33.66" y="583.36" width="17.66" height="3.22" fill="#7ecbbb"/>
<rect x="33.66" y="586.28" width="17.66" height="3.22" fill="#b8e0b5"/>
<rect x="33.66" y="589.21" width="17.66" height="3.22" fill="#3cb8c2"/>
<rect x="33.66" y="592.13" width="17.66" height="6.15" fill="#b8e0b5"/>
<rect x="33.66" y="597.98" width="17.66" height="3.22" fill="#7ecbbb"/>
<rect x="33.66" y="600.90" width="17.66" height="3.22" fill="#3cb8c2"/>
<rect x="33.66" y="603.83" width="17.66" height="3.22" fill="#7ecbbb"/>
<rect x="33.66" y="606.75" width="17.66" height="6.15" fill="#b8e0b5"/>
<rect x="51.02" y="413.75" width="17.66" height="6.15" fill="#1c74c0"/>
<rect x="51.02" y="419.60" width="17.66" height="3.22" fill="#1b5cb0"/>
<rect x="51.02" y="422.52" width="17.66" height="6.15" fill="#1c74c0"/>
<rect x="51.02" y="428.37" width="17.66" height="3.22" fill="#1b5cb0"/>
<rect x="51.02" y="431.30" width="17.66" height="6.15" fill="#1a48a0"/>
<rect x="51.02" y="437.14" width="17.66" height="3.22" fill="#1b5cb0"/>
<rect x="51.02" y="440.07" width="17.66" height="6.15" fill="#1a48a0"/>
<rect x="51.02" y="445.92" width="17.66" height="3.22" fill="#1b5cb0"/>
<rect x="51.02" y="448.84" width="17.66" height="9.07" fill="#1c74c0"/>
<rect x="51.02" y="457.61" width="17.66" height="3.22" fill="#1b5cb0"/>
<rect x="51.02" y="460.54" width="17.66" height="3.22" fill="#1c74c0"/>
<rect x="51.02" y="463.46" width="17.66" height="3.22" fill="#1b5cb0"/>
<rect x="51.02" y="466.39" width="17.66" height="9.07" fill="#1a48a0"/>
<rect x="51.02" y="475.16" width="17.66" height="9.07" fill="#1c74c0"/>
<rect x="51.02" y="483.93" width="17.66" height="6.15" fill="#1e8ccc"/>
<rect x="51.02" y="489.78" width="17.66" height="3.22" fill="#1c74c0"/>
<rect x="51.02" y="492.71" width="17.66" height="3.22" fill="#1b5cb0"/>
<rect x="51.02" y="495.63" width="17.66" height="20.77" fill="#1c74c0"/>
<rect x="51.02" y="516.10" width="17.66" height="14.92" fill="#b8e0b5"/>
<rect x="51.02" y="530.72" width="17.66" height="3.22" fill="#3cb8c2"/>
<rect x="51.02" y="533.64" width="17.66" height="6.15" fill="#7ecbbb"/>
<rect x="51.02" y="539.49" width="17.66" height="6.15" fill="#b8e0b5"/>
<rect x="51.02" y="545.34" width="17.66" height="6.15" fill="#7ecbbb"/>
<rect x="51.02" y="551.19" width="17.66" height="9.07" fill="#3cb8c2"/>
<rect x="51.02" y="559.96" width="17.66" height="3.22" fill="#7ecbbb"/>
<rect x="51.02" y="562.89" width="17.66" height="3.22" fill="#3cb8c2"/>
<rect x="51.02" y="565.81" width="17.66" height="3.22" fill="#18a8c0"/>
<rect x="51.02" y="568.74" width="17.66" height="3.22" fill="#7ecbbb"/>
<rect x="51.02" y="571.66" width="17.66" height="3.22" fill="#b8e0b5"/>
<rect x="51.02" y="574.58" width="17.66" height="3.22" fill="#7ecbbb"/>
<rect x="51.02" y="577.51" width="17.66" height="3.22" fill="#3cb8c2"/>
<rect x="51.02" y="580.43" width="17.66" height="3.22" fill="#18a8c0"/>
<rect x="51.02" y="583.36" width="17.66" height="6.15" fill="#3cb8c2"/>
<rect x="51.02" y="589.21" width="17.66" height="9.07" fill="#7ecbbb"/>
<rect x="51.02" y="597.98" width="17.66" height="3.22" fill="#b8e0b5"/>
<rect x="51.02" y="600.90" width="17.66" height="12.00" fill="#7ecbbb"/>
<rect x="68.37" y="413.75" width="17.66" height="6.15" fill="#1a48a0"/>
<rect x="68.37" y="419.60" width="17.66" height="9.07" fill="#1c74c0"/>
<rect x="68.37" y="428.37" width="17.66" height="3.22" fill="#1a48a0"/>
<rect x="68.37" y="431.30" width="17.66" height="9.07" fill="#1c74c0"/>
<rect x="68.37" y="440.07" width="17.66" height="3.22" fill="#1b5cb0"/>
<rect x="68.37" y="442.99" width="17.66" height="6.15" fill="#1c74c0"/>
<rect x="68.37" y="448.84" width="17.66" height="3.22" fill="#1e8ccc"/>
<rect x="68.37" y="451.77" width="17.66" height="6.15" fill="#1c74c0"/>
<rect x="68.37" y="457.61" width="17.66" height="9.07" fill="#1b5cb0"/>
<rect x="68.37" y="466.39" width="17.66" height="6.15" fill="#1a48a0"/>
<rect x="68.37" y="472.24" width="17.66" height="6.15" fill="#1b5cb0"/>
<rect x="68.37" y="478.08" width="17.66" height="6.15" fill="#1a48a0"/>
<rect x="68.37" y="483.93" width="17.66" height="3.22" fill="#1b5cb0"/>
<rect x="68.37" y="486.86" width="17.66" height="9.07" fill="#1a48a0"/>
<rect x="68.37" y="495.63" width="17.66" height="3.22" fill="#1b5cb0"/>
<rect x="68.37" y="498.55" width="17.66" height="6.15" fill="#1c74c0"/>
<rect x="68.37" y="504.40" width="17.66" height="12.00" fill="#1b5cb0"/>
<rect x="68.37" y="516.10" width="17.66" height="3.22" fill="#7ecbbb"/>
<rect x="68.37" y="519.02" width="17.66" height="12.00" fill="#3cb8c2"/>
<rect x="68.37" y="530.72" width="17.66" height="3.22" fill="#b8e0b5"/>
<rect x="68.37" y="533.64" width="17.66" height="3.22" fill="#7ecbbb"/>
<rect x="68.37" y="536.57" width="17.66" height="3.22" fill="#b8e0b5"/>
<rect x="68.37" y="539.49" width="17.66" height="3.22" fill="#7ecbbb"/>
<rect x="68.37" y="542.42" width="17.66" height="20.77" fill="#b8e0b5"/>
<rect x="68.37" y="562.89" width="17.66" height="3.22" fill="#3cb8c2"/>
<rect x="68.37" y="565.81" width="17.66" height="6.15" fill="#b8e0b5"/>
<rect x="68.37" y="571.66" width="17.66" height="6.15" fill="#18a8c0"/>
<rect x="68.37" y="577.51" width="17.66" height="3.22" fill="#3cb8c2"/>
<rect x="68.37" y="580.43" width="17.66" height="3.22" fill="#7ecbbb"/>
<rect x="68.37" y="583.36" width="17.66" height="29.54" fill="#b8e0b5"/>
<rect x="85.73" y="413.75" width="17.66" height="3.22" fill="#1c74c0"/>
<rect x="85.73" y="416.67" width="17.66" height="3.22" fill="#1b5cb0"/>
<rect x="85.73" y="419.60" width="17.66" height="3.22" fill="#1c74c0"/>
<rect x="85.73" y="422.52" width="17.66" height="6.15" fill="#1b5cb0"/>
<rect x="85.73" y="428.37" width="17.66" height="9.07" fill="#1c74c0"/>
<rect x="85.73" y="437.14" width="17.66" height="3.22" fill="#1a48a0"/>
<rect x="85.73" y="440.07" width="17.66" height="17.85" fill="#1c74c0"/>
<rect x="85.73" y="457.61" width="17.66" height="6.15" fill="#1a48a0"/>
<rect x="85.73" y="463.46" width="17.66" height="3.22" fill="#1b5cb0"/>
<rect x="85.73" y="466.39" width="17.66" height="3.22" fill="#1e8ccc"/>
<rect x="85.73" y="469.31" width="17.66" height="3.22" fill="#1c74c0"/>
<rect x="85.73" y="472.24" width="17.66" height="3.22" fill="#1a48a0"/>
<rect x="85.73" y="475.16" width="17.66" height="3.22" fill="#1c74c0"/>
<rect x="85.73" y="478.08" width="17.66" height="3.22" fill="#1e8ccc"/>
<rect x="85.73" y="481.01" width="17.66" height="3.22" fill="#1c74c0"/>
<rect x="85.73" y="483.93" width="17.66" height="3.22" fill="#1b5cb0"/>
<rect x="85.73" y="486.86" width="17.66" height="6.15" fill="#1a48a0"/>
<rect x="85.73" y="492.71" width="17.66" height="3.22" fill="#1b5cb0"/>
<rect x="85.73" y="495.63" width="17.66" height="3.22" fill="#1c74c0"/>
<rect x="85.73" y="498.55" width="17.66" height="17.85" fill="#1b5cb0"/>
<rect x="85.73" y="516.10" width="17.66" height="14.92" fill="#7ecbbb"/>
<rect x="85.73" y="530.72" width="17.66" height="3.22" fill="#b8e0b5"/>
<rect x="85.73" y="533.64" width="17.66" height="3.22" fill="#7ecbbb"/>
<rect x="85.73" y="536.57" width="17.66" height="3.22" fill="#e0efb8"/>
<rect x="85.73" y="539.49" width="17.66" height="6.15" fill="#b8e0b5"/>
<rect x="85.73" y="545.34" width="17.66" height="3.22" fill="#7ecbbb"/>
<rect x="85.73" y="548.27" width="17.66" height="3.22" fill="#3cb8c2"/>
<rect x="85.73" y="551.19" width="17.66" height="3.22" fill="#7ecbbb"/>
<rect x="85.73" y="554.11" width="17.66" height="3.22" fill="#3cb8c2"/>
<rect x="85.73" y="557.04" width="17.66" height="3.22" fill="#b8e0b5"/>
<rect x="85.73" y="559.96" width="17.66" height="3.22" fill="#3cb8c2"/>
<rect x="85.73" y="562.89" width="17.66" height="12.00" fill="#b8e0b5"/>
<rect x="85.73" y="574.58" width="17.66" height="3.22" fill="#7ecbbb"/>
<rect x="85.73" y="577.51" width="17.66" height="12.00" fill="#b8e0b5"/>
<rect x="85.73" y="589.21" width="17.66" height="3.22" fill="#7ecbbb"/>
<rect x="85.73" y="592.13" width="17.66" height="6.15" fill="#b8e0b5"/>
<rect x="85.73" y="597.98" width="17.66" height="3.22" fill="#e0efb8"/>
<rect x="85.73" y="600.90" width="17.66" height="3.22" fill="#b8e0b5"/>
<rect x="85.73" y="603.83" width="17.66" height="6.15" fill="#3cb8c2"/>
<rect x="85.73" y="609.68" width="17.66" height="3.22" fill="#b8e0b5"/>
<rect x="103.09" y="413.75" width="17.66" height="3.22" fill="#1b5cb0"/>
<rect x="103.09" y="416.67" width="17.66" height="3.22" fill="#1c74c0"/>
<rect x="103.09" y="419.60" width="17.66" height="6.15" fill="#1e8ccc"/>
<rect x="103.09" y="425.45" width="17.66" height="3.22" fill="#1c74c0"/>
<rect x="103.09" y="428.37" width="17.66" height="3.22" fill="#1e8ccc"/>
<rect x="103.09" y="431.30" width="17.66" height="6.15" fill="#1c74c0"/>
<rect x="103.09" y="437.14" width="17.66" height="35.39" fill="#1e8ccc"/>
<rect x="103.09" y="472.24" width="17.66" height="14.92" fill="#1c74c0"/>
<rect x="103.09" y="486.86" width="17.66" height="6.15" fill="#1e8ccc"/>
<rect x="103.09" y="492.71" width="17.66" height="3.22" fill="#1c74c0"/>
<rect x="103.09" y="495.63" width="17.66" height="9.07" fill="#1b5cb0"/>
<rect x="103.09" y="504.40" width="17.66" height="6.15" fill="#1c74c0"/>
<rect x="103.09" y="510.25" width="17.66" height="3.22" fill="#1b5cb0"/>
<rect x="103.09" y="513.17" width="17.66" height="3.22" fill="#1c74c0"/>
<rect x="103.09" y="516.10" width="17.66" height="12.00" fill="#b8e0b5"/>
<rect x="103.09" y="527.80" width="17.66" height="3.22" fill="#7ecbbb"/>
<rect x="103.09" y="530.72" width="17.66" height="3.22" fill="#3cb8c2"/>
<rect x="103.09" y="533.64" width="17.66" height="3.22" fill="#e0efb8"/>
<rect x="103.09" y="536.57" width="17.66" height="3.22" fill="#3cb8c2"/>
<rect x="103.09" y="539.49" width="17.66" height="6.15" fill="#18a8c0"/>
<rect x="103.09" y="545.34" width="17.66" height="6.15" fill="#7ecbbb"/>
<rect x="103.09" y="551.19" width="17.66" height="23.69" fill="#b8e0b5"/>
<rect x="103.09" y="574.58" width="17.66" height="9.07" fill="#e0efb8"/>
<rect x="103.09" y="583.36" width="17.66" height="9.07" fill="#b8e0b5"/>
<rect x="103.09" y="592.13" width="17.66" height="3.22" fill="#7ecbbb"/>
<rect x="103.09" y="595.05" width="17.66" height="9.07" fill="#b8e0b5"/>
<rect x="103.09" y="603.83" width="17.66" height="9.07" fill="#e0efb8"/>
<rect x="120.45" y="413.75" width="17.66" height="9.07" fill="#e0efb8"/>
<rect x="120.45" y="422.52" width="17.66" height="3.22" fill="#b8e0b5"/>
<rect x="120.45" y="425.45" width="17.66" height="3.22" fill="#7ecbbb"/>
<rect x="120.45" y="428.37" width="17.66" height="3.22" fill="#e0efb8"/>
<rect x="120.45" y="431.30" width="17.66" height="3.22" fill="#b8e0b5"/>
<rect x="120.45" y="434.22" width="17.66" height="3.22" fill="#7ecbbb"/>
<rect x="120.45" y="437.14" width="17.66" height="3.22" fill="#3cb8c2"/>
<rect x="120.45" y="440.07" width="17.66" height="3.22" fill="#7ecbbb"/>
<rect x="120.45" y="442.99" width="17.66" height="3.22" fill="#b8e0b5"/>
<rect x="120.45" y="445.92" width="17.66" height="3.22" fill="#e0efb8"/>
<rect x="120.45" y="448.84" width="17.66" height="6.15" fill="#7ecbbb"/>
<rect x="120.45" y="454.69" width="17.66" height="3.22" fill="#b8e0b5"/>
<rect x="120.45" y="457.61" width="17.66" height="3.22" fill="#18a8c0"/>
<rect x="120.45" y="460.54" width="17.66" height="3.22" fill="#7ecbbb"/>
<rect x="120.45" y="463.46" width="17.66" height="6.15" fill="#b8e0b5"/>
<rect x="120.45" y="469.31" width="17.66" height="20.77" fill="#18a8c0"/>
<rect x="120.45" y="489.78" width="17.66" height="3.22" fill="#3cb8c2"/>
<rect x="120.45" y="492.71" width="17.66" height="3.22" fill="#b8e0b5"/>
<rect x="120.45" y="495.63" width="17.66" height="12.00" fill="#7ecbbb"/>
<rect x="120.45" y="507.33" width="17.66" height="3.22" fill="#b8e0b5"/>
<rect x="120.45" y="510.25" width="17.66" height="6.15" fill="#7ecbbb"/>
<rect x="120.45" y="516.10" width="17.66" height="6.15" fill="#1a48a0"/>
<rect x="120.45" y="521.95" width="17.66" height="12.00" fill="#1c74c0"/>
<rect x="120.45" y="533.64" width="17.66" height="3.22" fill="#1e8ccc"/>
<rect x="120.45" y="536.57" width="17.66" height="6.15" fill="#1b5cb0"/>
<rect x="120.45" y="542.42" width="17.66" height="6.15" fill="#1a48a0"/>
<rect x="120.45" y="548.27" width="17.66" height="6.15" fill="#1a358e"/>
<rect x="120.45" y="554.11" width="17.66" height="6.15" fill="#1b5cb0"/>
<rect x="120.45" y="559.96" width="17.66" height="3.22" fill="#1a48a0"/>
<rect x="120.45" y="562.89" width="17.66" height="6.15" fill="#1b5cb0"/>
<rect x="120.45" y="568.74" width="17.66" height="12.00" fill="#1a358e"/>
<rect x="120.45" y="580.43" width="17.66" height="6.15" fill="#1b5cb0"/>
<rect x="120.45" y="586.28" width="17.66" height="6.15" fill="#1c74c0"/>
<rect x="120.45" y="592.13" width="17.66" height="6.15" fill="#1a48a0"/>
<rect x="120.45" y="597.98" width="17.66" height="3.22" fill="#1b5cb0"/>
<rect x="120.45" y="600.90" width="17.66" height="6.15" fill="#1c74c0"/>
<rect x="120.45" y="606.75" width="17.66" height="6.15" fill="#1b5cb0"/>
<rect x="137.81" y="413.75" width="17.66" height="3.22" fill="#7ecbbb"/>
<rect x="137.81" y="416.67" width="17.66" height="6.15" fill="#e0efb8"/>
<rect x="137.81" y="422.52" width="17.66" height="3.22" fill="#b8e0b5"/>
<rect x="137.81" y="425.45" width="17.66" height="3.22" fill="#e0efb8"/>
<rect x="137.81" y="428.37" width="17.66" height="6.15" fill="#b8e0b5"/>
<rect x="137.81" y="434.22" width="17.66" height="6.15" fill="#e0efb8"/>
<rect x="137.81" y="440.07" width="17.66" height="3.22" fill="#7ecbbb"/>
<rect x="137.81" y="442.99" width="17.66" height="3.22" fill="#b8e0b5"/>
<rect x="137.81" y="445.92" width="17.66" height="3.22" fill="#e0efb8"/>
<rect x="137.81" y="448.84" width="17.66" height="3.22" fill="#b8e0b5"/>
<rect x="137.81" y="451.77" width="17.66" height="3.22" fill="#e0efb8"/>
<rect x="137.81" y="454.69" width="17.66" height="9.07" fill="#b8e0b5"/>
<rect x="137.81" y="463.46" width="17.66" height="17.85" fill="#e0efb8"/>
<rect x="137.81" y="481.01" width="17.66" height="3.22" fill="#7ecbbb"/>
<rect x="137.81" y="483.93" width="17.66" height="3.22" fill="#b8e0b5"/>
<rect x="137.81" y="486.86" width="17.66" height="3.22" fill="#e0efb8"/>
<rect x="137.81" y="489.78" width="17.66" height="6.15" fill="#7ecbbb"/>
<rect x="137.81" y="495.63" width="17.66" height="9.07" fill="#b8e0b5"/>
<rect x="137.81" y="504.40" width="17.66" height="3.22" fill="#7ecbbb"/>
<rect x="137.81" y="507.33" width="17.66" height="9.07" fill="#b8e0b5"/>
<rect x="137.81" y="516.10" width="17.66" height="3.22" fill="#1b5cb0"/>
<rect x="137.81" y="519.02" width="17.66" height="6.15" fill="#1a48a0"/>
<rect x="137.81" y="524.87" width="17.66" height="9.07" fill="#1a358e"/>
<rect x="137.81" y="533.64" width="17.66" height="6.15" fill="#1c74c0"/>
<rect x="137.81" y="539.49" width="17.66" height="3.22" fill="#1b5cb0"/>
<rect x="137.81" y="542.42" width="17.66" height="3.22" fill="#1e8ccc"/>
<rect x="137.81" y="545.34" width="17.66" height="9.07" fill="#1c74c0"/>
<rect x="137.81" y="554.11" width="17.66" height="3.22" fill="#1b5cb0"/>
<rect x="137.81" y="557.04" width="17.66" height="3.22" fill="#1a48a0"/>
<rect x="137.81" y="559.96" width="17.66" height="3.22" fill="#1b5cb0"/>
<rect x="137.81" y="562.89" width="17.66" height="6.15" fill="#1a48a0"/>
<rect x="137.81" y="568.74" width="17.66" height="6.15" fill="#1c74c0"/>
<rect x="137.81" y="574.58" width="17.66" height="29.54" fill="#1e8ccc"/>
<rect x="137.81" y="603.83" width="17.66" height="6.15" fill="#1a48a0"/>
<rect x="137.81" y="609.68" width="17.66" height="3.22" fill="#1c74c0"/>
<rect x="155.17" y="413.75" width="17.66" height="3.22" fill="#18a8c0"/>
<rect x="155.17" y="416.67" width="17.66" height="3.22" fill="#3cb8c2"/>
<rect x="155.17" y="419.60" width="17.66" height="3.22" fill="#b8e0b5"/>
<rect x="155.17" y="422.52" width="17.66" height="3.22" fill="#7ecbbb"/>
<rect x="155.17" y="425.45" width="17.66" height="3.22" fill="#b8e0b5"/>
<rect x="155.17" y="428.37" width="17.66" height="3.22" fill="#18a8c0"/>
<rect x="155.17" y="431.30" width="17.66" height="12.00" fill="#e0efb8"/>
<rect x="155.17" y="442.99" width="17.66" height="6.15" fill="#b8e0b5"/>
<rect x="155.17" y="448.84" width="17.66" height="6.15" fill="#e0efb8"/>
<rect x="155.17" y="454.69" width="17.66" height="3.22" fill="#b8e0b5"/>
<rect x="155.17" y="457.61" width="17.66" height="26.62" fill="#e0efb8"/>
<rect x="155.17" y="483.93" width="17.66" height="3.22" fill="#7ecbbb"/>
<rect x="155.17" y="486.86" width="17.66" height="3.22" fill="#3cb8c2"/>
<rect x="155.17" y="489.78" width="17.66" height="3.22" fill="#b8e0b5"/>
<rect x="155.17" y="492.71" width="17.66" height="3.22" fill="#7ecbbb"/>
<rect x="155.17" y="495.63" width="17.66" height="3.22" fill="#3cb8c2"/>
<rect x="155.17" y="498.55" width="17.66" height="12.00" fill="#7ecbbb"/>
<rect x="155.17" y="510.25" width="17.66" height="6.15" fill="#b8e0b5"/>
<rect x="155.17" y="516.10" width="17.66" height="3.22" fill="#1b5cb0"/>
<rect x="155.17" y="519.02" width="17.66" height="9.07" fill="#1a48a0"/>
<rect x="155.17" y="527.80" width="17.66" height="6.15" fill="#1c74c0"/>
<rect x="155.17" y="533.64" width="17.66" height="9.07" fill="#1a358e"/>
<rect x="155.17" y="542.42" width="17.66" height="3.22" fill="#1b5cb0"/>
<rect x="155.17" y="545.34" width="17.66" height="29.54" fill="#1c74c0"/>
<rect x="155.17" y="574.58" width="17.66" height="12.00" fill="#1e8ccc"/>
<rect x="155.17" y="586.28" width="17.66" height="6.15" fill="#1b5cb0"/>
<rect x="155.17" y="592.13" width="17.66" height="20.77" fill="#1c74c0"/>
<rect x="172.52" y="413.75" width="17.66" height="3.22" fill="#e0efb8"/>
<rect x="172.52" y="416.67" width="17.66" height="3.22" fill="#b8e0b5"/>
<rect x="172.52" y="419.60" width="17.66" height="6.15" fill="#3cb8c2"/>
<rect x="172.52" y="425.45" width="17.66" height="3.22" fill="#18a8c0"/>
<rect x="172.52" y="428.37" width="17.66" height="12.00" fill="#7ecbbb"/>
<rect x="172.52" y="440.07" width="17.66" height="9.07" fill="#3cb8c2"/>
<rect x="172.52" y="448.84" width="17.66" height="9.07" fill="#7ecbbb"/>
<rect x="172.52" y="457.61" width="17.66" height="9.07" fill="#b8e0b5"/>
<rect x="172.52" y="466.39" width="17.66" height="3.22" fill="#7ecbbb"/>
<rect x="172.52" y="469.31" width="17.66" height="6.15" fill="#3cb8c2"/>
<rect x="172.52" y="475.16" width="17.66" height="3.22" fill="#7ecbbb"/>
<rect x="172.52" y="478.08" width="17.66" height="3.22" fill="#b8e0b5"/>
<rect x="172.52" y="481.01" width="17.66" height="3.22" fill="#e0efb8"/>
<rect x="172.52" y="483.93" width="17.66" height="12.00" fill="#3cb8c2"/>
<rect x="172.52" y="495.63" width="17.66" height="6.15" fill="#7ecbbb"/>
<rect x="172.52" y="501.48" width="17.66" height="9.07" fill="#b8e0b5"/>
<rect x="172.52" y="510.25" width="17.66" height="6.15" fill="#3cb8c2"/>
<rect x="172.52" y="516.10" width="17.66" height="6.15" fill="#1c74c0"/>
<rect x="172.52" y="521.95" width="17.66" height="3.22" fill="#1b5cb0"/>
<rect x="172.52" y="524.87" width="17.66" height="6.15" fill="#1c74c0"/>
<rect x="172.52" y="530.72" width="17.66" height="3.22" fill="#1e8ccc"/>
<rect x="172.52" y="533.64" width="17.66" height="23.69" fill="#1a48a0"/>
<rect x="172.52" y="557.04" width="17.66" height="3.22" fill="#1a358e"/>
<rect x="172.52" y="559.96" width="17.66" height="3.22" fill="#1b5cb0"/>
<rect x="172.52" y="562.89" width="17.66" height="6.15" fill="#1c74c0"/>
<rect x="172.52" y="568.74" width="17.66" height="3.22" fill="#1e8ccc"/>
<rect x="172.52" y="571.66" width="17.66" height="3.22" fill="#1b5cb0"/>
<rect x="172.52" y="574.58" width="17.66" height="6.15" fill="#1a48a0"/>
<rect x="172.52" y="580.43" width="17.66" height="3.22" fill="#1a358e"/>
<rect x="172.52" y="583.36" width="17.66" height="6.15" fill="#0d1f62"/>
<rect x="172.52" y="589.21" width="17.66" height="6.15" fill="#1a358e"/>
<rect x="172.52" y="595.05" width="17.66" height="3.22" fill="#1a48a0"/>
<rect x="172.52" y="597.98" width="17.66" height="6.15" fill="#1c74c0"/>
<rect x="172.52" y="603.83" width="17.66" height="3.22" fill="#1a48a0"/>
<rect x="172.52" y="606.75" width="17.66" height="3.22" fill="#1b5cb0"/>
<rect x="172.52" y="609.68" width="17.66" height="3.22" fill="#1c74c0"/>
<rect x="189.88" y="413.75" width="17.66" height="6.15" fill="#b8e0b5"/>
<rect x="189.88" y="419.60" width="17.66" height="3.22" fill="#7ecbbb"/>
<rect x="189.88" y="422.52" width="17.66" height="3.22" fill="#3cb8c2"/>
<rect x="189.88" y="425.45" width="17.66" height="3.22" fill="#b8e0b5"/>
<rect x="189.88" y="428.37" width="17.66" height="3.22" fill="#3cb8c2"/>
<rect x="189.88" y="431.30" width="17.66" height="3.22" fill="#7ecbbb"/>
<rect x="189.88" y="434.22" width="17.66" height="3.22" fill="#3cb8c2"/>
<rect x="189.88" y="437.14" width="17.66" height="3.22" fill="#7ecbbb"/>
<rect x="189.88" y="440.07" width="17.66" height="3.22" fill="#e0efb8"/>
<rect x="189.88" y="442.99" width="17.66" height="3.22" fill="#3cb8c2"/>
<rect x="189.88" y="445.92" width="17.66" height="6.15" fill="#7ecbbb"/>
<rect x="189.88" y="451.77" width="17.66" height="3.22" fill="#3cb8c2"/>
<rect x="189.88" y="454.69" width="17.66" height="3.22" fill="#18a8c0"/>
<rect x="189.88" y="457.61" width="17.66" height="6.15" fill="#7ecbbb"/>
<rect x="189.88" y="463.46" width="17.66" height="3.22" fill="#3cb8c2"/>
<rect x="189.88" y="466.39" width="17.66" height="3.22" fill="#7ecbbb"/>
<rect x="189.88" y="469.31" width="17.66" height="6.15" fill="#b8e0b5"/>
<rect x="189.88" y="475.16" width="17.66" height="3.22" fill="#7ecbbb"/>
<rect x="189.88" y="478.08" width="17.66" height="3.22" fill="#3cb8c2"/>
<rect x="189.88" y="481.01" width="17.66" height="3.22" fill="#18a8c0"/>
<rect x="189.88" y="483.93" width="17.66" height="6.15" fill="#e0efb8"/>
<rect x="189.88" y="489.78" width="17.66" height="3.22" fill="#b8e0b5"/>
<rect x="189.88" y="492.71" width="17.66" height="3.22" fill="#e0efb8"/>
<rect x="189.88" y="495.63" width="17.66" height="20.77" fill="#b8e0b5"/>
<rect x="189.88" y="516.10" width="17.66" height="12.00" fill="#1c74c0"/>
<rect x="189.88" y="527.80" width="17.66" height="3.22" fill="#1a48a0"/>
<rect x="189.88" y="530.72" width="17.66" height="3.22" fill="#1c74c0"/>
<rect x="189.88" y="533.64" width="17.66" height="26.62" fill="#1e8ccc"/>
<rect x="189.88" y="559.96" width="17.66" height="6.15" fill="#1c74c0"/>
<rect x="189.88" y="565.81" width="17.66" height="3.22" fill="#1b5cb0"/>
<rect x="189.88" y="568.74" width="17.66" height="6.15" fill="#1c74c0"/>
<rect x="189.88" y="574.58" width="17.66" height="14.92" fill="#1e8ccc"/>
<rect x="189.88" y="589.21" width="17.66" height="3.22" fill="#28aac8"/>
<rect x="189.88" y="592.13" width="17.66" height="6.15" fill="#1e8ccc"/>
<rect x="189.88" y="597.98" width="17.66" height="6.15" fill="#1a48a0"/>
<rect x="189.88" y="603.83" width="17.66" height="6.15" fill="#1e8ccc"/>
<rect x="189.88" y="609.68" width="17.66" height="3.22" fill="#1c74c0"/>
<rect x="207.24" y="413.75" width="17.66" height="6.15" fill="#3cb8c2"/>
<rect x="207.24" y="419.60" width="17.66" height="12.00" fill="#b8e0b5"/>
<rect x="207.24" y="431.30" width="17.66" height="12.00" fill="#3cb8c2"/>
<rect x="207.24" y="442.99" width="17.66" height="3.22" fill="#7ecbbb"/>
<rect x="207.24" y="445.92" width="17.66" height="6.15" fill="#18a8c0"/>
<rect x="207.24" y="451.77" width="17.66" height="3.22" fill="#3cb8c2"/>
<rect x="207.24" y="454.69" width="17.66" height="3.22" fill="#7ecbbb"/>
<rect x="207.24" y="457.61" width="17.66" height="3.22" fill="#b8e0b5"/>
<rect x="207.24" y="460.54" width="17.66" height="3.22" fill="#7ecbbb"/>
<rect x="207.24" y="463.46" width="17.66" height="6.15" fill="#b8e0b5"/>
<rect x="207.24" y="469.31" width="17.66" height="3.22" fill="#e0efb8"/>
<rect x="207.24" y="472.24" width="17.66" height="20.77" fill="#b8e0b5"/>
<rect x="207.24" y="492.71" width="17.66" height="3.22" fill="#3cb8c2"/>
<rect x="207.24" y="495.63" width="17.66" height="3.22" fill="#b8e0b5"/>
<rect x="207.24" y="498.55" width="17.66" height="6.15" fill="#e0efb8"/>
<rect x="207.24" y="504.40" width="17.66" height="6.15" fill="#b8e0b5"/>
<rect x="207.24" y="510.25" width="17.66" height="6.15" fill="#e0efb8"/>
<rect x="207.24" y="516.10" width="17.66" height="6.15" fill="#1c74c0"/>
<rect x="207.24" y="521.95" width="17.66" height="3.22" fill="#1b5cb0"/>
<rect x="207.24" y="524.87" width="17.66" height="6.15" fill="#1c74c0"/>
<rect x="207.24" y="530.72" width="17.66" height="3.22" fill="#1a48a0"/>
<rect x="207.24" y="533.64" width="17.66" height="6.15" fill="#1b5cb0"/>
<rect x="207.24" y="539.49" width="17.66" height="6.15" fill="#1c74c0"/>
<rect x="207.24" y="545.34" width="17.66" height="3.22" fill="#1a48a0"/>
<rect x="207.24" y="548.27" width="17.66" height="17.85" fill="#1c74c0"/>
<rect x="207.24" y="565.81" width="17.66" height="6.15" fill="#1a48a0"/>
<rect x="207.24" y="571.66" width="17.66" height="23.69" fill="#1b5cb0"/>
<rect x="207.24" y="595.05" width="17.66" height="3.22" fill="#1c74c0"/>
<rect x="207.24" y="597.98" width="17.66" height="3.22" fill="#1b5cb0"/>
<rect x="207.24" y="600.90" width="17.66" height="9.07" fill="#1a48a0"/>
<rect x="207.24" y="609.68" width="17.66" height="3.22" fill="#1b5cb0"/>
<rect x="16.3" y="515.60" width="208.30" height="1.0" fill="#ffffff"/>
<path d="M42.3,413.7 V411.2 H59.7 V413.7 M51.0,411.2 V409.5 M25.0,413.7 V409.5 H51.0" stroke="#333" stroke-width="0.7" fill="none"/>
<path d="M94.4,413.7 V411.2 H111.8 V413.7 M103.1,411.2 V409.5 M77.1,413.7 V409.5 H103.1" stroke="#333" stroke-width="0.7" fill="none"/>
<path d="M146.5,413.7 V411.2 H163.8 V413.7 M155.2,411.2 V409.5 M129.1,413.7 V409.5 H155.2" stroke="#333" stroke-width="0.7" fill="none"/>
<path d="M198.6,413.7 V411.2 H215.9 V413.7 M207.2,411.2 V409.5 M181.2,413.7 V409.5 H207.2" stroke="#333" stroke-width="0.7" fill="none"/>
<path d="M38.0,409.5 V407.8 H90.1 V409.5 M142.1,409.5 V407.8 H194.2 V409.5" stroke="#333" stroke-width="0.7" fill="none"/>
<path d="M64.0,407.8 V380.3 H168.2 V407.8" stroke="#333" stroke-width="0.7" fill="none"/>
<linearGradient id="zg" x1="0" x2="1" y1="0" y2="0"><stop offset="0" stop-color="#0c1d66"/><stop offset="0.18" stop-color="#1a3c9c"/><stop offset="0.35" stop-color="#1c6fbf"/><stop offset="0.5" stop-color="#1fa0d2"/><stop offset="0.62" stop-color="#3ab8c6"/><stop offset="0.75" stop-color="#9ad8bb"/><stop offset="0.88" stop-color="#d9efb8"/><stop offset="1" stop-color="#f2f7c4"/></linearGradient>
<rect x="191.4" y="376.4" width="33" height="19.2" fill="url(#zg)" stroke="#333" stroke-width="0.6"/>
<text x="190.9" y="373.4" font-size="7" fill="#333" textLength="34.8" lengthAdjust="spacingAndGlyphs" stroke="#333" stroke-width="0.16">row z score</text>
<text x="191.9" y="404.2" font-size="6.8" fill="#333" text-anchor="middle" stroke="#333" stroke-width="0.16">-2</text>
<text x="200.1" y="404.2" font-size="6.8" fill="#333" text-anchor="middle" stroke="#333" stroke-width="0.16">-1</text>
<text x="208.4" y="404.2" font-size="6.8" fill="#333" text-anchor="middle" stroke="#333" stroke-width="0.16">0</text>
<text x="214.8" y="404.2" font-size="6.8" fill="#333" text-anchor="middle" stroke="#333" stroke-width="0.16">1</text>
<text x="222.2" y="404.2" font-size="6.8" fill="#333" text-anchor="middle" stroke="#333" stroke-width="0.16">2</text>
<line x1="12.4" y1="416.2" x2="12.4" y2="513.6" stroke="#333" stroke-width="0.8"/>
<line x1="12.4" y1="517.8" x2="12.4" y2="610.3" stroke="#333" stroke-width="0.8"/>
<text x="7.6" y="465.5" font-size="6.6" fill="#333" text-anchor="middle" textLength="88" lengthAdjust="spacingAndGlyphs" transform="rotate(-90 7.6 465.5)" stroke="#333" stroke-width="0.16">common upregulated (35)</text>
<text x="7.6" y="564.4" font-size="6.6" fill="#333" text-anchor="middle" textLength="98.4" lengthAdjust="spacingAndGlyphs" transform="rotate(-90 7.6 564.4)" stroke="#333" stroke-width="0.16">common downregulated (33)</text>
<text x="234.5" y="448.4" font-size="7.0" font-style="italic" fill="#333" textLength="20.7" lengthAdjust="spacingAndGlyphs" stroke="#333" stroke-width="0.16">IL10RA</text>
<line x1="224.8" y1="445.9" x2="231.2" y2="445.9" stroke="#333" stroke-width="0.9"/>
<text x="234.5" y="471.0" font-size="7.0" font-style="italic" fill="#333" textLength="16.4" lengthAdjust="spacingAndGlyphs" stroke="#333" stroke-width="0.16">CCR1</text>
<line x1="224.8" y1="468.7" x2="231.2" y2="468.7" stroke="#333" stroke-width="0.9"/>
<text x="234.5" y="476.9" font-size="7.0" font-style="italic" fill="#333" textLength="22.5" lengthAdjust="spacingAndGlyphs" stroke="#333" stroke-width="0.16">CCND3</text>
<line x1="224.8" y1="473.9" x2="231.2" y2="473.9" stroke="#333" stroke-width="0.9"/>
<text x="234.5" y="484.9" font-size="7.0" font-style="italic" fill="#333" textLength="17.3" lengthAdjust="spacingAndGlyphs" stroke="#333" stroke-width="0.16">CDK6</text>
<path d="M224.8,486.7 H227.4 C229,486.7 229.8,483.6 231.3,483.6" fill="none" stroke="#333" stroke-width="0.9"/>
<text x="234.5" y="492.4" font-size="7.0" font-style="italic" fill="#333" textLength="20.2" lengthAdjust="spacingAndGlyphs" stroke="#333" stroke-width="0.16">RUNX1</text>
<path d="M224.8,488.6 H227.4 C229,488.6 229.8,491.7 231.3,491.7" fill="none" stroke="#333" stroke-width="0.9"/>
<text x="234.5" y="498.6" font-size="7.0" font-style="italic" fill="#333" textLength="11.2" lengthAdjust="spacingAndGlyphs" stroke="#333" stroke-width="0.16">SYK</text>
<line x1="224.8" y1="495.6" x2="231.2" y2="495.6" stroke="#333" stroke-width="0.9"/>
<text x="234.5" y="512.4" font-size="7.0" font-style="italic" fill="#333" textLength="14.7" lengthAdjust="spacingAndGlyphs" stroke="#333" stroke-width="0.16">BCL2</text>
<line x1="224.8" y1="509.9" x2="231.2" y2="509.9" stroke="#333" stroke-width="0.9"/>
<text x="234.5" y="521.1" font-size="7.0" font-style="italic" fill="#333" textLength="21.6" lengthAdjust="spacingAndGlyphs" stroke="#333" stroke-width="0.16">ZNF467</text>
<line x1="224.8" y1="518.4" x2="231.2" y2="518.4" stroke="#333" stroke-width="0.9"/>
<text x="234.5" y="528.3" font-size="7.0" font-style="italic" fill="#ee5a5a" textLength="25" lengthAdjust="spacingAndGlyphs" stroke="#ee5a5a" stroke-width="0.16">MECOM</text>
<path d="M224.8,520.3 H227.4 C229,520.3 229.8,523.6 231.3,523.6" fill="none" stroke="#333" stroke-width="0.9"/>
<text x="234.5" y="541.5" font-size="7.0" font-style="italic" fill="#333" textLength="15.5" lengthAdjust="spacingAndGlyphs" stroke="#333" stroke-width="0.16">CBX6</text>
<line x1="224.8" y1="539.0" x2="231.2" y2="539.0" stroke="#333" stroke-width="0.9"/>
<text x="234.5" y="552.0" font-size="7.0" font-style="italic" fill="#333" textLength="12.1" lengthAdjust="spacingAndGlyphs" stroke="#333" stroke-width="0.16">ERG</text>
<line x1="224.8" y1="549.5" x2="231.2" y2="549.5" stroke="#333" stroke-width="0.9"/>
<text x="234.5" y="561.8" font-size="7.0" font-style="italic" fill="#333" textLength="23.3" lengthAdjust="spacingAndGlyphs" stroke="#333" stroke-width="0.16">BCL11A</text>
<line x1="224.8" y1="559.3" x2="231.2" y2="559.3" stroke="#333" stroke-width="0.9"/>
<text x="234.5" y="568.7" font-size="7.0" font-style="italic" fill="#333" textLength="12.1" lengthAdjust="spacingAndGlyphs" stroke="#333" stroke-width="0.16">LYL1</text>
<path d="M224.8,561.6 H227.4 C229,561.6 229.8,565.6 231.3,565.6" fill="none" stroke="#333" stroke-width="0.9"/>
<text x="230.2" y="603.2" font-size="7.0" font-style="italic" fill="#333" textLength="16.4" lengthAdjust="spacingAndGlyphs" stroke="#333" stroke-width="0.16">HHEX</text>
<line x1="224.8" y1="600.7" x2="228.3" y2="600.7" stroke="#333" stroke-width="0.9"/>
<text x="230.2" y="612.3" font-size="7.0" font-style="italic" fill="#333" textLength="25" lengthAdjust="spacingAndGlyphs" stroke="#333" stroke-width="0.16">SHANK3</text>
<line x1="224.8" y1="609.8" x2="228.3" y2="609.8" stroke="#333" stroke-width="0.9"/>
<line x1="17" y1="616.4" x2="66.3" y2="616.4" stroke="#333" stroke-width="0.9"/>
<line x1="68.8" y1="616.4" x2="118.8" y2="616.4" stroke="#333" stroke-width="0.9"/>
<line x1="122" y1="616.4" x2="168.3" y2="616.4" stroke="#333" stroke-width="0.9"/>
<line x1="172.3" y1="616.4" x2="223" y2="616.4" stroke="#333" stroke-width="0.9"/>
<text x="41.4" y="626.4" font-size="7.3" fill="#333" text-anchor="middle" stroke="#333" stroke-width="0.16">RUNX1/EVI1</text>
<text x="41.4" y="634.6" font-size="7.3" fill="#333" text-anchor="middle" stroke="#333" stroke-width="0.16">OFF Dox</text>
<text x="93.5" y="626.4" font-size="7.3" fill="#333" text-anchor="middle" stroke="#333" stroke-width="0.16">HNT-34</text>
<text x="93.5" y="634.6" font-size="7.3" fill="#333" text-anchor="middle" stroke="#333" stroke-width="0.16">shCtrl</text>
<text x="146" y="626.4" font-size="7.3" fill="#333" text-anchor="middle" stroke="#333" stroke-width="0.16">RUNX1/EVI1</text>
<text x="146" y="634.6" font-size="7.3" fill="#333" text-anchor="middle" stroke="#333" stroke-width="0.16">ON Dox</text>
<text x="197.5" y="626.4" font-size="7.3" fill="#333" text-anchor="middle" stroke="#333" stroke-width="0.16">HNT-34</text>
<text x="197.5" y="634.6" font-size="7.3" fill="#333" text-anchor="middle" stroke="#333" stroke-width="0.16">shEVI1</text>
<text x="315.9" y="520.6" font-size="11.8" font-weight="bold" fill="#111" textLength="5.2" lengthAdjust="spacingAndGlyphs" stroke="#111" stroke-width="0.35">F</text>
<text x="359.5" y="520.9" font-size="7.8" textLength="150.3" lengthAdjust="spacingAndGlyphs" stroke="#222" stroke-width="0.16">Conserved downregulated upon loss of EVI1</text>
<rect x="351.3" y="526.1" width="165.8" height="99.3" fill="#fff" stroke="#555" stroke-width="0.8"/>
<line x1="351.3" y1="525.8" x2="351.3" y2="625.8" stroke="#222" stroke-width="1.3"/>
<line x1="351.3" y1="592.1" x2="517" y2="592.1" stroke="#aaa" stroke-width="0.6"/>
<line x1="351.3" y1="595.9" x2="517" y2="595.9" stroke="#bbb" stroke-width="0.6"/>
<text x="348.3" y="534.1" font-size="7.6" fill="#333" text-anchor="end" textLength="10.6" lengthAdjust="spacingAndGlyphs" stroke="#333" stroke-width="0.16">0.6</text>
<text x="348.3" y="554.3" font-size="7.6" fill="#333" text-anchor="end" textLength="10.6" lengthAdjust="spacingAndGlyphs" stroke="#333" stroke-width="0.16">0.4</text>
<text x="348.3" y="574.6" font-size="7.6" fill="#333" text-anchor="end" textLength="10.6" lengthAdjust="spacingAndGlyphs" stroke="#333" stroke-width="0.16">0.2</text>
<text x="348.3" y="594.9" font-size="7.6" fill="#333" text-anchor="end" textLength="10.6" lengthAdjust="spacingAndGlyphs" stroke="#333" stroke-width="0.16">0.0</text>
<text x="332.3" y="561.3" font-size="7.4" fill="#333" text-anchor="middle" textLength="66" lengthAdjust="spacingAndGlyphs" transform="rotate(-90 332.3 561.3)" stroke="#333" stroke-width="0.16">Enrichment score (ES)</text>
<text x="515.5" y="534" font-size="7" fill="#333" text-anchor="end" textLength="31.5" lengthAdjust="spacingAndGlyphs" stroke="#333" stroke-width="0.16">NES: 1.813</text>
<text x="515.5" y="542.6" font-size="7" fill="#333" text-anchor="end" textLength="62" lengthAdjust="spacingAndGlyphs" stroke="#333" stroke-width="0.16">FDR q-value: 0.00054</text>
<path d="M351.4,592.7 L351.9,556 L352.3,553 L354,554.6 L356.5,555.5 L357.3,554 L359,547.7 L360.5,549 L361,550 L362.3,541.5 L363,543 L363.8,535 L364.6,536 L365.5,528.9 L367,530 L369,531.5 L371,530 L372.5,529.8 L374,528.6 L377,530.5 L380,532.5 L383,534.5 L385.5,535.6 L388,534.4 L390.5,534.3 L393.5,535.2 L400,539 L420,550.5 L440,562 L452,569.8 L454.5,571.4 L456,572.5 L458.5,572 L460,574.5 L462,574 L466,576.5 L470,578.6 L472,577.8 L476,580.5 L479,582 L483,583.6 L487,585.8 L491,587.5 L493,586.5 L494.5,584.2 L496,586.5 L497,587.5 L498.5,584 L500,585.5 L505,589 L510.5,592.2" fill="none" stroke="#3c9c3c" stroke-width="1.05"/>
<line x1="357.1" y1="596.5" x2="357.1" y2="619.5" stroke="#444" stroke-width="0.9"/>
<line x1="362.3" y1="596.5" x2="362.3" y2="619.5" stroke="#333" stroke-width="0.9"/>
<line x1="363.2" y1="596.5" x2="363.2" y2="619.5" stroke="#555" stroke-width="0.9"/>
<line x1="364.9" y1="596.5" x2="364.9" y2="619.5" stroke="#444" stroke-width="0.9"/>
<line x1="365.8" y1="596.5" x2="365.8" y2="619.5" stroke="#666" stroke-width="0.9"/>
<line x1="372.7" y1="596.5" x2="372.7" y2="619.5" stroke="#555" stroke-width="0.9"/>
<line x1="374.4" y1="596.5" x2="374.4" y2="619.5" stroke="#666" stroke-width="0.9"/>
<line x1="386.5" y1="596.5" x2="386.5" y2="619.5" stroke="#555" stroke-width="0.9"/>
<line x1="389.1" y1="596.5" x2="389.1" y2="619.5" stroke="#777" stroke-width="0.9"/>
<line x1="390.3" y1="596.5" x2="390.3" y2="619.5" stroke="#555" stroke-width="0.9"/>
<line x1="391.7" y1="596.5" x2="391.7" y2="619.5" stroke="#888" stroke-width="0.9"/>
<line x1="393.1" y1="596.5" x2="393.1" y2="619.5" stroke="#777" stroke-width="0.9"/>
<line x1="399.5" y1="596.5" x2="399.5" y2="619.5" stroke="#555" stroke-width="0.9"/>
<line x1="403" y1="596.5" x2="403" y2="619.5" stroke="#666" stroke-width="0.9"/>
<line x1="421.1" y1="596.5" x2="421.1" y2="619.5" stroke="#555" stroke-width="0.9"/>
<line x1="443.5" y1="596.5" x2="443.5" y2="619.5" stroke="#555" stroke-width="0.9"/>
<line x1="456" y1="596.5" x2="456" y2="619.5" stroke="#777" stroke-width="0.9"/>
<line x1="456.8" y1="596.5" x2="456.8" y2="619.5" stroke="#888" stroke-width="0.9"/>
<line x1="466.3" y1="596.5" x2="466.3" y2="619.5" stroke="#666" stroke-width="0.9"/>
<line x1="469.8" y1="596.5" x2="469.8" y2="619.5" stroke="#777" stroke-width="0.9"/>
<line x1="480.2" y1="596.5" x2="480.2" y2="619.5" stroke="#555" stroke-width="0.9"/>
<line x1="493.1" y1="596.5" x2="493.1" y2="619.5" stroke="#666" stroke-width="0.9"/>
<line x1="496.6" y1="596.5" x2="496.6" y2="619.5" stroke="#666" stroke-width="0.9"/>
<linearGradient id="fg" x1="0" x2="1" y1="0" y2="0"><stop offset="0" stop-color="#dc2828"/><stop offset="0.18" stop-color="#e63c40"/><stop offset="0.24" stop-color="#ee7080"/><stop offset="0.29" stop-color="#f2aabb"/><stop offset="0.55" stop-color="#f3c4d0"/><stop offset="0.6" stop-color="#e6d8e8"/><stop offset="0.74" stop-color="#d0d0ec"/><stop offset="0.79" stop-color="#9898d4"/><stop offset="0.86" stop-color="#6666be"/><stop offset="1" stop-color="#30309a"/></linearGradient>
<rect x="351.8" y="619.4" width="159" height="5.9" fill="url(#fg)"/>
<line x1="351.3" y1="625.5" x2="517" y2="625.5" stroke="#333" stroke-width="0.8"/>
<text x="350.4" y="634.4" font-size="7.6" fill="#333" textLength="86" lengthAdjust="spacingAndGlyphs">Patients: <tspan font-style="italic">EVI1</tspan>-rearranged</text>
<text x="515.8" y="634.4" font-size="7.6" fill="#333" text-anchor="end" textLength="35" lengthAdjust="spacingAndGlyphs" stroke="#333" stroke-width="0.16">Other AML</text>
</svg>
</body></html>
